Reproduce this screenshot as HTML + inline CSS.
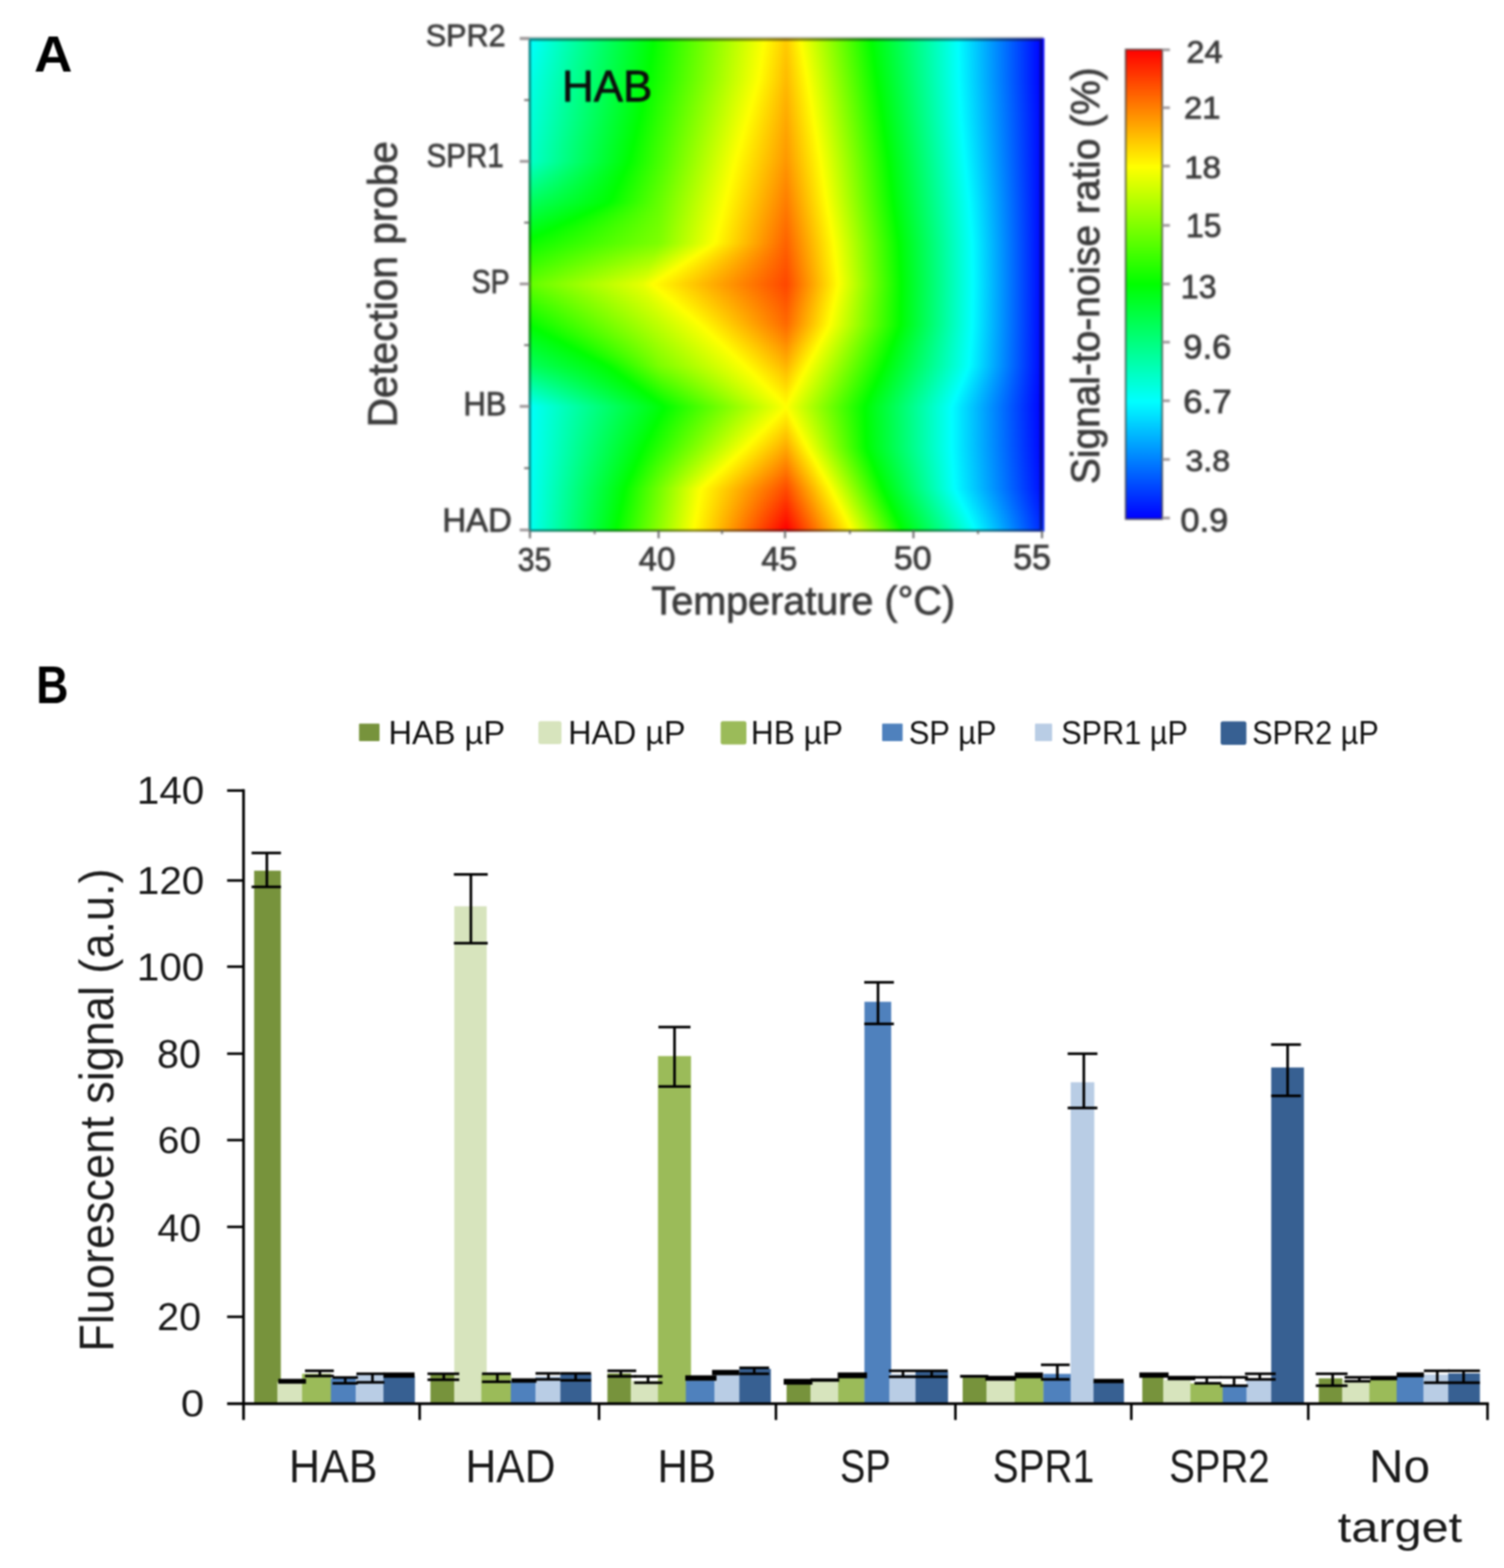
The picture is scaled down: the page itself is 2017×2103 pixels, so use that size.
<!DOCTYPE html>
<html lang="en">
<head>
<meta charset="utf-8">
<title>Figure: signal-to-noise heat map and fluorescent signal bar chart</title>
<style>
html,body{margin:0;padding:0;background:#fff}
body{width:2017px;height:2103px;overflow:hidden}
svg{display:block}
text{font-family:"Liberation Sans", sans-serif;white-space:pre}
.hr rect{shape-rendering:crispEdges}
</style>
</head>
<body>
<svg width="2017" height="2103" viewBox="0 0 2017 2103">
<defs>
<filter id="bl" filterUnits="userSpaceOnUse" x="0" y="0" width="2017" height="2103" color-interpolation-filters="sRGB"><feGaussianBlur stdDeviation="1.05"/></filter>
<filter id="bla" filterUnits="userSpaceOnUse" x="400" y="0" width="1400" height="870" color-interpolation-filters="sRGB"><feGaussianBlur stdDeviation="1.45"/></filter>
<linearGradient id="h0"><stop offset="0" stop-color="#00fffe"/><stop offset="0.0036" stop-color="#00fffe"/><stop offset="0.2428" stop-color="#00ff00"/><stop offset="0.2521" stop-color="#0bff00"/><stop offset="0.4566" stop-color="#feff00"/><stop offset="0.4575" stop-color="#ffff00"/><stop offset="0.4996" stop-color="#ffcb00"/><stop offset="0.5267" stop-color="#ffff00"/><stop offset="0.5272" stop-color="#feff00"/><stop offset="0.6639" stop-color="#00ff00"/><stop offset="0.833" stop-color="#00ffff"/><stop offset="0.9961" stop-color="#0000ff"/><stop offset="1" stop-color="#0000ff"/></linearGradient>
<linearGradient id="h1"><stop offset="0" stop-color="#00fffc"/><stop offset="0.0036" stop-color="#00fffc"/><stop offset="0.2422" stop-color="#00ff00"/><stop offset="0.2521" stop-color="#0cff00"/><stop offset="0.456" stop-color="#feff00"/><stop offset="0.4569" stop-color="#ffff00"/><stop offset="0.4996" stop-color="#ffca00"/><stop offset="0.5274" stop-color="#ffff00"/><stop offset="0.528" stop-color="#feff00"/><stop offset="0.6645" stop-color="#00ff00"/><stop offset="0.8331" stop-color="#00ffff"/><stop offset="0.9961" stop-color="#0000ff"/><stop offset="1" stop-color="#0000ff"/></linearGradient>
<linearGradient id="h2"><stop offset="0" stop-color="#00fffb"/><stop offset="0.0036" stop-color="#00fffb"/><stop offset="0.2416" stop-color="#00ff00"/><stop offset="0.2521" stop-color="#0dff00"/><stop offset="0.4553" stop-color="#feff00"/><stop offset="0.4562" stop-color="#ffff00"/><stop offset="0.4996" stop-color="#ffc900"/><stop offset="0.5282" stop-color="#ffff00"/><stop offset="0.5288" stop-color="#feff00"/><stop offset="0.6651" stop-color="#00ff00"/><stop offset="0.8331" stop-color="#00ffff"/><stop offset="0.9961" stop-color="#0000ff"/><stop offset="1" stop-color="#0000ff"/></linearGradient>
<linearGradient id="h3"><stop offset="0" stop-color="#00fffa"/><stop offset="0.0036" stop-color="#00fffa"/><stop offset="0.241" stop-color="#00ff00"/><stop offset="0.2521" stop-color="#0dff00"/><stop offset="0.4547" stop-color="#feff00"/><stop offset="0.4556" stop-color="#ffff00"/><stop offset="0.4996" stop-color="#ffc800"/><stop offset="0.529" stop-color="#ffff00"/><stop offset="0.5296" stop-color="#feff00"/><stop offset="0.6657" stop-color="#00ff00"/><stop offset="0.8332" stop-color="#00ffff"/><stop offset="0.9961" stop-color="#0000ff"/><stop offset="1" stop-color="#0000ff"/></linearGradient>
<linearGradient id="h4"><stop offset="0" stop-color="#00fff9"/><stop offset="0.0036" stop-color="#00fff9"/><stop offset="0.2404" stop-color="#00ff00"/><stop offset="0.2521" stop-color="#0eff00"/><stop offset="0.4541" stop-color="#feff00"/><stop offset="0.455" stop-color="#ffff00"/><stop offset="0.4996" stop-color="#ffc700"/><stop offset="0.5297" stop-color="#ffff00"/><stop offset="0.5303" stop-color="#feff00"/><stop offset="0.6663" stop-color="#00ff00"/><stop offset="0.8333" stop-color="#00ffff"/><stop offset="0.9961" stop-color="#0000ff"/><stop offset="1" stop-color="#0000ff"/></linearGradient>
<linearGradient id="h5"><stop offset="0" stop-color="#00fff8"/><stop offset="0.0036" stop-color="#00fff8"/><stop offset="0.2398" stop-color="#00ff00"/><stop offset="0.2521" stop-color="#0fff00"/><stop offset="0.4535" stop-color="#feff00"/><stop offset="0.4543" stop-color="#ffff00"/><stop offset="0.4996" stop-color="#ffc600"/><stop offset="0.5305" stop-color="#ffff00"/><stop offset="0.5311" stop-color="#feff00"/><stop offset="0.667" stop-color="#00ff00"/><stop offset="0.8334" stop-color="#00ffff"/><stop offset="0.9961" stop-color="#0000ff"/><stop offset="1" stop-color="#0000ff"/></linearGradient>
<linearGradient id="h6"><stop offset="0" stop-color="#00fff6"/><stop offset="0.0036" stop-color="#00fff6"/><stop offset="0.2392" stop-color="#00ff00"/><stop offset="0.2521" stop-color="#10ff00"/><stop offset="0.4528" stop-color="#feff00"/><stop offset="0.4537" stop-color="#ffff00"/><stop offset="0.4996" stop-color="#ffc500"/><stop offset="0.5313" stop-color="#ffff00"/><stop offset="0.5319" stop-color="#feff00"/><stop offset="0.6676" stop-color="#00ff00"/><stop offset="0.8335" stop-color="#00ffff"/><stop offset="0.9961" stop-color="#0000ff"/><stop offset="1" stop-color="#0000ff"/></linearGradient>
<linearGradient id="h7"><stop offset="0" stop-color="#00fff5"/><stop offset="0.0036" stop-color="#00fff5"/><stop offset="0.2386" stop-color="#00ff00"/><stop offset="0.2521" stop-color="#10ff00"/><stop offset="0.4522" stop-color="#feff00"/><stop offset="0.4531" stop-color="#ffff00"/><stop offset="0.4996" stop-color="#ffc400"/><stop offset="0.5321" stop-color="#ffff00"/><stop offset="0.5327" stop-color="#feff00"/><stop offset="0.6682" stop-color="#00ff00"/><stop offset="0.8335" stop-color="#00ffff"/><stop offset="0.9961" stop-color="#0000ff"/><stop offset="1" stop-color="#0000ff"/></linearGradient>
<linearGradient id="h8"><stop offset="0" stop-color="#00fff4"/><stop offset="0.0036" stop-color="#00fff4"/><stop offset="0.238" stop-color="#00ff00"/><stop offset="0.2521" stop-color="#11ff00"/><stop offset="0.4516" stop-color="#feff00"/><stop offset="0.4525" stop-color="#ffff00"/><stop offset="0.4996" stop-color="#ffc300"/><stop offset="0.5328" stop-color="#ffff00"/><stop offset="0.5334" stop-color="#feff00"/><stop offset="0.6688" stop-color="#00ff00"/><stop offset="0.8336" stop-color="#00ffff"/><stop offset="0.9961" stop-color="#0000ff"/><stop offset="1" stop-color="#0000ff"/></linearGradient>
<linearGradient id="h9"><stop offset="0" stop-color="#00fff3"/><stop offset="0.0036" stop-color="#00fff3"/><stop offset="0.2374" stop-color="#00ff00"/><stop offset="0.2521" stop-color="#12ff00"/><stop offset="0.451" stop-color="#feff00"/><stop offset="0.4518" stop-color="#ffff00"/><stop offset="0.4996" stop-color="#ffc200"/><stop offset="0.5336" stop-color="#ffff00"/><stop offset="0.5342" stop-color="#feff00"/><stop offset="0.6694" stop-color="#00ff00"/><stop offset="0.8337" stop-color="#00ffff"/><stop offset="0.9961" stop-color="#0000ff"/><stop offset="1" stop-color="#0000ff"/></linearGradient>
<linearGradient id="h10"><stop offset="0" stop-color="#00fff2"/><stop offset="0.0036" stop-color="#00fff2"/><stop offset="0.2368" stop-color="#00ff00"/><stop offset="0.2521" stop-color="#12ff00"/><stop offset="0.4503" stop-color="#feff00"/><stop offset="0.4512" stop-color="#ffff00"/><stop offset="0.4996" stop-color="#ffc100"/><stop offset="0.5344" stop-color="#ffff00"/><stop offset="0.535" stop-color="#feff00"/><stop offset="0.67" stop-color="#00ff00"/><stop offset="0.8338" stop-color="#00ffff"/><stop offset="0.9961" stop-color="#0000ff"/><stop offset="1" stop-color="#0000ff"/></linearGradient>
<linearGradient id="h11"><stop offset="0" stop-color="#00fff0"/><stop offset="0.0036" stop-color="#00fff0"/><stop offset="0.2362" stop-color="#00ff00"/><stop offset="0.2521" stop-color="#13ff00"/><stop offset="0.4497" stop-color="#feff00"/><stop offset="0.4506" stop-color="#ffff00"/><stop offset="0.4996" stop-color="#ffc000"/><stop offset="0.5351" stop-color="#ffff00"/><stop offset="0.5358" stop-color="#feff00"/><stop offset="0.6707" stop-color="#00ff00"/><stop offset="0.8339" stop-color="#00ffff"/><stop offset="0.9961" stop-color="#0000ff"/><stop offset="1" stop-color="#0000ff"/></linearGradient>
<linearGradient id="h12"><stop offset="0" stop-color="#00ffef"/><stop offset="0.0036" stop-color="#00ffef"/><stop offset="0.2355" stop-color="#00ff00"/><stop offset="0.2521" stop-color="#14ff00"/><stop offset="0.4491" stop-color="#feff00"/><stop offset="0.45" stop-color="#ffff00"/><stop offset="0.4996" stop-color="#ffbf00"/><stop offset="0.5359" stop-color="#ffff00"/><stop offset="0.5365" stop-color="#feff00"/><stop offset="0.6713" stop-color="#00ff00"/><stop offset="0.8339" stop-color="#00ffff"/><stop offset="0.9961" stop-color="#0000ff"/><stop offset="1" stop-color="#0000ff"/></linearGradient>
<linearGradient id="h13"><stop offset="0" stop-color="#00ffee"/><stop offset="0.0036" stop-color="#00ffee"/><stop offset="0.2349" stop-color="#00ff00"/><stop offset="0.2521" stop-color="#15ff00"/><stop offset="0.4485" stop-color="#feff00"/><stop offset="0.4493" stop-color="#ffff00"/><stop offset="0.4996" stop-color="#ffbe00"/><stop offset="0.5367" stop-color="#ffff00"/><stop offset="0.5373" stop-color="#feff00"/><stop offset="0.6719" stop-color="#00ff00"/><stop offset="0.834" stop-color="#00ffff"/><stop offset="0.9961" stop-color="#0000ff"/><stop offset="1" stop-color="#0000ff"/></linearGradient>
<linearGradient id="h14"><stop offset="0" stop-color="#00ffed"/><stop offset="0.0036" stop-color="#00ffed"/><stop offset="0.2343" stop-color="#00ff00"/><stop offset="0.2521" stop-color="#15ff00"/><stop offset="0.4478" stop-color="#feff00"/><stop offset="0.4487" stop-color="#ffff00"/><stop offset="0.4996" stop-color="#ffbd00"/><stop offset="0.5375" stop-color="#ffff00"/><stop offset="0.5381" stop-color="#feff00"/><stop offset="0.6725" stop-color="#00ff00"/><stop offset="0.8341" stop-color="#00ffff"/><stop offset="0.9961" stop-color="#0000ff"/><stop offset="1" stop-color="#0000ff"/></linearGradient>
<linearGradient id="h15"><stop offset="0" stop-color="#00ffec"/><stop offset="0.0036" stop-color="#00ffec"/><stop offset="0.2337" stop-color="#00ff00"/><stop offset="0.2521" stop-color="#16ff00"/><stop offset="0.4472" stop-color="#feff00"/><stop offset="0.4481" stop-color="#ffff00"/><stop offset="0.4996" stop-color="#ffbc00"/><stop offset="0.5382" stop-color="#ffff00"/><stop offset="0.5389" stop-color="#feff00"/><stop offset="0.6731" stop-color="#00ff00"/><stop offset="0.8342" stop-color="#00ffff"/><stop offset="0.9961" stop-color="#0000ff"/><stop offset="1" stop-color="#0000ff"/></linearGradient>
<linearGradient id="h16"><stop offset="0" stop-color="#00ffea"/><stop offset="0.0036" stop-color="#00ffea"/><stop offset="0.2331" stop-color="#00ff00"/><stop offset="0.2521" stop-color="#17ff00"/><stop offset="0.4466" stop-color="#feff00"/><stop offset="0.4474" stop-color="#ffff00"/><stop offset="0.4996" stop-color="#ffbc00"/><stop offset="0.539" stop-color="#ffff00"/><stop offset="0.5396" stop-color="#feff00"/><stop offset="0.6737" stop-color="#00ff00"/><stop offset="0.8343" stop-color="#00ffff"/><stop offset="0.9961" stop-color="#0000ff"/><stop offset="1" stop-color="#0000ff"/></linearGradient>
<linearGradient id="h17"><stop offset="0" stop-color="#00ffe9"/><stop offset="0.0036" stop-color="#00ffe9"/><stop offset="0.2325" stop-color="#00ff00"/><stop offset="0.2521" stop-color="#17ff00"/><stop offset="0.446" stop-color="#feff00"/><stop offset="0.4468" stop-color="#ffff00"/><stop offset="0.4996" stop-color="#ffbb00"/><stop offset="0.5398" stop-color="#ffff00"/><stop offset="0.5404" stop-color="#feff00"/><stop offset="0.6744" stop-color="#00ff00"/><stop offset="0.8343" stop-color="#00ffff"/><stop offset="0.9961" stop-color="#0000ff"/><stop offset="1" stop-color="#0000ff"/></linearGradient>
<linearGradient id="h18"><stop offset="0" stop-color="#00ffe8"/><stop offset="0.0036" stop-color="#00ffe8"/><stop offset="0.2319" stop-color="#00ff00"/><stop offset="0.2521" stop-color="#18ff00"/><stop offset="0.4453" stop-color="#feff00"/><stop offset="0.4462" stop-color="#ffff00"/><stop offset="0.4996" stop-color="#ffba00"/><stop offset="0.5405" stop-color="#ffff00"/><stop offset="0.5412" stop-color="#feff00"/><stop offset="0.675" stop-color="#00ff00"/><stop offset="0.8344" stop-color="#00ffff"/><stop offset="0.9961" stop-color="#0000ff"/><stop offset="1" stop-color="#0000ff"/></linearGradient>
<linearGradient id="h19"><stop offset="0" stop-color="#00ffe7"/><stop offset="0.0036" stop-color="#00ffe7"/><stop offset="0.231" stop-color="#00ff00"/><stop offset="0.2521" stop-color="#19ff00"/><stop offset="0.4442" stop-color="#feff00"/><stop offset="0.445" stop-color="#ffff00"/><stop offset="0.4996" stop-color="#ffb900"/><stop offset="0.5412" stop-color="#ffff00"/><stop offset="0.5419" stop-color="#feff00"/><stop offset="0.6756" stop-color="#00ff00"/><stop offset="0.8346" stop-color="#00ffff"/><stop offset="0.9961" stop-color="#0000ff"/><stop offset="1" stop-color="#0000ff"/></linearGradient>
<linearGradient id="h20"><stop offset="0" stop-color="#00ffe6"/><stop offset="0.0036" stop-color="#00ffe6"/><stop offset="0.2301" stop-color="#00ff00"/><stop offset="0.2521" stop-color="#1bff00"/><stop offset="0.4429" stop-color="#feff00"/><stop offset="0.4438" stop-color="#ffff00"/><stop offset="0.4996" stop-color="#ffb800"/><stop offset="0.5419" stop-color="#ffff00"/><stop offset="0.5426" stop-color="#feff00"/><stop offset="0.6762" stop-color="#00ff00"/><stop offset="0.8349" stop-color="#00ffff"/><stop offset="0.9961" stop-color="#0000ff"/><stop offset="1" stop-color="#0000ff"/></linearGradient>
<linearGradient id="h21"><stop offset="0" stop-color="#00ffe6"/><stop offset="0.0036" stop-color="#00ffe6"/><stop offset="0.2291" stop-color="#00ff00"/><stop offset="0.2521" stop-color="#1cff00"/><stop offset="0.4417" stop-color="#feff00"/><stop offset="0.4426" stop-color="#ffff00"/><stop offset="0.4996" stop-color="#ffb700"/><stop offset="0.5426" stop-color="#ffff00"/><stop offset="0.5433" stop-color="#feff00"/><stop offset="0.6769" stop-color="#00ff00"/><stop offset="0.8351" stop-color="#00ffff"/><stop offset="0.9961" stop-color="#0001ff"/><stop offset="1" stop-color="#0001ff"/></linearGradient>
<linearGradient id="h22"><stop offset="0" stop-color="#00ffe5"/><stop offset="0.0036" stop-color="#00ffe5"/><stop offset="0.2282" stop-color="#00ff00"/><stop offset="0.2521" stop-color="#1dff00"/><stop offset="0.4404" stop-color="#feff00"/><stop offset="0.4413" stop-color="#ffff00"/><stop offset="0.4996" stop-color="#ffb600"/><stop offset="0.5433" stop-color="#ffff00"/><stop offset="0.544" stop-color="#feff00"/><stop offset="0.6775" stop-color="#00ff00"/><stop offset="0.8353" stop-color="#00ffff"/><stop offset="0.9961" stop-color="#0001ff"/><stop offset="1" stop-color="#0001ff"/></linearGradient>
<linearGradient id="h23"><stop offset="0" stop-color="#00ffe4"/><stop offset="0.0036" stop-color="#00ffe4"/><stop offset="0.2273" stop-color="#00ff00"/><stop offset="0.2521" stop-color="#1eff00"/><stop offset="0.4392" stop-color="#feff00"/><stop offset="0.4401" stop-color="#ffff00"/><stop offset="0.4996" stop-color="#ffb500"/><stop offset="0.544" stop-color="#ffff00"/><stop offset="0.5446" stop-color="#feff00"/><stop offset="0.6781" stop-color="#00ff00"/><stop offset="0.8356" stop-color="#00ffff"/><stop offset="0.9961" stop-color="#0001ff"/><stop offset="1" stop-color="#0001ff"/></linearGradient>
<linearGradient id="h24"><stop offset="0" stop-color="#00ffe4"/><stop offset="0.0036" stop-color="#00ffe4"/><stop offset="0.2263" stop-color="#00ff00"/><stop offset="0.2521" stop-color="#1fff00"/><stop offset="0.438" stop-color="#feff00"/><stop offset="0.4389" stop-color="#ffff00"/><stop offset="0.4996" stop-color="#ffb400"/><stop offset="0.5447" stop-color="#ffff00"/><stop offset="0.5453" stop-color="#feff00"/><stop offset="0.6787" stop-color="#00ff00"/><stop offset="0.8358" stop-color="#00ffff"/><stop offset="0.9961" stop-color="#0001ff"/><stop offset="1" stop-color="#0001ff"/></linearGradient>
<linearGradient id="h25"><stop offset="0" stop-color="#00ffe3"/><stop offset="0.0036" stop-color="#00ffe3"/><stop offset="0.2254" stop-color="#00ff00"/><stop offset="0.2521" stop-color="#21ff00"/><stop offset="0.4367" stop-color="#feff00"/><stop offset="0.4376" stop-color="#ffff00"/><stop offset="0.4996" stop-color="#ffb300"/><stop offset="0.5454" stop-color="#ffff00"/><stop offset="0.546" stop-color="#feff00"/><stop offset="0.6794" stop-color="#00ff00"/><stop offset="0.836" stop-color="#00ffff"/><stop offset="0.9961" stop-color="#0002ff"/><stop offset="1" stop-color="#0002ff"/></linearGradient>
<linearGradient id="h26"><stop offset="0" stop-color="#00ffe2"/><stop offset="0.0036" stop-color="#00ffe2"/><stop offset="0.2245" stop-color="#00ff00"/><stop offset="0.2521" stop-color="#22ff00"/><stop offset="0.4355" stop-color="#feff00"/><stop offset="0.4364" stop-color="#ffff00"/><stop offset="0.4996" stop-color="#ffb200"/><stop offset="0.546" stop-color="#ffff00"/><stop offset="0.5467" stop-color="#feff00"/><stop offset="0.68" stop-color="#00ff00"/><stop offset="0.8363" stop-color="#00ffff"/><stop offset="0.9961" stop-color="#0002ff"/><stop offset="1" stop-color="#0002ff"/></linearGradient>
<linearGradient id="h27"><stop offset="0" stop-color="#00ffe1"/><stop offset="0.0036" stop-color="#00ffe1"/><stop offset="0.2235" stop-color="#00ff00"/><stop offset="0.2521" stop-color="#23ff00"/><stop offset="0.4342" stop-color="#feff00"/><stop offset="0.4352" stop-color="#ffff00"/><stop offset="0.4996" stop-color="#ffb100"/><stop offset="0.5467" stop-color="#ffff00"/><stop offset="0.5474" stop-color="#feff00"/><stop offset="0.6806" stop-color="#00ff00"/><stop offset="0.8365" stop-color="#00ffff"/><stop offset="0.9961" stop-color="#0002ff"/><stop offset="1" stop-color="#0002ff"/></linearGradient>
<linearGradient id="h28"><stop offset="0" stop-color="#00ffe1"/><stop offset="0.0036" stop-color="#00ffe1"/><stop offset="0.2226" stop-color="#00ff00"/><stop offset="0.2521" stop-color="#24ff00"/><stop offset="0.433" stop-color="#feff00"/><stop offset="0.4339" stop-color="#ffff00"/><stop offset="0.4996" stop-color="#ffb000"/><stop offset="0.5474" stop-color="#ffff00"/><stop offset="0.5481" stop-color="#feff00"/><stop offset="0.6812" stop-color="#00ff00"/><stop offset="0.8368" stop-color="#00ffff"/><stop offset="0.9961" stop-color="#0002ff"/><stop offset="1" stop-color="#0002ff"/></linearGradient>
<linearGradient id="h29"><stop offset="0" stop-color="#00ffe0"/><stop offset="0.0036" stop-color="#00ffe0"/><stop offset="0.2217" stop-color="#00ff00"/><stop offset="0.2521" stop-color="#25ff00"/><stop offset="0.4318" stop-color="#feff00"/><stop offset="0.4327" stop-color="#ffff00"/><stop offset="0.4996" stop-color="#ffaf00"/><stop offset="0.5481" stop-color="#ffff00"/><stop offset="0.5488" stop-color="#feff00"/><stop offset="0.6818" stop-color="#00ff00"/><stop offset="0.837" stop-color="#00ffff"/><stop offset="0.9961" stop-color="#0003ff"/><stop offset="1" stop-color="#0003ff"/></linearGradient>
<linearGradient id="h30"><stop offset="0" stop-color="#00ffdf"/><stop offset="0.0036" stop-color="#00ffdf"/><stop offset="0.2207" stop-color="#00ff00"/><stop offset="0.2521" stop-color="#27ff00"/><stop offset="0.4305" stop-color="#feff00"/><stop offset="0.4314" stop-color="#ffff00"/><stop offset="0.4996" stop-color="#ffae00"/><stop offset="0.5488" stop-color="#ffff00"/><stop offset="0.5495" stop-color="#feff00"/><stop offset="0.6825" stop-color="#00ff00"/><stop offset="0.8372" stop-color="#00ffff"/><stop offset="0.9961" stop-color="#0003ff"/><stop offset="1" stop-color="#0003ff"/></linearGradient>
<linearGradient id="h31"><stop offset="0" stop-color="#00ffde"/><stop offset="0.0036" stop-color="#00ffde"/><stop offset="0.2198" stop-color="#00ff00"/><stop offset="0.2521" stop-color="#28ff00"/><stop offset="0.4293" stop-color="#feff00"/><stop offset="0.4302" stop-color="#ffff00"/><stop offset="0.4996" stop-color="#ffad00"/><stop offset="0.5495" stop-color="#ffff00"/><stop offset="0.5501" stop-color="#feff00"/><stop offset="0.6831" stop-color="#00ff00"/><stop offset="0.8375" stop-color="#00ffff"/><stop offset="0.9961" stop-color="#0003ff"/><stop offset="1" stop-color="#0003ff"/></linearGradient>
<linearGradient id="h32"><stop offset="0" stop-color="#00ffde"/><stop offset="0.0036" stop-color="#00ffde"/><stop offset="0.2189" stop-color="#00ff00"/><stop offset="0.2521" stop-color="#29ff00"/><stop offset="0.428" stop-color="#feff00"/><stop offset="0.429" stop-color="#ffff00"/><stop offset="0.4996" stop-color="#ffac00"/><stop offset="0.5502" stop-color="#ffff00"/><stop offset="0.5508" stop-color="#feff00"/><stop offset="0.6837" stop-color="#00ff00"/><stop offset="0.8377" stop-color="#00ffff"/><stop offset="0.9961" stop-color="#0003ff"/><stop offset="1" stop-color="#0003ff"/></linearGradient>
<linearGradient id="h33"><stop offset="0" stop-color="#00ffdd"/><stop offset="0.0036" stop-color="#00ffdd"/><stop offset="0.2179" stop-color="#00ff00"/><stop offset="0.2521" stop-color="#2aff00"/><stop offset="0.4268" stop-color="#feff00"/><stop offset="0.4277" stop-color="#ffff00"/><stop offset="0.4996" stop-color="#ffab00"/><stop offset="0.5508" stop-color="#ffff00"/><stop offset="0.5515" stop-color="#feff00"/><stop offset="0.6843" stop-color="#00ff00"/><stop offset="0.8379" stop-color="#00ffff"/><stop offset="0.9961" stop-color="#0004ff"/><stop offset="1" stop-color="#0004ff"/></linearGradient>
<linearGradient id="h34"><stop offset="0" stop-color="#00ffdc"/><stop offset="0.0036" stop-color="#00ffdc"/><stop offset="0.217" stop-color="#00ff00"/><stop offset="0.2521" stop-color="#2bff00"/><stop offset="0.4256" stop-color="#feff00"/><stop offset="0.4265" stop-color="#ffff00"/><stop offset="0.4996" stop-color="#ffaa00"/><stop offset="0.5515" stop-color="#ffff00"/><stop offset="0.5522" stop-color="#feff00"/><stop offset="0.685" stop-color="#00ff00"/><stop offset="0.8382" stop-color="#00ffff"/><stop offset="0.9961" stop-color="#0004ff"/><stop offset="1" stop-color="#0004ff"/></linearGradient>
<linearGradient id="h35"><stop offset="0" stop-color="#00ffdc"/><stop offset="0.0036" stop-color="#00ffdc"/><stop offset="0.2161" stop-color="#00ff00"/><stop offset="0.2521" stop-color="#2dff00"/><stop offset="0.4243" stop-color="#feff00"/><stop offset="0.4253" stop-color="#ffff00"/><stop offset="0.4996" stop-color="#ffa900"/><stop offset="0.5522" stop-color="#ffff00"/><stop offset="0.5529" stop-color="#feff00"/><stop offset="0.6856" stop-color="#00ff00"/><stop offset="0.8384" stop-color="#00ffff"/><stop offset="0.9961" stop-color="#0004ff"/><stop offset="1" stop-color="#0004ff"/></linearGradient>
<linearGradient id="h36"><stop offset="0" stop-color="#00ffdb"/><stop offset="0.0036" stop-color="#00ffdb"/><stop offset="0.2151" stop-color="#00ff00"/><stop offset="0.2521" stop-color="#2eff00"/><stop offset="0.4231" stop-color="#feff00"/><stop offset="0.424" stop-color="#ffff00"/><stop offset="0.4996" stop-color="#ffa800"/><stop offset="0.5529" stop-color="#ffff00"/><stop offset="0.5536" stop-color="#feff00"/><stop offset="0.6862" stop-color="#00ff00"/><stop offset="0.8387" stop-color="#00ffff"/><stop offset="0.9961" stop-color="#0004ff"/><stop offset="1" stop-color="#0004ff"/></linearGradient>
<linearGradient id="h37"><stop offset="0" stop-color="#00ffda"/><stop offset="0.0036" stop-color="#00ffda"/><stop offset="0.2141" stop-color="#00ff00"/><stop offset="0.2521" stop-color="#2fff00"/><stop offset="0.4218" stop-color="#feff00"/><stop offset="0.4228" stop-color="#ffff00"/><stop offset="0.4996" stop-color="#ffa700"/><stop offset="0.5536" stop-color="#ffff00"/><stop offset="0.5543" stop-color="#feff00"/><stop offset="0.6868" stop-color="#00ff00"/><stop offset="0.839" stop-color="#00ffff"/><stop offset="0.9961" stop-color="#0004ff"/><stop offset="1" stop-color="#0004ff"/></linearGradient>
<linearGradient id="h38"><stop offset="0" stop-color="#00ffd9"/><stop offset="0.0036" stop-color="#00ffd9"/><stop offset="0.213" stop-color="#00ff00"/><stop offset="0.2521" stop-color="#30ff00"/><stop offset="0.4206" stop-color="#feff00"/><stop offset="0.4215" stop-color="#ffff00"/><stop offset="0.4996" stop-color="#ffa600"/><stop offset="0.5543" stop-color="#ffff00"/><stop offset="0.555" stop-color="#feff00"/><stop offset="0.6875" stop-color="#00ff00"/><stop offset="0.8394" stop-color="#00ffff"/><stop offset="0.9961" stop-color="#0004ff"/><stop offset="1" stop-color="#0004ff"/></linearGradient>
<linearGradient id="h39"><stop offset="0" stop-color="#00ffd8"/><stop offset="0.0036" stop-color="#00ffd8"/><stop offset="0.2119" stop-color="#00ff00"/><stop offset="0.2521" stop-color="#31ff00"/><stop offset="0.4193" stop-color="#feff00"/><stop offset="0.4203" stop-color="#ffff00"/><stop offset="0.4996" stop-color="#ffa500"/><stop offset="0.555" stop-color="#ffff00"/><stop offset="0.5557" stop-color="#feff00"/><stop offset="0.6881" stop-color="#00ff00"/><stop offset="0.8398" stop-color="#00ffff"/><stop offset="0.9961" stop-color="#0004ff"/><stop offset="1" stop-color="#0004ff"/></linearGradient>
<linearGradient id="h40"><stop offset="0" stop-color="#00ffd7"/><stop offset="0.0036" stop-color="#00ffd7"/><stop offset="0.2108" stop-color="#00ff00"/><stop offset="0.2521" stop-color="#33ff00"/><stop offset="0.4181" stop-color="#feff00"/><stop offset="0.4191" stop-color="#ffff00"/><stop offset="0.4996" stop-color="#ffa400"/><stop offset="0.5557" stop-color="#ffff00"/><stop offset="0.5564" stop-color="#feff00"/><stop offset="0.6887" stop-color="#00ff00"/><stop offset="0.8402" stop-color="#00ffff"/><stop offset="0.9961" stop-color="#0004ff"/><stop offset="1" stop-color="#0004ff"/></linearGradient>
<linearGradient id="h41"><stop offset="0" stop-color="#00ffd6"/><stop offset="0.0036" stop-color="#00ffd6"/><stop offset="0.2097" stop-color="#00ff00"/><stop offset="0.2521" stop-color="#34ff00"/><stop offset="0.4168" stop-color="#feff00"/><stop offset="0.4178" stop-color="#ffff00"/><stop offset="0.4996" stop-color="#ffa300"/><stop offset="0.5564" stop-color="#ffff00"/><stop offset="0.5571" stop-color="#feff00"/><stop offset="0.6893" stop-color="#00ff00"/><stop offset="0.8406" stop-color="#00ffff"/><stop offset="0.9961" stop-color="#0004ff"/><stop offset="1" stop-color="#0004ff"/></linearGradient>
<linearGradient id="h42"><stop offset="0" stop-color="#00ffd5"/><stop offset="0.0036" stop-color="#00ffd5"/><stop offset="0.2087" stop-color="#00ff00"/><stop offset="0.2521" stop-color="#35ff00"/><stop offset="0.4156" stop-color="#feff00"/><stop offset="0.4166" stop-color="#ffff00"/><stop offset="0.4996" stop-color="#ffa200"/><stop offset="0.5572" stop-color="#ffff00"/><stop offset="0.5578" stop-color="#feff00"/><stop offset="0.69" stop-color="#00ff00"/><stop offset="0.841" stop-color="#00ffff"/><stop offset="0.9961" stop-color="#0004ff"/><stop offset="1" stop-color="#0004ff"/></linearGradient>
<linearGradient id="h43"><stop offset="0" stop-color="#00ffd4"/><stop offset="0.0036" stop-color="#00ffd4"/><stop offset="0.2076" stop-color="#00ff00"/><stop offset="0.2521" stop-color="#36ff00"/><stop offset="0.4143" stop-color="#feff00"/><stop offset="0.4153" stop-color="#ffff00"/><stop offset="0.4996" stop-color="#ffa100"/><stop offset="0.5579" stop-color="#ffff00"/><stop offset="0.5586" stop-color="#feff00"/><stop offset="0.6906" stop-color="#00ff00"/><stop offset="0.8414" stop-color="#00ffff"/><stop offset="0.9961" stop-color="#0004ff"/><stop offset="1" stop-color="#0004ff"/></linearGradient>
<linearGradient id="h44"><stop offset="0" stop-color="#00ffd3"/><stop offset="0.0036" stop-color="#00ffd3"/><stop offset="0.2065" stop-color="#00ff00"/><stop offset="0.2521" stop-color="#38ff00"/><stop offset="0.4131" stop-color="#feff00"/><stop offset="0.4141" stop-color="#ffff00"/><stop offset="0.4996" stop-color="#ffa000"/><stop offset="0.5586" stop-color="#ffff00"/><stop offset="0.5593" stop-color="#feff00"/><stop offset="0.6912" stop-color="#00ff00"/><stop offset="0.8418" stop-color="#00ffff"/><stop offset="0.9961" stop-color="#0004ff"/><stop offset="1" stop-color="#0004ff"/></linearGradient>
<linearGradient id="h45"><stop offset="0" stop-color="#00ffd2"/><stop offset="0.0036" stop-color="#00ffd2"/><stop offset="0.2054" stop-color="#00ff00"/><stop offset="0.2521" stop-color="#39ff00"/><stop offset="0.4118" stop-color="#feff00"/><stop offset="0.4128" stop-color="#ffff00"/><stop offset="0.4996" stop-color="#ff9f00"/><stop offset="0.5593" stop-color="#ffff00"/><stop offset="0.56" stop-color="#feff00"/><stop offset="0.6918" stop-color="#00ff00"/><stop offset="0.8422" stop-color="#00ffff"/><stop offset="0.9961" stop-color="#0004ff"/><stop offset="1" stop-color="#0004ff"/></linearGradient>
<linearGradient id="h46"><stop offset="0" stop-color="#00ffd1"/><stop offset="0.0036" stop-color="#00ffd1"/><stop offset="0.2043" stop-color="#00ff00"/><stop offset="0.2521" stop-color="#3aff00"/><stop offset="0.4106" stop-color="#feff00"/><stop offset="0.4116" stop-color="#ffff00"/><stop offset="0.4996" stop-color="#ff9f00"/><stop offset="0.56" stop-color="#ffff00"/><stop offset="0.5607" stop-color="#feff00"/><stop offset="0.6925" stop-color="#00ff00"/><stop offset="0.8425" stop-color="#00ffff"/><stop offset="0.9961" stop-color="#0004ff"/><stop offset="1" stop-color="#0004ff"/></linearGradient>
<linearGradient id="h47"><stop offset="0" stop-color="#00ffd0"/><stop offset="0.0036" stop-color="#00ffd0"/><stop offset="0.2032" stop-color="#00ff00"/><stop offset="0.2521" stop-color="#3bff00"/><stop offset="0.4093" stop-color="#feff00"/><stop offset="0.4103" stop-color="#ffff00"/><stop offset="0.4996" stop-color="#ff9e00"/><stop offset="0.5607" stop-color="#ffff00"/><stop offset="0.5614" stop-color="#feff00"/><stop offset="0.6931" stop-color="#00ff00"/><stop offset="0.8429" stop-color="#00ffff"/><stop offset="0.9961" stop-color="#0004ff"/><stop offset="1" stop-color="#0004ff"/></linearGradient>
<linearGradient id="h48"><stop offset="0" stop-color="#00ffcf"/><stop offset="0.0036" stop-color="#00ffcf"/><stop offset="0.2021" stop-color="#00ff00"/><stop offset="0.2521" stop-color="#3cff00"/><stop offset="0.4081" stop-color="#feff00"/><stop offset="0.4091" stop-color="#ffff00"/><stop offset="0.4996" stop-color="#ff9d00"/><stop offset="0.5614" stop-color="#ffff00"/><stop offset="0.5621" stop-color="#feff00"/><stop offset="0.6937" stop-color="#00ff00"/><stop offset="0.8433" stop-color="#00ffff"/><stop offset="0.9961" stop-color="#0004ff"/><stop offset="1" stop-color="#0004ff"/></linearGradient>
<linearGradient id="h49"><stop offset="0" stop-color="#00ffce"/><stop offset="0.0036" stop-color="#00ffce"/><stop offset="0.201" stop-color="#00ff00"/><stop offset="0.2521" stop-color="#3eff00"/><stop offset="0.4068" stop-color="#feff00"/><stop offset="0.4079" stop-color="#ffff00"/><stop offset="0.4996" stop-color="#ff9c00"/><stop offset="0.5621" stop-color="#ffff00"/><stop offset="0.5628" stop-color="#feff00"/><stop offset="0.6943" stop-color="#00ff00"/><stop offset="0.8437" stop-color="#00ffff"/><stop offset="0.9961" stop-color="#0004ff"/><stop offset="1" stop-color="#0004ff"/></linearGradient>
<linearGradient id="h50"><stop offset="0" stop-color="#00ffcd"/><stop offset="0.0036" stop-color="#00ffcd"/><stop offset="0.1999" stop-color="#00ff00"/><stop offset="0.2521" stop-color="#3fff00"/><stop offset="0.4056" stop-color="#feff00"/><stop offset="0.4066" stop-color="#ffff00"/><stop offset="0.4996" stop-color="#ff9b00"/><stop offset="0.5628" stop-color="#ffff00"/><stop offset="0.5635" stop-color="#feff00"/><stop offset="0.695" stop-color="#00ff00"/><stop offset="0.8441" stop-color="#00ffff"/><stop offset="0.9961" stop-color="#0004ff"/><stop offset="1" stop-color="#0004ff"/></linearGradient>
<linearGradient id="h51"><stop offset="0" stop-color="#00ffcc"/><stop offset="0.0036" stop-color="#00ffcc"/><stop offset="0.1988" stop-color="#00ff00"/><stop offset="0.2521" stop-color="#40ff00"/><stop offset="0.4043" stop-color="#feff00"/><stop offset="0.4054" stop-color="#ffff00"/><stop offset="0.4996" stop-color="#ff9a00"/><stop offset="0.5636" stop-color="#ffff00"/><stop offset="0.5643" stop-color="#feff00"/><stop offset="0.6956" stop-color="#00ff00"/><stop offset="0.8445" stop-color="#00ffff"/><stop offset="0.9961" stop-color="#0004ff"/><stop offset="1" stop-color="#0004ff"/></linearGradient>
<linearGradient id="h52"><stop offset="0" stop-color="#00ffcc"/><stop offset="0.0036" stop-color="#00ffcc"/><stop offset="0.1977" stop-color="#00ff00"/><stop offset="0.2521" stop-color="#41ff00"/><stop offset="0.4031" stop-color="#feff00"/><stop offset="0.4041" stop-color="#ffff00"/><stop offset="0.4996" stop-color="#ff9900"/><stop offset="0.5643" stop-color="#ffff00"/><stop offset="0.565" stop-color="#feff00"/><stop offset="0.6962" stop-color="#00ff00"/><stop offset="0.8449" stop-color="#00ffff"/><stop offset="0.9961" stop-color="#0004ff"/><stop offset="1" stop-color="#0004ff"/></linearGradient>
<linearGradient id="h53"><stop offset="0" stop-color="#00ffcb"/><stop offset="0.0036" stop-color="#00ffcb"/><stop offset="0.1966" stop-color="#00ff00"/><stop offset="0.2521" stop-color="#42ff00"/><stop offset="0.4018" stop-color="#feff00"/><stop offset="0.4029" stop-color="#ffff00"/><stop offset="0.4996" stop-color="#ff9800"/><stop offset="0.565" stop-color="#ffff00"/><stop offset="0.5657" stop-color="#feff00"/><stop offset="0.6968" stop-color="#00ff00"/><stop offset="0.8453" stop-color="#00ffff"/><stop offset="0.9961" stop-color="#0004ff"/><stop offset="1" stop-color="#0004ff"/></linearGradient>
<linearGradient id="h54"><stop offset="0" stop-color="#00ffca"/><stop offset="0.0036" stop-color="#00ffca"/><stop offset="0.1956" stop-color="#00ff00"/><stop offset="0.2521" stop-color="#44ff00"/><stop offset="0.4006" stop-color="#feff00"/><stop offset="0.4016" stop-color="#ffff00"/><stop offset="0.4996" stop-color="#ff9700"/><stop offset="0.5657" stop-color="#ffff00"/><stop offset="0.5664" stop-color="#feff00"/><stop offset="0.6975" stop-color="#00ff00"/><stop offset="0.8457" stop-color="#00ffff"/><stop offset="0.9961" stop-color="#0004ff"/><stop offset="1" stop-color="#0004ff"/></linearGradient>
<linearGradient id="h55"><stop offset="0" stop-color="#00ffc7"/><stop offset="0.0036" stop-color="#00ffc7"/><stop offset="0.1942" stop-color="#00ff00"/><stop offset="0.2521" stop-color="#45ff00"/><stop offset="0.3994" stop-color="#feff00"/><stop offset="0.4004" stop-color="#ffff00"/><stop offset="0.4996" stop-color="#ff9600"/><stop offset="0.5664" stop-color="#ffff00"/><stop offset="0.5671" stop-color="#feff00"/><stop offset="0.698" stop-color="#00ff00"/><stop offset="0.8461" stop-color="#00ffff"/><stop offset="0.9961" stop-color="#0004ff"/><stop offset="1" stop-color="#0004ff"/></linearGradient>
<linearGradient id="h56"><stop offset="0" stop-color="#00ffc1"/><stop offset="0.0036" stop-color="#00ffc1"/><stop offset="0.1922" stop-color="#00ff00"/><stop offset="0.2521" stop-color="#47ff00"/><stop offset="0.3983" stop-color="#feff00"/><stop offset="0.3993" stop-color="#ffff00"/><stop offset="0.4996" stop-color="#ff9400"/><stop offset="0.567" stop-color="#ffff00"/><stop offset="0.5677" stop-color="#feff00"/><stop offset="0.6985" stop-color="#00ff00"/><stop offset="0.8466" stop-color="#00ffff"/><stop offset="0.9961" stop-color="#0004ff"/><stop offset="1" stop-color="#0004ff"/></linearGradient>
<linearGradient id="h57"><stop offset="0" stop-color="#00ffbb"/><stop offset="0.0036" stop-color="#00ffbb"/><stop offset="0.1901" stop-color="#00ff00"/><stop offset="0.2521" stop-color="#48ff00"/><stop offset="0.3972" stop-color="#feff00"/><stop offset="0.3983" stop-color="#ffff00"/><stop offset="0.4996" stop-color="#ff9300"/><stop offset="0.5676" stop-color="#ffff00"/><stop offset="0.5683" stop-color="#feff00"/><stop offset="0.699" stop-color="#00ff00"/><stop offset="0.847" stop-color="#00ffff"/><stop offset="0.9961" stop-color="#0004ff"/><stop offset="1" stop-color="#0004ff"/></linearGradient>
<linearGradient id="h58"><stop offset="0" stop-color="#00ffb5"/><stop offset="0.0036" stop-color="#00ffb5"/><stop offset="0.1881" stop-color="#00ff00"/><stop offset="0.2521" stop-color="#4aff00"/><stop offset="0.3961" stop-color="#feff00"/><stop offset="0.3972" stop-color="#ffff00"/><stop offset="0.4996" stop-color="#ff9100"/><stop offset="0.5683" stop-color="#ffff00"/><stop offset="0.5689" stop-color="#feff00"/><stop offset="0.6994" stop-color="#00ff00"/><stop offset="0.8475" stop-color="#00ffff"/><stop offset="0.9961" stop-color="#0004ff"/><stop offset="1" stop-color="#0004ff"/></linearGradient>
<linearGradient id="h59"><stop offset="0" stop-color="#00ffaf"/><stop offset="0.0036" stop-color="#00ffaf"/><stop offset="0.1861" stop-color="#00ff00"/><stop offset="0.2521" stop-color="#4cff00"/><stop offset="0.3951" stop-color="#feff00"/><stop offset="0.3961" stop-color="#ffff00"/><stop offset="0.4996" stop-color="#ff9000"/><stop offset="0.5689" stop-color="#ffff00"/><stop offset="0.5696" stop-color="#feff00"/><stop offset="0.6999" stop-color="#00ff00"/><stop offset="0.848" stop-color="#00ffff"/><stop offset="0.9961" stop-color="#0004ff"/><stop offset="1" stop-color="#0004ff"/></linearGradient>
<linearGradient id="h60"><stop offset="0" stop-color="#00ffa9"/><stop offset="0.0036" stop-color="#00ffa9"/><stop offset="0.184" stop-color="#00ff00"/><stop offset="0.2521" stop-color="#4dff00"/><stop offset="0.394" stop-color="#feff00"/><stop offset="0.395" stop-color="#ffff00"/><stop offset="0.4996" stop-color="#ff8e00"/><stop offset="0.5695" stop-color="#ffff00"/><stop offset="0.5702" stop-color="#feff00"/><stop offset="0.7004" stop-color="#00ff00"/><stop offset="0.8484" stop-color="#00ffff"/><stop offset="0.9961" stop-color="#0004ff"/><stop offset="1" stop-color="#0004ff"/></linearGradient>
<linearGradient id="h61"><stop offset="0" stop-color="#00ffa3"/><stop offset="0.0036" stop-color="#00ffa3"/><stop offset="0.182" stop-color="#00ff00"/><stop offset="0.2521" stop-color="#4fff00"/><stop offset="0.3929" stop-color="#feff00"/><stop offset="0.3939" stop-color="#ffff00"/><stop offset="0.4996" stop-color="#ff8d00"/><stop offset="0.5701" stop-color="#ffff00"/><stop offset="0.5708" stop-color="#feff00"/><stop offset="0.7008" stop-color="#00ff00"/><stop offset="0.8489" stop-color="#00ffff"/><stop offset="0.9961" stop-color="#0004ff"/><stop offset="1" stop-color="#0004ff"/></linearGradient>
<linearGradient id="h62"><stop offset="0" stop-color="#00ff9d"/><stop offset="0.0036" stop-color="#00ff9d"/><stop offset="0.18" stop-color="#00ff00"/><stop offset="0.2521" stop-color="#51ff00"/><stop offset="0.3918" stop-color="#feff00"/><stop offset="0.3928" stop-color="#ffff00"/><stop offset="0.4996" stop-color="#ff8c00"/><stop offset="0.5708" stop-color="#ffff00"/><stop offset="0.5714" stop-color="#feff00"/><stop offset="0.7013" stop-color="#00ff00"/><stop offset="0.8493" stop-color="#00ffff"/><stop offset="0.9961" stop-color="#0004ff"/><stop offset="1" stop-color="#0004ff"/></linearGradient>
<linearGradient id="h63"><stop offset="0" stop-color="#00ff97"/><stop offset="0.0036" stop-color="#00ff97"/><stop offset="0.1779" stop-color="#00ff00"/><stop offset="0.2521" stop-color="#52ff00"/><stop offset="0.3907" stop-color="#feff00"/><stop offset="0.3917" stop-color="#ffff00"/><stop offset="0.4996" stop-color="#ff8a00"/><stop offset="0.5714" stop-color="#ffff00"/><stop offset="0.5721" stop-color="#feff00"/><stop offset="0.7018" stop-color="#00ff00"/><stop offset="0.8498" stop-color="#00ffff"/><stop offset="0.9961" stop-color="#0004ff"/><stop offset="1" stop-color="#0004ff"/></linearGradient>
<linearGradient id="h64"><stop offset="0" stop-color="#00ff91"/><stop offset="0.0036" stop-color="#00ff91"/><stop offset="0.1759" stop-color="#00ff00"/><stop offset="0.2521" stop-color="#54ff00"/><stop offset="0.3896" stop-color="#feff00"/><stop offset="0.3907" stop-color="#ffff00"/><stop offset="0.4996" stop-color="#ff8900"/><stop offset="0.572" stop-color="#ffff00"/><stop offset="0.5727" stop-color="#feff00"/><stop offset="0.7022" stop-color="#00ff00"/><stop offset="0.8503" stop-color="#00ffff"/><stop offset="0.9961" stop-color="#0004ff"/><stop offset="1" stop-color="#0004ff"/></linearGradient>
<linearGradient id="h65"><stop offset="0" stop-color="#00ff8b"/><stop offset="0.0036" stop-color="#00ff8b"/><stop offset="0.1739" stop-color="#00ff00"/><stop offset="0.2521" stop-color="#56ff00"/><stop offset="0.3886" stop-color="#feff00"/><stop offset="0.3896" stop-color="#ffff00"/><stop offset="0.4996" stop-color="#ff8700"/><stop offset="0.5726" stop-color="#ffff00"/><stop offset="0.5733" stop-color="#feff00"/><stop offset="0.7027" stop-color="#00ff00"/><stop offset="0.8507" stop-color="#00ffff"/><stop offset="0.9961" stop-color="#0004ff"/><stop offset="1" stop-color="#0004ff"/></linearGradient>
<linearGradient id="h66"><stop offset="0" stop-color="#00ff85"/><stop offset="0.0036" stop-color="#00ff85"/><stop offset="0.1718" stop-color="#00ff00"/><stop offset="0.2521" stop-color="#58ff00"/><stop offset="0.3875" stop-color="#feff00"/><stop offset="0.3885" stop-color="#ffff00"/><stop offset="0.4996" stop-color="#ff8600"/><stop offset="0.5733" stop-color="#ffff00"/><stop offset="0.5739" stop-color="#feff00"/><stop offset="0.7032" stop-color="#00ff00"/><stop offset="0.8512" stop-color="#00ffff"/><stop offset="0.9961" stop-color="#0004ff"/><stop offset="1" stop-color="#0004ff"/></linearGradient>
<linearGradient id="h67"><stop offset="0" stop-color="#00ff7f"/><stop offset="0.0036" stop-color="#00ff7f"/><stop offset="0.1698" stop-color="#00ff00"/><stop offset="0.2521" stop-color="#59ff00"/><stop offset="0.3864" stop-color="#feff00"/><stop offset="0.3874" stop-color="#ffff00"/><stop offset="0.4996" stop-color="#ff8400"/><stop offset="0.5739" stop-color="#ffff00"/><stop offset="0.5746" stop-color="#feff00"/><stop offset="0.7036" stop-color="#00ff00"/><stop offset="0.8516" stop-color="#00ffff"/><stop offset="0.9961" stop-color="#0004ff"/><stop offset="1" stop-color="#0004ff"/></linearGradient>
<linearGradient id="h68"><stop offset="0" stop-color="#00ff79"/><stop offset="0.0036" stop-color="#00ff79"/><stop offset="0.1678" stop-color="#00ff00"/><stop offset="0.2521" stop-color="#5bff00"/><stop offset="0.3853" stop-color="#feff00"/><stop offset="0.3863" stop-color="#ffff00"/><stop offset="0.4996" stop-color="#ff8300"/><stop offset="0.5745" stop-color="#ffff00"/><stop offset="0.5752" stop-color="#feff00"/><stop offset="0.7041" stop-color="#00ff00"/><stop offset="0.8521" stop-color="#00ffff"/><stop offset="0.9961" stop-color="#0004ff"/><stop offset="1" stop-color="#0004ff"/></linearGradient>
<linearGradient id="h69"><stop offset="0" stop-color="#00ff73"/><stop offset="0.0036" stop-color="#00ff73"/><stop offset="0.1657" stop-color="#00ff00"/><stop offset="0.2521" stop-color="#5dff00"/><stop offset="0.3842" stop-color="#feff00"/><stop offset="0.3852" stop-color="#ffff00"/><stop offset="0.4996" stop-color="#ff8100"/><stop offset="0.5752" stop-color="#ffff00"/><stop offset="0.5758" stop-color="#feff00"/><stop offset="0.7046" stop-color="#00ff00"/><stop offset="0.8525" stop-color="#00ffff"/><stop offset="0.9961" stop-color="#0004ff"/><stop offset="1" stop-color="#0004ff"/></linearGradient>
<linearGradient id="h70"><stop offset="0" stop-color="#00ff6d"/><stop offset="0.0036" stop-color="#00ff6d"/><stop offset="0.1637" stop-color="#00ff00"/><stop offset="0.2521" stop-color="#5eff00"/><stop offset="0.3831" stop-color="#feff00"/><stop offset="0.3841" stop-color="#ffff00"/><stop offset="0.4996" stop-color="#ff8000"/><stop offset="0.5758" stop-color="#ffff00"/><stop offset="0.5764" stop-color="#feff00"/><stop offset="0.705" stop-color="#00ff00"/><stop offset="0.853" stop-color="#00ffff"/><stop offset="0.9961" stop-color="#0004ff"/><stop offset="1" stop-color="#0004ff"/></linearGradient>
<linearGradient id="h71"><stop offset="0" stop-color="#00ff67"/><stop offset="0.0036" stop-color="#00ff67"/><stop offset="0.1617" stop-color="#00ff00"/><stop offset="0.2521" stop-color="#60ff00"/><stop offset="0.3821" stop-color="#feff00"/><stop offset="0.3831" stop-color="#ffff00"/><stop offset="0.4996" stop-color="#ff7f00"/><stop offset="0.5764" stop-color="#ffff00"/><stop offset="0.5771" stop-color="#feff00"/><stop offset="0.7055" stop-color="#00ff00"/><stop offset="0.8535" stop-color="#00ffff"/><stop offset="0.9961" stop-color="#0004ff"/><stop offset="1" stop-color="#0004ff"/></linearGradient>
<linearGradient id="h72"><stop offset="0" stop-color="#00ff60"/><stop offset="0.0036" stop-color="#00ff60"/><stop offset="0.1596" stop-color="#00ff00"/><stop offset="0.2521" stop-color="#62ff00"/><stop offset="0.381" stop-color="#feff00"/><stop offset="0.382" stop-color="#ffff00"/><stop offset="0.4996" stop-color="#ff7d00"/><stop offset="0.577" stop-color="#ffff00"/><stop offset="0.5777" stop-color="#feff00"/><stop offset="0.706" stop-color="#00ff00"/><stop offset="0.8539" stop-color="#00ffff"/><stop offset="0.9961" stop-color="#0004ff"/><stop offset="1" stop-color="#0004ff"/></linearGradient>
<linearGradient id="h73"><stop offset="0" stop-color="#00ff5a"/><stop offset="0.0036" stop-color="#00ff5a"/><stop offset="0.1575" stop-color="#00ff00"/><stop offset="0.2521" stop-color="#63ff00"/><stop offset="0.3799" stop-color="#feff00"/><stop offset="0.3809" stop-color="#ffff00"/><stop offset="0.4996" stop-color="#ff7c00"/><stop offset="0.5777" stop-color="#ffff00"/><stop offset="0.5783" stop-color="#feff00"/><stop offset="0.7064" stop-color="#00ff00"/><stop offset="0.8544" stop-color="#00ffff"/><stop offset="0.9961" stop-color="#0004ff"/><stop offset="1" stop-color="#0004ff"/></linearGradient>
<linearGradient id="h74"><stop offset="0" stop-color="#00ff55"/><stop offset="0.0036" stop-color="#00ff55"/><stop offset="0.1481" stop-color="#00ff00"/><stop offset="0.1491" stop-color="#01ff00"/><stop offset="0.2521" stop-color="#65ff00"/><stop offset="0.3788" stop-color="#feff00"/><stop offset="0.3798" stop-color="#ffff00"/><stop offset="0.4996" stop-color="#ff7a00"/><stop offset="0.5784" stop-color="#ffff00"/><stop offset="0.5791" stop-color="#feff00"/><stop offset="0.7071" stop-color="#00ff00"/><stop offset="0.8547" stop-color="#00ffff"/><stop offset="0.9961" stop-color="#0004ff"/><stop offset="1" stop-color="#0004ff"/></linearGradient>
<linearGradient id="h75"><stop offset="0" stop-color="#00ff4f"/><stop offset="0.0036" stop-color="#00ff4f"/><stop offset="0.1386" stop-color="#00ff00"/><stop offset="0.1407" stop-color="#01ff00"/><stop offset="0.2521" stop-color="#66ff00"/><stop offset="0.3777" stop-color="#feff00"/><stop offset="0.3787" stop-color="#ffff00"/><stop offset="0.4996" stop-color="#ff7900"/><stop offset="0.5792" stop-color="#ffff00"/><stop offset="0.5799" stop-color="#feff00"/><stop offset="0.7077" stop-color="#00ff00"/><stop offset="0.855" stop-color="#00ffff"/><stop offset="0.9961" stop-color="#0004ff"/><stop offset="1" stop-color="#0004ff"/></linearGradient>
<linearGradient id="h76"><stop offset="0" stop-color="#00ff4a"/><stop offset="0.0036" stop-color="#00ff4a"/><stop offset="0.1292" stop-color="#00ff00"/><stop offset="0.1323" stop-color="#02ff00"/><stop offset="0.2521" stop-color="#68ff00"/><stop offset="0.3766" stop-color="#feff00"/><stop offset="0.3776" stop-color="#ffff00"/><stop offset="0.4996" stop-color="#ff7700"/><stop offset="0.58" stop-color="#ffff00"/><stop offset="0.5806" stop-color="#feff00"/><stop offset="0.7083" stop-color="#00ff00"/><stop offset="0.8553" stop-color="#00ffff"/><stop offset="0.9961" stop-color="#0004ff"/><stop offset="1" stop-color="#0004ff"/></linearGradient>
<linearGradient id="h77"><stop offset="0" stop-color="#00ff44"/><stop offset="0.0036" stop-color="#00ff44"/><stop offset="0.1197" stop-color="#00ff00"/><stop offset="0.1239" stop-color="#02ff00"/><stop offset="0.2521" stop-color="#69ff00"/><stop offset="0.3755" stop-color="#feff00"/><stop offset="0.3765" stop-color="#ffff00"/><stop offset="0.4996" stop-color="#ff7600"/><stop offset="0.5808" stop-color="#ffff00"/><stop offset="0.5814" stop-color="#feff00"/><stop offset="0.7089" stop-color="#00ff00"/><stop offset="0.8556" stop-color="#00ffff"/><stop offset="0.9961" stop-color="#0004ff"/><stop offset="1" stop-color="#0004ff"/></linearGradient>
<linearGradient id="h78"><stop offset="0" stop-color="#00ff3f"/><stop offset="0.0036" stop-color="#00ff3f"/><stop offset="0.1103" stop-color="#00ff00"/><stop offset="0.1154" stop-color="#03ff00"/><stop offset="0.2521" stop-color="#6bff00"/><stop offset="0.3744" stop-color="#feff00"/><stop offset="0.3754" stop-color="#ffff00"/><stop offset="0.4996" stop-color="#ff7400"/><stop offset="0.5815" stop-color="#ffff00"/><stop offset="0.5822" stop-color="#feff00"/><stop offset="0.7096" stop-color="#00ff00"/><stop offset="0.856" stop-color="#00ffff"/><stop offset="0.9961" stop-color="#0004ff"/><stop offset="1" stop-color="#0004ff"/></linearGradient>
<linearGradient id="h79"><stop offset="0" stop-color="#00ff39"/><stop offset="0.0036" stop-color="#00ff39"/><stop offset="0.1008" stop-color="#00ff00"/><stop offset="0.107" stop-color="#04ff00"/><stop offset="0.2521" stop-color="#6cff00"/><stop offset="0.3733" stop-color="#feff00"/><stop offset="0.3743" stop-color="#ffff00"/><stop offset="0.4996" stop-color="#ff7300"/><stop offset="0.5823" stop-color="#ffff00"/><stop offset="0.583" stop-color="#feff00"/><stop offset="0.7102" stop-color="#00ff00"/><stop offset="0.8563" stop-color="#00ffff"/><stop offset="0.9961" stop-color="#0004ff"/><stop offset="1" stop-color="#0004ff"/></linearGradient>
<linearGradient id="h80"><stop offset="0" stop-color="#00ff34"/><stop offset="0.0036" stop-color="#00ff34"/><stop offset="0.0914" stop-color="#00ff00"/><stop offset="0.0986" stop-color="#04ff00"/><stop offset="0.2521" stop-color="#6eff00"/><stop offset="0.3722" stop-color="#feff00"/><stop offset="0.3732" stop-color="#ffff00"/><stop offset="0.4996" stop-color="#ff7100"/><stop offset="0.5831" stop-color="#ffff00"/><stop offset="0.5837" stop-color="#feff00"/><stop offset="0.7108" stop-color="#00ff00"/><stop offset="0.8566" stop-color="#00ffff"/><stop offset="0.9961" stop-color="#0004ff"/><stop offset="1" stop-color="#0004ff"/></linearGradient>
<linearGradient id="h81"><stop offset="0" stop-color="#00ff2e"/><stop offset="0.0036" stop-color="#00ff2e"/><stop offset="0.0819" stop-color="#00ff00"/><stop offset="0.0902" stop-color="#05ff00"/><stop offset="0.2521" stop-color="#6fff00"/><stop offset="0.3712" stop-color="#feff00"/><stop offset="0.3721" stop-color="#ffff00"/><stop offset="0.4996" stop-color="#ff7000"/><stop offset="0.5839" stop-color="#ffff00"/><stop offset="0.5845" stop-color="#feff00"/><stop offset="0.7114" stop-color="#00ff00"/><stop offset="0.8569" stop-color="#00ffff"/><stop offset="0.9961" stop-color="#0004ff"/><stop offset="1" stop-color="#0004ff"/></linearGradient>
<linearGradient id="h82"><stop offset="0" stop-color="#00ff28"/><stop offset="0.0036" stop-color="#00ff28"/><stop offset="0.0725" stop-color="#00ff00"/><stop offset="0.0817" stop-color="#05ff00"/><stop offset="0.2521" stop-color="#70ff00"/><stop offset="0.3701" stop-color="#feff00"/><stop offset="0.371" stop-color="#ffff00"/><stop offset="0.4996" stop-color="#ff6f00"/><stop offset="0.5846" stop-color="#ffff00"/><stop offset="0.5853" stop-color="#feff00"/><stop offset="0.7121" stop-color="#00ff00"/><stop offset="0.8572" stop-color="#00ffff"/><stop offset="0.9961" stop-color="#0004ff"/><stop offset="1" stop-color="#0004ff"/></linearGradient>
<linearGradient id="h83"><stop offset="0" stop-color="#00ff23"/><stop offset="0.0036" stop-color="#00ff23"/><stop offset="0.063" stop-color="#00ff00"/><stop offset="0.0733" stop-color="#06ff00"/><stop offset="0.2521" stop-color="#72ff00"/><stop offset="0.369" stop-color="#feff00"/><stop offset="0.37" stop-color="#ffff00"/><stop offset="0.4996" stop-color="#ff6d00"/><stop offset="0.5854" stop-color="#ffff00"/><stop offset="0.5861" stop-color="#feff00"/><stop offset="0.7127" stop-color="#00ff00"/><stop offset="0.8575" stop-color="#00ffff"/><stop offset="0.9961" stop-color="#0004ff"/><stop offset="1" stop-color="#0004ff"/></linearGradient>
<linearGradient id="h84"><stop offset="0" stop-color="#00ff1d"/><stop offset="0.0036" stop-color="#00ff1d"/><stop offset="0.0536" stop-color="#00ff00"/><stop offset="0.0649" stop-color="#07ff00"/><stop offset="0.2521" stop-color="#73ff00"/><stop offset="0.3679" stop-color="#feff00"/><stop offset="0.3689" stop-color="#ffff00"/><stop offset="0.4996" stop-color="#ff6c00"/><stop offset="0.5862" stop-color="#ffff00"/><stop offset="0.5868" stop-color="#feff00"/><stop offset="0.7133" stop-color="#00ff00"/><stop offset="0.8579" stop-color="#00ffff"/><stop offset="0.9961" stop-color="#0004ff"/><stop offset="1" stop-color="#0004ff"/></linearGradient>
<linearGradient id="h85"><stop offset="0" stop-color="#00ff18"/><stop offset="0.0036" stop-color="#00ff18"/><stop offset="0.0441" stop-color="#00ff00"/><stop offset="0.0565" stop-color="#07ff00"/><stop offset="0.2521" stop-color="#75ff00"/><stop offset="0.3668" stop-color="#feff00"/><stop offset="0.3678" stop-color="#ffff00"/><stop offset="0.4996" stop-color="#ff6a00"/><stop offset="0.587" stop-color="#ffff00"/><stop offset="0.5876" stop-color="#feff00"/><stop offset="0.7139" stop-color="#00ff00"/><stop offset="0.8582" stop-color="#00ffff"/><stop offset="0.9961" stop-color="#0004ff"/><stop offset="1" stop-color="#0004ff"/></linearGradient>
<linearGradient id="h86"><stop offset="0" stop-color="#00ff12"/><stop offset="0.0036" stop-color="#00ff12"/><stop offset="0.0347" stop-color="#00ff00"/><stop offset="0.0481" stop-color="#08ff00"/><stop offset="0.2521" stop-color="#76ff00"/><stop offset="0.3657" stop-color="#feff00"/><stop offset="0.3667" stop-color="#ffff00"/><stop offset="0.4996" stop-color="#ff6900"/><stop offset="0.5877" stop-color="#ffff00"/><stop offset="0.5884" stop-color="#feff00"/><stop offset="0.7146" stop-color="#00ff00"/><stop offset="0.8585" stop-color="#00ffff"/><stop offset="0.9961" stop-color="#0004ff"/><stop offset="1" stop-color="#0004ff"/></linearGradient>
<linearGradient id="h87"><stop offset="0" stop-color="#00ff0d"/><stop offset="0.0036" stop-color="#00ff0d"/><stop offset="0.0253" stop-color="#00ff00"/><stop offset="0.0396" stop-color="#08ff00"/><stop offset="0.2521" stop-color="#78ff00"/><stop offset="0.3646" stop-color="#feff00"/><stop offset="0.3656" stop-color="#ffff00"/><stop offset="0.4996" stop-color="#ff6700"/><stop offset="0.5885" stop-color="#ffff00"/><stop offset="0.5892" stop-color="#feff00"/><stop offset="0.7152" stop-color="#00ff00"/><stop offset="0.8588" stop-color="#00ffff"/><stop offset="0.9961" stop-color="#0004ff"/><stop offset="1" stop-color="#0004ff"/></linearGradient>
<linearGradient id="h88"><stop offset="0" stop-color="#00ff07"/><stop offset="0.0036" stop-color="#00ff07"/><stop offset="0.0158" stop-color="#00ff00"/><stop offset="0.0312" stop-color="#09ff00"/><stop offset="0.2521" stop-color="#79ff00"/><stop offset="0.3635" stop-color="#feff00"/><stop offset="0.3645" stop-color="#ffff00"/><stop offset="0.4996" stop-color="#ff6600"/><stop offset="0.5893" stop-color="#ffff00"/><stop offset="0.5899" stop-color="#feff00"/><stop offset="0.7158" stop-color="#00ff00"/><stop offset="0.8591" stop-color="#00ffff"/><stop offset="0.9961" stop-color="#0004ff"/><stop offset="1" stop-color="#0004ff"/></linearGradient>
<linearGradient id="h89"><stop offset="0" stop-color="#00ff02"/><stop offset="0.0036" stop-color="#00ff02"/><stop offset="0.0064" stop-color="#00ff00"/><stop offset="0.0228" stop-color="#0aff00"/><stop offset="0.2521" stop-color="#7bff00"/><stop offset="0.3624" stop-color="#feff00"/><stop offset="0.3634" stop-color="#ffff00"/><stop offset="0.4996" stop-color="#ff6400"/><stop offset="0.5901" stop-color="#ffff00"/><stop offset="0.5907" stop-color="#feff00"/><stop offset="0.7164" stop-color="#00ff00"/><stop offset="0.8594" stop-color="#00ffff"/><stop offset="0.9961" stop-color="#0004ff"/><stop offset="1" stop-color="#0004ff"/></linearGradient>
<linearGradient id="h90"><stop offset="0" stop-color="#04ff00"/><stop offset="0.0036" stop-color="#04ff00"/><stop offset="0.0144" stop-color="#0aff00"/><stop offset="0.2521" stop-color="#7cff00"/><stop offset="0.3613" stop-color="#feff00"/><stop offset="0.3623" stop-color="#ffff00"/><stop offset="0.4996" stop-color="#ff6300"/><stop offset="0.5908" stop-color="#ffff00"/><stop offset="0.5915" stop-color="#feff00"/><stop offset="0.7171" stop-color="#00ff00"/><stop offset="0.8598" stop-color="#00ffff"/><stop offset="0.9961" stop-color="#0004ff"/><stop offset="1" stop-color="#0004ff"/></linearGradient>
<linearGradient id="h91"><stop offset="0" stop-color="#09ff00"/><stop offset="0.0036" stop-color="#09ff00"/><stop offset="0.006" stop-color="#0bff00"/><stop offset="0.2521" stop-color="#7dff00"/><stop offset="0.3602" stop-color="#feff00"/><stop offset="0.3612" stop-color="#ffff00"/><stop offset="0.4996" stop-color="#ff6200"/><stop offset="0.5916" stop-color="#ffff00"/><stop offset="0.5923" stop-color="#feff00"/><stop offset="0.7177" stop-color="#00ff00"/><stop offset="0.8601" stop-color="#00ffff"/><stop offset="0.9961" stop-color="#0004ff"/><stop offset="1" stop-color="#0004ff"/></linearGradient>
<linearGradient id="h92"><stop offset="0" stop-color="#0fff00"/><stop offset="0.0036" stop-color="#0fff00"/><stop offset="0.2508" stop-color="#82ff00"/><stop offset="0.3551" stop-color="#feff00"/><stop offset="0.3561" stop-color="#ffff00"/><stop offset="0.4996" stop-color="#ff6000"/><stop offset="0.5922" stop-color="#ffff00"/><stop offset="0.5928" stop-color="#feff00"/><stop offset="0.718" stop-color="#00ff00"/><stop offset="0.8602" stop-color="#00ffff"/><stop offset="0.9961" stop-color="#0004ff"/><stop offset="1" stop-color="#0004ff"/></linearGradient>
<linearGradient id="h93"><stop offset="0" stop-color="#13ff00"/><stop offset="0.0036" stop-color="#13ff00"/><stop offset="0.2492" stop-color="#88ff00"/><stop offset="0.3484" stop-color="#feff00"/><stop offset="0.3494" stop-color="#ffff00"/><stop offset="0.4996" stop-color="#ff5f00"/><stop offset="0.5926" stop-color="#ffff00"/><stop offset="0.5933" stop-color="#feff00"/><stop offset="0.7183" stop-color="#00ff00"/><stop offset="0.8603" stop-color="#00ffff"/><stop offset="0.9961" stop-color="#0004ff"/><stop offset="1" stop-color="#0004ff"/></linearGradient>
<linearGradient id="h94"><stop offset="0" stop-color="#18ff00"/><stop offset="0.0036" stop-color="#18ff00"/><stop offset="0.2475" stop-color="#8eff00"/><stop offset="0.3417" stop-color="#feff00"/><stop offset="0.3428" stop-color="#ffff00"/><stop offset="0.4996" stop-color="#ff5d00"/><stop offset="0.5931" stop-color="#ffff00"/><stop offset="0.5938" stop-color="#feff00"/><stop offset="0.7185" stop-color="#00ff00"/><stop offset="0.8604" stop-color="#00ffff"/><stop offset="0.9961" stop-color="#0004ff"/><stop offset="1" stop-color="#0004ff"/></linearGradient>
<linearGradient id="h95"><stop offset="0" stop-color="#1dff00"/><stop offset="0.0036" stop-color="#1dff00"/><stop offset="0.2458" stop-color="#93ff00"/><stop offset="0.335" stop-color="#feff00"/><stop offset="0.3361" stop-color="#ffff00"/><stop offset="0.4996" stop-color="#ff5c00"/><stop offset="0.5936" stop-color="#ffff00"/><stop offset="0.5942" stop-color="#feff00"/><stop offset="0.7187" stop-color="#00ff00"/><stop offset="0.8605" stop-color="#00ffff"/><stop offset="0.9961" stop-color="#0004ff"/><stop offset="1" stop-color="#0004ff"/></linearGradient>
<linearGradient id="h96"><stop offset="0" stop-color="#22ff00"/><stop offset="0.0036" stop-color="#22ff00"/><stop offset="0.2441" stop-color="#99ff00"/><stop offset="0.3283" stop-color="#feff00"/><stop offset="0.3295" stop-color="#ffff00"/><stop offset="0.4996" stop-color="#ff5a00"/><stop offset="0.5941" stop-color="#ffff00"/><stop offset="0.5947" stop-color="#feff00"/><stop offset="0.7189" stop-color="#00ff00"/><stop offset="0.8605" stop-color="#00ffff"/><stop offset="0.9961" stop-color="#0004ff"/><stop offset="1" stop-color="#0004ff"/></linearGradient>
<linearGradient id="h97"><stop offset="0" stop-color="#27ff00"/><stop offset="0.0036" stop-color="#27ff00"/><stop offset="0.2424" stop-color="#9fff00"/><stop offset="0.3216" stop-color="#feff00"/><stop offset="0.3228" stop-color="#ffff00"/><stop offset="0.4996" stop-color="#ff5900"/><stop offset="0.5945" stop-color="#ffff00"/><stop offset="0.5951" stop-color="#feff00"/><stop offset="0.7192" stop-color="#00ff00"/><stop offset="0.8606" stop-color="#00ffff"/><stop offset="0.9961" stop-color="#0004ff"/><stop offset="1" stop-color="#0004ff"/></linearGradient>
<linearGradient id="h98"><stop offset="0" stop-color="#2bff00"/><stop offset="0.0036" stop-color="#2bff00"/><stop offset="0.2407" stop-color="#a5ff00"/><stop offset="0.3149" stop-color="#feff00"/><stop offset="0.3161" stop-color="#ffff00"/><stop offset="0.4996" stop-color="#ff5700"/><stop offset="0.595" stop-color="#ffff00"/><stop offset="0.5956" stop-color="#feff00"/><stop offset="0.7194" stop-color="#00ff00"/><stop offset="0.8607" stop-color="#00ffff"/><stop offset="0.9961" stop-color="#0004ff"/><stop offset="1" stop-color="#0004ff"/></linearGradient>
<linearGradient id="h99"><stop offset="0" stop-color="#30ff00"/><stop offset="0.0036" stop-color="#30ff00"/><stop offset="0.2391" stop-color="#abff00"/><stop offset="0.3082" stop-color="#feff00"/><stop offset="0.3095" stop-color="#ffff00"/><stop offset="0.4996" stop-color="#ff5600"/><stop offset="0.5955" stop-color="#ffff00"/><stop offset="0.5961" stop-color="#feff00"/><stop offset="0.7196" stop-color="#00ff00"/><stop offset="0.8608" stop-color="#00ffff"/><stop offset="0.9961" stop-color="#0004ff"/><stop offset="1" stop-color="#0004ff"/></linearGradient>
<linearGradient id="h100"><stop offset="0" stop-color="#35ff00"/><stop offset="0.0036" stop-color="#35ff00"/><stop offset="0.2374" stop-color="#b0ff00"/><stop offset="0.3015" stop-color="#feff00"/><stop offset="0.3028" stop-color="#ffff00"/><stop offset="0.4996" stop-color="#ff5500"/><stop offset="0.5959" stop-color="#ffff00"/><stop offset="0.5965" stop-color="#feff00"/><stop offset="0.7199" stop-color="#00ff00"/><stop offset="0.8608" stop-color="#00ffff"/><stop offset="0.9961" stop-color="#0004ff"/><stop offset="1" stop-color="#0004ff"/></linearGradient>
<linearGradient id="h101"><stop offset="0" stop-color="#3aff00"/><stop offset="0.0036" stop-color="#3aff00"/><stop offset="0.2357" stop-color="#b6ff00"/><stop offset="0.2948" stop-color="#feff00"/><stop offset="0.2961" stop-color="#ffff00"/><stop offset="0.4996" stop-color="#ff5300"/><stop offset="0.5964" stop-color="#ffff00"/><stop offset="0.597" stop-color="#feff00"/><stop offset="0.7201" stop-color="#00ff00"/><stop offset="0.8609" stop-color="#00ffff"/><stop offset="0.9961" stop-color="#0004ff"/><stop offset="1" stop-color="#0004ff"/></linearGradient>
<linearGradient id="h102"><stop offset="0" stop-color="#3fff00"/><stop offset="0.0036" stop-color="#3fff00"/><stop offset="0.234" stop-color="#bcff00"/><stop offset="0.2881" stop-color="#feff00"/><stop offset="0.2895" stop-color="#ffff00"/><stop offset="0.4996" stop-color="#ff5200"/><stop offset="0.5969" stop-color="#ffff00"/><stop offset="0.5975" stop-color="#feff00"/><stop offset="0.7203" stop-color="#00ff00"/><stop offset="0.861" stop-color="#00ffff"/><stop offset="0.9961" stop-color="#0004ff"/><stop offset="1" stop-color="#0004ff"/></linearGradient>
<linearGradient id="h103"><stop offset="0" stop-color="#44ff00"/><stop offset="0.0036" stop-color="#44ff00"/><stop offset="0.2323" stop-color="#c2ff00"/><stop offset="0.2814" stop-color="#feff00"/><stop offset="0.2828" stop-color="#ffff00"/><stop offset="0.4996" stop-color="#ff5000"/><stop offset="0.5973" stop-color="#ffff00"/><stop offset="0.5979" stop-color="#feff00"/><stop offset="0.7205" stop-color="#00ff00"/><stop offset="0.8611" stop-color="#00ffff"/><stop offset="0.9961" stop-color="#0004ff"/><stop offset="1" stop-color="#0004ff"/></linearGradient>
<linearGradient id="h104"><stop offset="0" stop-color="#48ff00"/><stop offset="0.0036" stop-color="#48ff00"/><stop offset="0.2306" stop-color="#c8ff00"/><stop offset="0.2747" stop-color="#feff00"/><stop offset="0.2761" stop-color="#ffff00"/><stop offset="0.4996" stop-color="#ff4f00"/><stop offset="0.5978" stop-color="#ffff00"/><stop offset="0.5984" stop-color="#feff00"/><stop offset="0.7208" stop-color="#00ff00"/><stop offset="0.8612" stop-color="#00ffff"/><stop offset="0.9961" stop-color="#0004ff"/><stop offset="1" stop-color="#0004ff"/></linearGradient>
<linearGradient id="h105"><stop offset="0" stop-color="#4dff00"/><stop offset="0.0036" stop-color="#4dff00"/><stop offset="0.2289" stop-color="#cdff00"/><stop offset="0.268" stop-color="#feff00"/><stop offset="0.2695" stop-color="#ffff00"/><stop offset="0.4996" stop-color="#ff4d00"/><stop offset="0.5983" stop-color="#ffff00"/><stop offset="0.5989" stop-color="#feff00"/><stop offset="0.721" stop-color="#00ff00"/><stop offset="0.8612" stop-color="#00ffff"/><stop offset="0.9961" stop-color="#0004ff"/><stop offset="1" stop-color="#0004ff"/></linearGradient>
<linearGradient id="h106"><stop offset="0" stop-color="#52ff00"/><stop offset="0.0036" stop-color="#52ff00"/><stop offset="0.2273" stop-color="#d3ff00"/><stop offset="0.2613" stop-color="#feff00"/><stop offset="0.2628" stop-color="#ffff00"/><stop offset="0.4996" stop-color="#ff4c00"/><stop offset="0.5987" stop-color="#ffff00"/><stop offset="0.5993" stop-color="#feff00"/><stop offset="0.7212" stop-color="#00ff00"/><stop offset="0.8613" stop-color="#00ffff"/><stop offset="0.9961" stop-color="#0004ff"/><stop offset="1" stop-color="#0004ff"/></linearGradient>
<linearGradient id="h107"><stop offset="0" stop-color="#57ff00"/><stop offset="0.0036" stop-color="#57ff00"/><stop offset="0.2256" stop-color="#d9ff00"/><stop offset="0.2546" stop-color="#feff00"/><stop offset="0.2561" stop-color="#ffff00"/><stop offset="0.4996" stop-color="#ff4a00"/><stop offset="0.5992" stop-color="#ffff00"/><stop offset="0.5998" stop-color="#feff00"/><stop offset="0.7215" stop-color="#00ff00"/><stop offset="0.8614" stop-color="#00ffff"/><stop offset="0.9961" stop-color="#0004ff"/><stop offset="1" stop-color="#0004ff"/></linearGradient>
<linearGradient id="h108"><stop offset="0" stop-color="#5cff00"/><stop offset="0.0036" stop-color="#5cff00"/><stop offset="0.2239" stop-color="#dfff00"/><stop offset="0.2479" stop-color="#feff00"/><stop offset="0.2495" stop-color="#ffff00"/><stop offset="0.4996" stop-color="#ff4900"/><stop offset="0.5997" stop-color="#ffff00"/><stop offset="0.6003" stop-color="#feff00"/><stop offset="0.7217" stop-color="#00ff00"/><stop offset="0.8615" stop-color="#00ffff"/><stop offset="0.9961" stop-color="#0004ff"/><stop offset="1" stop-color="#0004ff"/></linearGradient>
<linearGradient id="h109"><stop offset="0" stop-color="#61ff00"/><stop offset="0.0036" stop-color="#61ff00"/><stop offset="0.2222" stop-color="#e5ff00"/><stop offset="0.2412" stop-color="#feff00"/><stop offset="0.2428" stop-color="#ffff00"/><stop offset="0.4996" stop-color="#ff4700"/><stop offset="0.6001" stop-color="#ffff00"/><stop offset="0.6007" stop-color="#feff00"/><stop offset="0.7219" stop-color="#00ff00"/><stop offset="0.8616" stop-color="#00ffff"/><stop offset="0.9961" stop-color="#0004ff"/><stop offset="1" stop-color="#0004ff"/></linearGradient>
<linearGradient id="h110"><stop offset="0" stop-color="#61ff00"/><stop offset="0.0036" stop-color="#61ff00"/><stop offset="0.222" stop-color="#e7ff00"/><stop offset="0.2397" stop-color="#feff00"/><stop offset="0.2413" stop-color="#ffff00"/><stop offset="0.4996" stop-color="#ff4700"/><stop offset="0.6" stop-color="#ffff00"/><stop offset="0.6006" stop-color="#feff00"/><stop offset="0.722" stop-color="#00ff00"/><stop offset="0.8616" stop-color="#00ffff"/><stop offset="0.9961" stop-color="#0004ff"/><stop offset="1" stop-color="#0004ff"/></linearGradient>
<linearGradient id="h111"><stop offset="0" stop-color="#5cff00"/><stop offset="0.0036" stop-color="#5cff00"/><stop offset="0.2237" stop-color="#e5ff00"/><stop offset="0.245" stop-color="#feff00"/><stop offset="0.2465" stop-color="#ffff00"/><stop offset="0.4996" stop-color="#ff4900"/><stop offset="0.5991" stop-color="#ffff00"/><stop offset="0.5997" stop-color="#feff00"/><stop offset="0.7219" stop-color="#00ff00"/><stop offset="0.8615" stop-color="#00ffff"/><stop offset="0.9961" stop-color="#0004ff"/><stop offset="1" stop-color="#0004ff"/></linearGradient>
<linearGradient id="h112"><stop offset="0" stop-color="#56ff00"/><stop offset="0.0036" stop-color="#56ff00"/><stop offset="0.2254" stop-color="#e2ff00"/><stop offset="0.2502" stop-color="#feff00"/><stop offset="0.2517" stop-color="#ffff00"/><stop offset="0.4996" stop-color="#ff4b00"/><stop offset="0.5981" stop-color="#ffff00"/><stop offset="0.5987" stop-color="#feff00"/><stop offset="0.7219" stop-color="#00ff00"/><stop offset="0.8614" stop-color="#00ffff"/><stop offset="0.9961" stop-color="#0004ff"/><stop offset="1" stop-color="#0004ff"/></linearGradient>
<linearGradient id="h113"><stop offset="0" stop-color="#51ff00"/><stop offset="0.0036" stop-color="#51ff00"/><stop offset="0.227" stop-color="#e0ff00"/><stop offset="0.2555" stop-color="#feff00"/><stop offset="0.257" stop-color="#ffff00"/><stop offset="0.4996" stop-color="#ff4d00"/><stop offset="0.5972" stop-color="#ffff00"/><stop offset="0.5978" stop-color="#feff00"/><stop offset="0.7218" stop-color="#00ff00"/><stop offset="0.8613" stop-color="#00ffff"/><stop offset="0.9961" stop-color="#0004ff"/><stop offset="1" stop-color="#0004ff"/></linearGradient>
<linearGradient id="h114"><stop offset="0" stop-color="#4cff00"/><stop offset="0.0036" stop-color="#4cff00"/><stop offset="0.2287" stop-color="#deff00"/><stop offset="0.2607" stop-color="#feff00"/><stop offset="0.2622" stop-color="#ffff00"/><stop offset="0.4996" stop-color="#ff4f00"/><stop offset="0.5963" stop-color="#ffff00"/><stop offset="0.5969" stop-color="#feff00"/><stop offset="0.7217" stop-color="#00ff00"/><stop offset="0.8613" stop-color="#00ffff"/><stop offset="0.9961" stop-color="#0004ff"/><stop offset="1" stop-color="#0004ff"/></linearGradient>
<linearGradient id="h115"><stop offset="0" stop-color="#46ff00"/><stop offset="0.0036" stop-color="#46ff00"/><stop offset="0.2304" stop-color="#dbff00"/><stop offset="0.2659" stop-color="#feff00"/><stop offset="0.2674" stop-color="#ffff00"/><stop offset="0.4996" stop-color="#ff5100"/><stop offset="0.5953" stop-color="#ffff00"/><stop offset="0.5959" stop-color="#feff00"/><stop offset="0.7216" stop-color="#00ff00"/><stop offset="0.8612" stop-color="#00ffff"/><stop offset="0.9961" stop-color="#0004ff"/><stop offset="1" stop-color="#0004ff"/></linearGradient>
<linearGradient id="h116"><stop offset="0" stop-color="#41ff00"/><stop offset="0.0036" stop-color="#41ff00"/><stop offset="0.2321" stop-color="#d9ff00"/><stop offset="0.2712" stop-color="#feff00"/><stop offset="0.2726" stop-color="#ffff00"/><stop offset="0.4996" stop-color="#ff5300"/><stop offset="0.5944" stop-color="#ffff00"/><stop offset="0.595" stop-color="#feff00"/><stop offset="0.7215" stop-color="#00ff00"/><stop offset="0.8611" stop-color="#00ffff"/><stop offset="0.9961" stop-color="#0004ff"/><stop offset="1" stop-color="#0004ff"/></linearGradient>
<linearGradient id="h117"><stop offset="0" stop-color="#3cff00"/><stop offset="0.0036" stop-color="#3cff00"/><stop offset="0.2338" stop-color="#d7ff00"/><stop offset="0.2764" stop-color="#feff00"/><stop offset="0.2779" stop-color="#ffff00"/><stop offset="0.4996" stop-color="#ff5500"/><stop offset="0.5935" stop-color="#ffff00"/><stop offset="0.5941" stop-color="#feff00"/><stop offset="0.7215" stop-color="#00ff00"/><stop offset="0.861" stop-color="#00ffff"/><stop offset="0.9961" stop-color="#0004ff"/><stop offset="1" stop-color="#0004ff"/></linearGradient>
<linearGradient id="h118"><stop offset="0" stop-color="#37ff00"/><stop offset="0.0036" stop-color="#37ff00"/><stop offset="0.2355" stop-color="#d4ff00"/><stop offset="0.2817" stop-color="#feff00"/><stop offset="0.2831" stop-color="#ffff00"/><stop offset="0.4996" stop-color="#ff5700"/><stop offset="0.5925" stop-color="#ffff00"/><stop offset="0.5931" stop-color="#feff00"/><stop offset="0.7214" stop-color="#00ff00"/><stop offset="0.8609" stop-color="#00ffff"/><stop offset="0.9961" stop-color="#0004ff"/><stop offset="1" stop-color="#0004ff"/></linearGradient>
<linearGradient id="h119"><stop offset="0" stop-color="#31ff00"/><stop offset="0.0036" stop-color="#31ff00"/><stop offset="0.2371" stop-color="#d2ff00"/><stop offset="0.2869" stop-color="#feff00"/><stop offset="0.2883" stop-color="#ffff00"/><stop offset="0.4996" stop-color="#ff5900"/><stop offset="0.5916" stop-color="#ffff00"/><stop offset="0.5922" stop-color="#feff00"/><stop offset="0.7213" stop-color="#00ff00"/><stop offset="0.8609" stop-color="#00ffff"/><stop offset="0.9961" stop-color="#0004ff"/><stop offset="1" stop-color="#0004ff"/></linearGradient>
<linearGradient id="h120"><stop offset="0" stop-color="#2cff00"/><stop offset="0.0036" stop-color="#2cff00"/><stop offset="0.2388" stop-color="#d0ff00"/><stop offset="0.2922" stop-color="#feff00"/><stop offset="0.2935" stop-color="#ffff00"/><stop offset="0.4996" stop-color="#ff5b00"/><stop offset="0.5907" stop-color="#ffff00"/><stop offset="0.5913" stop-color="#feff00"/><stop offset="0.7212" stop-color="#00ff00"/><stop offset="0.8608" stop-color="#00ffff"/><stop offset="0.9961" stop-color="#0004ff"/><stop offset="1" stop-color="#0004ff"/></linearGradient>
<linearGradient id="h121"><stop offset="0" stop-color="#27ff00"/><stop offset="0.0036" stop-color="#27ff00"/><stop offset="0.2405" stop-color="#ceff00"/><stop offset="0.2974" stop-color="#feff00"/><stop offset="0.2988" stop-color="#ffff00"/><stop offset="0.4996" stop-color="#ff5d00"/><stop offset="0.5897" stop-color="#ffff00"/><stop offset="0.5903" stop-color="#feff00"/><stop offset="0.7211" stop-color="#00ff00"/><stop offset="0.8607" stop-color="#00ffff"/><stop offset="0.9961" stop-color="#0004ff"/><stop offset="1" stop-color="#0004ff"/></linearGradient>
<linearGradient id="h122"><stop offset="0" stop-color="#21ff00"/><stop offset="0.0036" stop-color="#21ff00"/><stop offset="0.2422" stop-color="#cbff00"/><stop offset="0.3026" stop-color="#feff00"/><stop offset="0.304" stop-color="#ffff00"/><stop offset="0.4996" stop-color="#ff5f00"/><stop offset="0.5888" stop-color="#ffff00"/><stop offset="0.5894" stop-color="#feff00"/><stop offset="0.7211" stop-color="#00ff00"/><stop offset="0.8606" stop-color="#00ffff"/><stop offset="0.9961" stop-color="#0004ff"/><stop offset="1" stop-color="#0004ff"/></linearGradient>
<linearGradient id="h123"><stop offset="0" stop-color="#1cff00"/><stop offset="0.0036" stop-color="#1cff00"/><stop offset="0.2439" stop-color="#c9ff00"/><stop offset="0.3079" stop-color="#feff00"/><stop offset="0.3092" stop-color="#ffff00"/><stop offset="0.4996" stop-color="#ff6100"/><stop offset="0.5879" stop-color="#ffff00"/><stop offset="0.5885" stop-color="#feff00"/><stop offset="0.721" stop-color="#00ff00"/><stop offset="0.8605" stop-color="#00ffff"/><stop offset="0.9961" stop-color="#0004ff"/><stop offset="1" stop-color="#0004ff"/></linearGradient>
<linearGradient id="h124"><stop offset="0" stop-color="#17ff00"/><stop offset="0.0036" stop-color="#17ff00"/><stop offset="0.2456" stop-color="#c7ff00"/><stop offset="0.3131" stop-color="#feff00"/><stop offset="0.3144" stop-color="#ffff00"/><stop offset="0.4996" stop-color="#ff6300"/><stop offset="0.5869" stop-color="#ffff00"/><stop offset="0.5875" stop-color="#feff00"/><stop offset="0.7209" stop-color="#00ff00"/><stop offset="0.8605" stop-color="#00ffff"/><stop offset="0.9961" stop-color="#0004ff"/><stop offset="1" stop-color="#0004ff"/></linearGradient>
<linearGradient id="h125"><stop offset="0" stop-color="#11ff00"/><stop offset="0.0036" stop-color="#11ff00"/><stop offset="0.2473" stop-color="#c4ff00"/><stop offset="0.3184" stop-color="#feff00"/><stop offset="0.3196" stop-color="#ffff00"/><stop offset="0.4996" stop-color="#ff6400"/><stop offset="0.586" stop-color="#ffff00"/><stop offset="0.5866" stop-color="#feff00"/><stop offset="0.7208" stop-color="#00ff00"/><stop offset="0.8604" stop-color="#00ffff"/><stop offset="0.9961" stop-color="#0004ff"/><stop offset="1" stop-color="#0004ff"/></linearGradient>
<linearGradient id="h126"><stop offset="0" stop-color="#0cff00"/><stop offset="0.0036" stop-color="#0cff00"/><stop offset="0.2489" stop-color="#c2ff00"/><stop offset="0.3236" stop-color="#feff00"/><stop offset="0.3249" stop-color="#ffff00"/><stop offset="0.4996" stop-color="#ff6600"/><stop offset="0.5851" stop-color="#ffff00"/><stop offset="0.5857" stop-color="#feff00"/><stop offset="0.7208" stop-color="#00ff00"/><stop offset="0.8603" stop-color="#00ffff"/><stop offset="0.9961" stop-color="#0004ff"/><stop offset="1" stop-color="#0004ff"/></linearGradient>
<linearGradient id="h127"><stop offset="0" stop-color="#07ff00"/><stop offset="0.0036" stop-color="#07ff00"/><stop offset="0.2506" stop-color="#c0ff00"/><stop offset="0.3288" stop-color="#feff00"/><stop offset="0.3301" stop-color="#ffff00"/><stop offset="0.4996" stop-color="#ff6800"/><stop offset="0.5841" stop-color="#ffff00"/><stop offset="0.5847" stop-color="#feff00"/><stop offset="0.7207" stop-color="#00ff00"/><stop offset="0.8602" stop-color="#00ffff"/><stop offset="0.9961" stop-color="#0004ff"/><stop offset="1" stop-color="#0004ff"/></linearGradient>
<linearGradient id="h128"><stop offset="0" stop-color="#01ff00"/><stop offset="0.0036" stop-color="#01ff00"/><stop offset="0.0048" stop-color="#02ff00"/><stop offset="0.2521" stop-color="#bdff00"/><stop offset="0.334" stop-color="#feff00"/><stop offset="0.3352" stop-color="#ffff00"/><stop offset="0.4996" stop-color="#ff6b00"/><stop offset="0.583" stop-color="#ffff00"/><stop offset="0.5836" stop-color="#feff00"/><stop offset="0.7204" stop-color="#00ff00"/><stop offset="0.8601" stop-color="#00ffff"/><stop offset="0.9961" stop-color="#0004ff"/><stop offset="1" stop-color="#0004ff"/></linearGradient>
<linearGradient id="h129"><stop offset="0" stop-color="#00ff04"/><stop offset="0.0036" stop-color="#00ff04"/><stop offset="0.0096" stop-color="#00ff00"/><stop offset="0.013" stop-color="#02ff00"/><stop offset="0.2521" stop-color="#baff00"/><stop offset="0.3387" stop-color="#feff00"/><stop offset="0.3399" stop-color="#ffff00"/><stop offset="0.4996" stop-color="#ff6f00"/><stop offset="0.5807" stop-color="#ffff00"/><stop offset="0.5813" stop-color="#feff00"/><stop offset="0.7187" stop-color="#00ff00"/><stop offset="0.8598" stop-color="#00ffff"/><stop offset="0.9961" stop-color="#0004ff"/><stop offset="1" stop-color="#0004ff"/></linearGradient>
<linearGradient id="h130"><stop offset="0" stop-color="#00ff09"/><stop offset="0.0036" stop-color="#00ff09"/><stop offset="0.0179" stop-color="#00ff00"/><stop offset="0.0212" stop-color="#02ff00"/><stop offset="0.2521" stop-color="#b6ff00"/><stop offset="0.3434" stop-color="#feff00"/><stop offset="0.3446" stop-color="#ffff00"/><stop offset="0.4996" stop-color="#ff7300"/><stop offset="0.5783" stop-color="#ffff00"/><stop offset="0.5789" stop-color="#feff00"/><stop offset="0.7169" stop-color="#00ff00"/><stop offset="0.8595" stop-color="#00ffff"/><stop offset="0.9961" stop-color="#0004ff"/><stop offset="1" stop-color="#0004ff"/></linearGradient>
<linearGradient id="h131"><stop offset="0" stop-color="#00ff0e"/><stop offset="0.0036" stop-color="#00ff0e"/><stop offset="0.0263" stop-color="#00ff00"/><stop offset="0.0293" stop-color="#02ff00"/><stop offset="0.2521" stop-color="#b2ff00"/><stop offset="0.3481" stop-color="#feff00"/><stop offset="0.3493" stop-color="#ffff00"/><stop offset="0.4996" stop-color="#ff7700"/><stop offset="0.576" stop-color="#ffff00"/><stop offset="0.5766" stop-color="#feff00"/><stop offset="0.7152" stop-color="#00ff00"/><stop offset="0.8592" stop-color="#00ffff"/><stop offset="0.9961" stop-color="#0004ff"/><stop offset="1" stop-color="#0004ff"/></linearGradient>
<linearGradient id="h132"><stop offset="0" stop-color="#00ff13"/><stop offset="0.0036" stop-color="#00ff13"/><stop offset="0.0347" stop-color="#00ff00"/><stop offset="0.0375" stop-color="#02ff00"/><stop offset="0.2521" stop-color="#aeff00"/><stop offset="0.3528" stop-color="#feff00"/><stop offset="0.354" stop-color="#ffff00"/><stop offset="0.4996" stop-color="#ff7b00"/><stop offset="0.5737" stop-color="#ffff00"/><stop offset="0.5743" stop-color="#feff00"/><stop offset="0.7135" stop-color="#00ff00"/><stop offset="0.8588" stop-color="#00ffff"/><stop offset="0.9961" stop-color="#0004ff"/><stop offset="1" stop-color="#0004ff"/></linearGradient>
<linearGradient id="h133"><stop offset="0" stop-color="#00ff18"/><stop offset="0.0036" stop-color="#00ff18"/><stop offset="0.0431" stop-color="#00ff00"/><stop offset="0.0457" stop-color="#02ff00"/><stop offset="0.2521" stop-color="#abff00"/><stop offset="0.3575" stop-color="#feff00"/><stop offset="0.3587" stop-color="#ffff00"/><stop offset="0.4996" stop-color="#ff7f00"/><stop offset="0.5713" stop-color="#ffff00"/><stop offset="0.5719" stop-color="#feff00"/><stop offset="0.7118" stop-color="#00ff00"/><stop offset="0.8585" stop-color="#00ffff"/><stop offset="0.9961" stop-color="#0004ff"/><stop offset="1" stop-color="#0004ff"/></linearGradient>
<linearGradient id="h134"><stop offset="0" stop-color="#00ff1d"/><stop offset="0.0036" stop-color="#00ff1d"/><stop offset="0.0515" stop-color="#00ff00"/><stop offset="0.0539" stop-color="#01ff00"/><stop offset="0.2521" stop-color="#a7ff00"/><stop offset="0.3622" stop-color="#feff00"/><stop offset="0.3634" stop-color="#ffff00"/><stop offset="0.4996" stop-color="#ff8300"/><stop offset="0.569" stop-color="#ffff00"/><stop offset="0.5696" stop-color="#feff00"/><stop offset="0.7101" stop-color="#00ff00"/><stop offset="0.8582" stop-color="#00ffff"/><stop offset="0.9961" stop-color="#0004ff"/><stop offset="1" stop-color="#0004ff"/></linearGradient>
<linearGradient id="h135"><stop offset="0" stop-color="#00ff22"/><stop offset="0.0036" stop-color="#00ff22"/><stop offset="0.0599" stop-color="#00ff00"/><stop offset="0.0621" stop-color="#01ff00"/><stop offset="0.2521" stop-color="#a3ff00"/><stop offset="0.3669" stop-color="#feff00"/><stop offset="0.3681" stop-color="#ffff00"/><stop offset="0.4996" stop-color="#ff8700"/><stop offset="0.5667" stop-color="#ffff00"/><stop offset="0.5673" stop-color="#feff00"/><stop offset="0.7084" stop-color="#00ff00"/><stop offset="0.8579" stop-color="#00ffff"/><stop offset="0.9961" stop-color="#0004ff"/><stop offset="1" stop-color="#0004ff"/></linearGradient>
<linearGradient id="h136"><stop offset="0" stop-color="#00ff27"/><stop offset="0.0036" stop-color="#00ff27"/><stop offset="0.0682" stop-color="#00ff00"/><stop offset="0.0703" stop-color="#01ff00"/><stop offset="0.2521" stop-color="#9fff00"/><stop offset="0.3716" stop-color="#feff00"/><stop offset="0.3728" stop-color="#ffff00"/><stop offset="0.4996" stop-color="#ff8b00"/><stop offset="0.5643" stop-color="#ffff00"/><stop offset="0.565" stop-color="#feff00"/><stop offset="0.7067" stop-color="#00ff00"/><stop offset="0.8576" stop-color="#00ffff"/><stop offset="0.9961" stop-color="#0004ff"/><stop offset="1" stop-color="#0004ff"/></linearGradient>
<linearGradient id="h137"><stop offset="0" stop-color="#00ff2c"/><stop offset="0.0036" stop-color="#00ff2c"/><stop offset="0.0766" stop-color="#00ff00"/><stop offset="0.0785" stop-color="#01ff00"/><stop offset="0.2521" stop-color="#9cff00"/><stop offset="0.3763" stop-color="#feff00"/><stop offset="0.3775" stop-color="#ffff00"/><stop offset="0.4996" stop-color="#ff9000"/><stop offset="0.562" stop-color="#ffff00"/><stop offset="0.5626" stop-color="#feff00"/><stop offset="0.705" stop-color="#00ff00"/><stop offset="0.8573" stop-color="#00ffff"/><stop offset="0.9961" stop-color="#0004ff"/><stop offset="1" stop-color="#0004ff"/></linearGradient>
<linearGradient id="h138"><stop offset="0" stop-color="#00ff31"/><stop offset="0.0036" stop-color="#00ff31"/><stop offset="0.085" stop-color="#00ff00"/><stop offset="0.0866" stop-color="#01ff00"/><stop offset="0.2521" stop-color="#98ff00"/><stop offset="0.381" stop-color="#feff00"/><stop offset="0.3822" stop-color="#ffff00"/><stop offset="0.4996" stop-color="#ff9400"/><stop offset="0.5597" stop-color="#ffff00"/><stop offset="0.5603" stop-color="#feff00"/><stop offset="0.7033" stop-color="#00ff00"/><stop offset="0.857" stop-color="#00ffff"/><stop offset="0.9961" stop-color="#0004ff"/><stop offset="1" stop-color="#0004ff"/></linearGradient>
<linearGradient id="h139"><stop offset="0" stop-color="#00ff36"/><stop offset="0.0036" stop-color="#00ff36"/><stop offset="0.0934" stop-color="#00ff00"/><stop offset="0.0948" stop-color="#01ff00"/><stop offset="0.2521" stop-color="#94ff00"/><stop offset="0.3857" stop-color="#feff00"/><stop offset="0.3869" stop-color="#ffff00"/><stop offset="0.4996" stop-color="#ff9800"/><stop offset="0.5573" stop-color="#ffff00"/><stop offset="0.558" stop-color="#feff00"/><stop offset="0.7016" stop-color="#00ff00"/><stop offset="0.8566" stop-color="#00ffff"/><stop offset="0.9961" stop-color="#0004ff"/><stop offset="1" stop-color="#0004ff"/></linearGradient>
<linearGradient id="h140"><stop offset="0" stop-color="#00ff3b"/><stop offset="0.0036" stop-color="#00ff3b"/><stop offset="0.1018" stop-color="#00ff00"/><stop offset="0.103" stop-color="#01ff00"/><stop offset="0.2521" stop-color="#90ff00"/><stop offset="0.3904" stop-color="#feff00"/><stop offset="0.3916" stop-color="#ffff00"/><stop offset="0.4996" stop-color="#ff9c00"/><stop offset="0.555" stop-color="#ffff00"/><stop offset="0.5556" stop-color="#feff00"/><stop offset="0.6999" stop-color="#00ff00"/><stop offset="0.8563" stop-color="#00ffff"/><stop offset="0.9961" stop-color="#0004ff"/><stop offset="1" stop-color="#0004ff"/></linearGradient>
<linearGradient id="h141"><stop offset="0" stop-color="#00ff40"/><stop offset="0.0036" stop-color="#00ff40"/><stop offset="0.1102" stop-color="#00ff00"/><stop offset="0.1112" stop-color="#01ff00"/><stop offset="0.2521" stop-color="#8dff00"/><stop offset="0.3951" stop-color="#feff00"/><stop offset="0.3963" stop-color="#ffff00"/><stop offset="0.4996" stop-color="#ffa000"/><stop offset="0.5527" stop-color="#ffff00"/><stop offset="0.5533" stop-color="#feff00"/><stop offset="0.6982" stop-color="#00ff00"/><stop offset="0.856" stop-color="#00ffff"/><stop offset="0.9961" stop-color="#0004ff"/><stop offset="1" stop-color="#0004ff"/></linearGradient>
<linearGradient id="h142"><stop offset="0" stop-color="#00ff46"/><stop offset="0.0036" stop-color="#00ff46"/><stop offset="0.1185" stop-color="#00ff00"/><stop offset="0.1194" stop-color="#01ff00"/><stop offset="0.2521" stop-color="#89ff00"/><stop offset="0.3998" stop-color="#feff00"/><stop offset="0.401" stop-color="#ffff00"/><stop offset="0.4996" stop-color="#ffa400"/><stop offset="0.5503" stop-color="#ffff00"/><stop offset="0.551" stop-color="#feff00"/><stop offset="0.6964" stop-color="#00ff00"/><stop offset="0.8557" stop-color="#00ffff"/><stop offset="0.9961" stop-color="#0004ff"/><stop offset="1" stop-color="#0004ff"/></linearGradient>
<linearGradient id="h143"><stop offset="0" stop-color="#00ff4b"/><stop offset="0.0036" stop-color="#00ff4b"/><stop offset="0.1269" stop-color="#00ff00"/><stop offset="0.1276" stop-color="#00ff00"/><stop offset="0.2521" stop-color="#85ff00"/><stop offset="0.4045" stop-color="#feff00"/><stop offset="0.4057" stop-color="#ffff00"/><stop offset="0.4996" stop-color="#ffa800"/><stop offset="0.548" stop-color="#ffff00"/><stop offset="0.5486" stop-color="#feff00"/><stop offset="0.6947" stop-color="#00ff00"/><stop offset="0.8554" stop-color="#00ffff"/><stop offset="0.9961" stop-color="#0004ff"/><stop offset="1" stop-color="#0004ff"/></linearGradient>
<linearGradient id="h144"><stop offset="0" stop-color="#00ff50"/><stop offset="0.0036" stop-color="#00ff50"/><stop offset="0.1353" stop-color="#00ff00"/><stop offset="0.1357" stop-color="#00ff00"/><stop offset="0.2521" stop-color="#81ff00"/><stop offset="0.4092" stop-color="#feff00"/><stop offset="0.4104" stop-color="#ffff00"/><stop offset="0.4996" stop-color="#ffac00"/><stop offset="0.5457" stop-color="#ffff00"/><stop offset="0.5463" stop-color="#feff00"/><stop offset="0.693" stop-color="#00ff00"/><stop offset="0.8551" stop-color="#00ffff"/><stop offset="0.9961" stop-color="#0004ff"/><stop offset="1" stop-color="#0004ff"/></linearGradient>
<linearGradient id="h145"><stop offset="0" stop-color="#00ff55"/><stop offset="0.0036" stop-color="#00ff55"/><stop offset="0.1437" stop-color="#00ff00"/><stop offset="0.1439" stop-color="#00ff00"/><stop offset="0.2521" stop-color="#7eff00"/><stop offset="0.4139" stop-color="#feff00"/><stop offset="0.415" stop-color="#ffff00"/><stop offset="0.4996" stop-color="#ffb000"/><stop offset="0.5433" stop-color="#ffff00"/><stop offset="0.544" stop-color="#feff00"/><stop offset="0.6913" stop-color="#00ff00"/><stop offset="0.8547" stop-color="#00ffff"/><stop offset="0.9961" stop-color="#0004ff"/><stop offset="1" stop-color="#0004ff"/></linearGradient>
<linearGradient id="h146"><stop offset="0" stop-color="#00ff5a"/><stop offset="0.0036" stop-color="#00ff5a"/><stop offset="0.1521" stop-color="#00ff00"/><stop offset="0.2521" stop-color="#7aff00"/><stop offset="0.4186" stop-color="#feff00"/><stop offset="0.4197" stop-color="#ffff00"/><stop offset="0.4996" stop-color="#ffb400"/><stop offset="0.541" stop-color="#ffff00"/><stop offset="0.5416" stop-color="#feff00"/><stop offset="0.6896" stop-color="#00ff00"/><stop offset="0.8544" stop-color="#00ffff"/><stop offset="0.9961" stop-color="#0004ff"/><stop offset="1" stop-color="#0004ff"/></linearGradient>
<linearGradient id="h147"><stop offset="0" stop-color="#00ff62"/><stop offset="0.0036" stop-color="#00ff62"/><stop offset="0.1585" stop-color="#00ff00"/><stop offset="0.2527" stop-color="#74ff00"/><stop offset="0.423" stop-color="#feff00"/><stop offset="0.4242" stop-color="#ffff00"/><stop offset="0.4996" stop-color="#ffb900"/><stop offset="0.5387" stop-color="#ffff00"/><stop offset="0.5393" stop-color="#feff00"/><stop offset="0.6876" stop-color="#00ff00"/><stop offset="0.8528" stop-color="#00ffff"/><stop offset="0.9961" stop-color="#0004ff"/><stop offset="1" stop-color="#0004ff"/></linearGradient>
<linearGradient id="h148"><stop offset="0" stop-color="#00ff6b"/><stop offset="0.0036" stop-color="#00ff6b"/><stop offset="0.1645" stop-color="#00ff00"/><stop offset="0.2535" stop-color="#6dff00"/><stop offset="0.4274" stop-color="#feff00"/><stop offset="0.4286" stop-color="#ffff00"/><stop offset="0.4996" stop-color="#ffbd00"/><stop offset="0.5364" stop-color="#ffff00"/><stop offset="0.5371" stop-color="#feff00"/><stop offset="0.6856" stop-color="#00ff00"/><stop offset="0.8509" stop-color="#00ffff"/><stop offset="0.9961" stop-color="#0004ff"/><stop offset="1" stop-color="#0004ff"/></linearGradient>
<linearGradient id="h149"><stop offset="0" stop-color="#00ff73"/><stop offset="0.0036" stop-color="#00ff73"/><stop offset="0.1706" stop-color="#00ff00"/><stop offset="0.2543" stop-color="#67ff00"/><stop offset="0.4318" stop-color="#feff00"/><stop offset="0.433" stop-color="#ffff00"/><stop offset="0.4996" stop-color="#ffc100"/><stop offset="0.5342" stop-color="#ffff00"/><stop offset="0.5348" stop-color="#feff00"/><stop offset="0.6836" stop-color="#00ff00"/><stop offset="0.849" stop-color="#00ffff"/><stop offset="0.9961" stop-color="#0004ff"/><stop offset="1" stop-color="#0004ff"/></linearGradient>
<linearGradient id="h150"><stop offset="0" stop-color="#00ff7c"/><stop offset="0.0036" stop-color="#00ff7c"/><stop offset="0.1766" stop-color="#00ff00"/><stop offset="0.255" stop-color="#60ff00"/><stop offset="0.4362" stop-color="#feff00"/><stop offset="0.4374" stop-color="#ffff00"/><stop offset="0.4996" stop-color="#ffc500"/><stop offset="0.5319" stop-color="#ffff00"/><stop offset="0.5325" stop-color="#feff00"/><stop offset="0.6815" stop-color="#00ff00"/><stop offset="0.8472" stop-color="#00ffff"/><stop offset="0.9961" stop-color="#0003ff"/><stop offset="1" stop-color="#0003ff"/></linearGradient>
<linearGradient id="h151"><stop offset="0" stop-color="#00ff85"/><stop offset="0.0036" stop-color="#00ff85"/><stop offset="0.1827" stop-color="#00ff00"/><stop offset="0.2558" stop-color="#5aff00"/><stop offset="0.4406" stop-color="#feff00"/><stop offset="0.4418" stop-color="#ffff00"/><stop offset="0.4996" stop-color="#ffc900"/><stop offset="0.5296" stop-color="#ffff00"/><stop offset="0.5302" stop-color="#feff00"/><stop offset="0.6795" stop-color="#00ff00"/><stop offset="0.8453" stop-color="#00ffff"/><stop offset="0.9961" stop-color="#0003ff"/><stop offset="1" stop-color="#0003ff"/></linearGradient>
<linearGradient id="h152"><stop offset="0" stop-color="#00ff8d"/><stop offset="0.0036" stop-color="#00ff8d"/><stop offset="0.1888" stop-color="#00ff00"/><stop offset="0.2566" stop-color="#53ff00"/><stop offset="0.445" stop-color="#feff00"/><stop offset="0.4462" stop-color="#ffff00"/><stop offset="0.4996" stop-color="#ffcd00"/><stop offset="0.5273" stop-color="#ffff00"/><stop offset="0.528" stop-color="#feff00"/><stop offset="0.6775" stop-color="#00ff00"/><stop offset="0.8434" stop-color="#00ffff"/><stop offset="0.9961" stop-color="#0003ff"/><stop offset="1" stop-color="#0003ff"/></linearGradient>
<linearGradient id="h153"><stop offset="0" stop-color="#00ff96"/><stop offset="0.0036" stop-color="#00ff96"/><stop offset="0.1948" stop-color="#00ff00"/><stop offset="0.2573" stop-color="#4dff00"/><stop offset="0.4494" stop-color="#feff00"/><stop offset="0.4506" stop-color="#ffff00"/><stop offset="0.4996" stop-color="#ffd100"/><stop offset="0.5251" stop-color="#ffff00"/><stop offset="0.5257" stop-color="#feff00"/><stop offset="0.6754" stop-color="#00ff00"/><stop offset="0.8416" stop-color="#00ffff"/><stop offset="0.9961" stop-color="#0003ff"/><stop offset="1" stop-color="#0003ff"/></linearGradient>
<linearGradient id="h154"><stop offset="0" stop-color="#00ff9f"/><stop offset="0.0036" stop-color="#00ff9f"/><stop offset="0.2009" stop-color="#00ff00"/><stop offset="0.2581" stop-color="#46ff00"/><stop offset="0.4538" stop-color="#feff00"/><stop offset="0.455" stop-color="#ffff00"/><stop offset="0.4996" stop-color="#ffd500"/><stop offset="0.5228" stop-color="#ffff00"/><stop offset="0.5234" stop-color="#feff00"/><stop offset="0.6734" stop-color="#00ff00"/><stop offset="0.8397" stop-color="#00ffff"/><stop offset="0.9961" stop-color="#0003ff"/><stop offset="1" stop-color="#0003ff"/></linearGradient>
<linearGradient id="h155"><stop offset="0" stop-color="#00ffa7"/><stop offset="0.0036" stop-color="#00ffa7"/><stop offset="0.2069" stop-color="#00ff00"/><stop offset="0.2589" stop-color="#40ff00"/><stop offset="0.4582" stop-color="#feff00"/><stop offset="0.4593" stop-color="#ffff00"/><stop offset="0.4996" stop-color="#ffd900"/><stop offset="0.5205" stop-color="#ffff00"/><stop offset="0.5211" stop-color="#feff00"/><stop offset="0.6714" stop-color="#00ff00"/><stop offset="0.8378" stop-color="#00ffff"/><stop offset="0.9961" stop-color="#0002ff"/><stop offset="1" stop-color="#0002ff"/></linearGradient>
<linearGradient id="h156"><stop offset="0" stop-color="#00ffb0"/><stop offset="0.0036" stop-color="#00ffb0"/><stop offset="0.213" stop-color="#00ff00"/><stop offset="0.2596" stop-color="#39ff00"/><stop offset="0.4626" stop-color="#feff00"/><stop offset="0.4637" stop-color="#ffff00"/><stop offset="0.4996" stop-color="#ffdd00"/><stop offset="0.5182" stop-color="#ffff00"/><stop offset="0.5188" stop-color="#feff00"/><stop offset="0.6693" stop-color="#00ff00"/><stop offset="0.836" stop-color="#00ffff"/><stop offset="0.9961" stop-color="#0002ff"/><stop offset="1" stop-color="#0002ff"/></linearGradient>
<linearGradient id="h157"><stop offset="0" stop-color="#00ffb9"/><stop offset="0.0036" stop-color="#00ffb9"/><stop offset="0.219" stop-color="#00ff00"/><stop offset="0.2604" stop-color="#33ff00"/><stop offset="0.467" stop-color="#feff00"/><stop offset="0.4681" stop-color="#ffff00"/><stop offset="0.4996" stop-color="#ffe200"/><stop offset="0.516" stop-color="#ffff00"/><stop offset="0.5166" stop-color="#feff00"/><stop offset="0.6673" stop-color="#00ff00"/><stop offset="0.8341" stop-color="#00ffff"/><stop offset="0.9961" stop-color="#0002ff"/><stop offset="1" stop-color="#0002ff"/></linearGradient>
<linearGradient id="h158"><stop offset="0" stop-color="#00ffc2"/><stop offset="0.0036" stop-color="#00ffc2"/><stop offset="0.2251" stop-color="#00ff00"/><stop offset="0.2612" stop-color="#2cff00"/><stop offset="0.4714" stop-color="#feff00"/><stop offset="0.4725" stop-color="#ffff00"/><stop offset="0.4996" stop-color="#ffe600"/><stop offset="0.5137" stop-color="#ffff00"/><stop offset="0.5143" stop-color="#feff00"/><stop offset="0.6653" stop-color="#00ff00"/><stop offset="0.8323" stop-color="#00ffff"/><stop offset="0.9961" stop-color="#0002ff"/><stop offset="1" stop-color="#0002ff"/></linearGradient>
<linearGradient id="h159"><stop offset="0" stop-color="#00ffca"/><stop offset="0.0036" stop-color="#00ffca"/><stop offset="0.2312" stop-color="#00ff00"/><stop offset="0.2619" stop-color="#26ff00"/><stop offset="0.4758" stop-color="#feff00"/><stop offset="0.4769" stop-color="#ffff00"/><stop offset="0.4996" stop-color="#ffea00"/><stop offset="0.5114" stop-color="#ffff00"/><stop offset="0.512" stop-color="#feff00"/><stop offset="0.6632" stop-color="#00ff00"/><stop offset="0.8304" stop-color="#00ffff"/><stop offset="0.9961" stop-color="#0001ff"/><stop offset="1" stop-color="#0001ff"/></linearGradient>
<linearGradient id="h160"><stop offset="0" stop-color="#00ffd3"/><stop offset="0.0036" stop-color="#00ffd3"/><stop offset="0.2372" stop-color="#00ff00"/><stop offset="0.2627" stop-color="#1fff00"/><stop offset="0.4801" stop-color="#feff00"/><stop offset="0.4813" stop-color="#ffff00"/><stop offset="0.4996" stop-color="#ffee00"/><stop offset="0.5091" stop-color="#ffff00"/><stop offset="0.5097" stop-color="#feff00"/><stop offset="0.6612" stop-color="#00ff00"/><stop offset="0.8285" stop-color="#00ffff"/><stop offset="0.9961" stop-color="#0001ff"/><stop offset="1" stop-color="#0001ff"/></linearGradient>
<linearGradient id="h161"><stop offset="0" stop-color="#00ffdc"/><stop offset="0.0036" stop-color="#00ffdc"/><stop offset="0.2433" stop-color="#00ff00"/><stop offset="0.2635" stop-color="#19ff00"/><stop offset="0.4845" stop-color="#feff00"/><stop offset="0.4857" stop-color="#ffff00"/><stop offset="0.4996" stop-color="#fff200"/><stop offset="0.5068" stop-color="#ffff00"/><stop offset="0.5075" stop-color="#feff00"/><stop offset="0.6592" stop-color="#00ff00"/><stop offset="0.8267" stop-color="#00ffff"/><stop offset="0.9961" stop-color="#0001ff"/><stop offset="1" stop-color="#0001ff"/></linearGradient>
<linearGradient id="h162"><stop offset="0" stop-color="#00ffe4"/><stop offset="0.0036" stop-color="#00ffe4"/><stop offset="0.2493" stop-color="#00ff00"/><stop offset="0.2642" stop-color="#12ff00"/><stop offset="0.4889" stop-color="#feff00"/><stop offset="0.4901" stop-color="#ffff00"/><stop offset="0.4996" stop-color="#fff600"/><stop offset="0.5046" stop-color="#ffff00"/><stop offset="0.5052" stop-color="#feff00"/><stop offset="0.6572" stop-color="#00ff00"/><stop offset="0.8248" stop-color="#00ffff"/><stop offset="0.9961" stop-color="#0001ff"/><stop offset="1" stop-color="#0001ff"/></linearGradient>
<linearGradient id="h163"><stop offset="0" stop-color="#00ffed"/><stop offset="0.0036" stop-color="#00ffed"/><stop offset="0.2554" stop-color="#00ff00"/><stop offset="0.265" stop-color="#0cff00"/><stop offset="0.4933" stop-color="#feff00"/><stop offset="0.4945" stop-color="#ffff00"/><stop offset="0.4996" stop-color="#fffa00"/><stop offset="0.5023" stop-color="#ffff00"/><stop offset="0.5029" stop-color="#feff00"/><stop offset="0.6551" stop-color="#00ff00"/><stop offset="0.8229" stop-color="#00ffff"/><stop offset="0.9961" stop-color="#0000ff"/><stop offset="1" stop-color="#0000ff"/></linearGradient>
<linearGradient id="h164"><stop offset="0" stop-color="#00fff6"/><stop offset="0.0036" stop-color="#00fff6"/><stop offset="0.2614" stop-color="#00ff00"/><stop offset="0.2658" stop-color="#05ff00"/><stop offset="0.4977" stop-color="#feff00"/><stop offset="0.4989" stop-color="#ffff00"/><stop offset="0.4996" stop-color="#fffe00"/><stop offset="0.5" stop-color="#ffff00"/><stop offset="0.5006" stop-color="#feff00"/><stop offset="0.6531" stop-color="#00ff00"/><stop offset="0.8211" stop-color="#00ffff"/><stop offset="0.9961" stop-color="#0000ff"/><stop offset="1" stop-color="#0000ff"/></linearGradient>
<linearGradient id="h165"><stop offset="0" stop-color="#00fff9"/><stop offset="0.0036" stop-color="#00fff9"/><stop offset="0.2628" stop-color="#00ff00"/><stop offset="0.2657" stop-color="#03ff00"/><stop offset="0.4971" stop-color="#feff00"/><stop offset="0.4982" stop-color="#ffff00"/><stop offset="0.4996" stop-color="#fffd00"/><stop offset="0.5004" stop-color="#ffff00"/><stop offset="0.5009" stop-color="#feff00"/><stop offset="0.6523" stop-color="#00ff00"/><stop offset="0.8202" stop-color="#00ffff"/><stop offset="0.9961" stop-color="#0000ff"/><stop offset="1" stop-color="#0000ff"/></linearGradient>
<linearGradient id="h166"><stop offset="0" stop-color="#00fff9"/><stop offset="0.0036" stop-color="#00fff9"/><stop offset="0.2605" stop-color="#00ff00"/><stop offset="0.2649" stop-color="#05ff00"/><stop offset="0.4928" stop-color="#feff00"/><stop offset="0.4938" stop-color="#ffff00"/><stop offset="0.4996" stop-color="#fff900"/><stop offset="0.5027" stop-color="#ffff00"/><stop offset="0.5032" stop-color="#feff00"/><stop offset="0.6525" stop-color="#00ff00"/><stop offset="0.8202" stop-color="#00ffff"/><stop offset="0.9961" stop-color="#0000ff"/><stop offset="1" stop-color="#0000ff"/></linearGradient>
<linearGradient id="h167"><stop offset="0" stop-color="#00fff9"/><stop offset="0.0036" stop-color="#00fff9"/><stop offset="0.2582" stop-color="#00ff00"/><stop offset="0.2641" stop-color="#07ff00"/><stop offset="0.4884" stop-color="#feff00"/><stop offset="0.4894" stop-color="#ffff00"/><stop offset="0.4996" stop-color="#fff400"/><stop offset="0.505" stop-color="#ffff00"/><stop offset="0.5055" stop-color="#feff00"/><stop offset="0.6526" stop-color="#00ff00"/><stop offset="0.8202" stop-color="#00ffff"/><stop offset="0.9961" stop-color="#0001ff"/><stop offset="1" stop-color="#0001ff"/></linearGradient>
<linearGradient id="h168"><stop offset="0" stop-color="#00fff9"/><stop offset="0.0036" stop-color="#00fff9"/><stop offset="0.2559" stop-color="#00ff00"/><stop offset="0.2634" stop-color="#09ff00"/><stop offset="0.484" stop-color="#feff00"/><stop offset="0.485" stop-color="#ffff00"/><stop offset="0.4996" stop-color="#ffef00"/><stop offset="0.5072" stop-color="#ffff00"/><stop offset="0.5078" stop-color="#feff00"/><stop offset="0.6528" stop-color="#00ff00"/><stop offset="0.8202" stop-color="#00ffff"/><stop offset="0.9961" stop-color="#0001ff"/><stop offset="1" stop-color="#0001ff"/></linearGradient>
<linearGradient id="h169"><stop offset="0" stop-color="#00fff9"/><stop offset="0.0036" stop-color="#00fff9"/><stop offset="0.2537" stop-color="#00ff00"/><stop offset="0.2626" stop-color="#0bff00"/><stop offset="0.4796" stop-color="#feff00"/><stop offset="0.4806" stop-color="#ffff00"/><stop offset="0.4996" stop-color="#ffea00"/><stop offset="0.5095" stop-color="#ffff00"/><stop offset="0.51" stop-color="#feff00"/><stop offset="0.6529" stop-color="#00ff00"/><stop offset="0.8202" stop-color="#00ffff"/><stop offset="0.9961" stop-color="#0001ff"/><stop offset="1" stop-color="#0001ff"/></linearGradient>
<linearGradient id="h170"><stop offset="0" stop-color="#00fff9"/><stop offset="0.0036" stop-color="#00fff9"/><stop offset="0.2514" stop-color="#00ff00"/><stop offset="0.2618" stop-color="#0dff00"/><stop offset="0.4752" stop-color="#feff00"/><stop offset="0.4762" stop-color="#ffff00"/><stop offset="0.4996" stop-color="#ffe500"/><stop offset="0.5118" stop-color="#ffff00"/><stop offset="0.5123" stop-color="#feff00"/><stop offset="0.6531" stop-color="#00ff00"/><stop offset="0.8202" stop-color="#00ffff"/><stop offset="0.9961" stop-color="#0001ff"/><stop offset="1" stop-color="#0001ff"/></linearGradient>
<linearGradient id="h171"><stop offset="0" stop-color="#00fff9"/><stop offset="0.0036" stop-color="#00fff9"/><stop offset="0.2491" stop-color="#00ff00"/><stop offset="0.2611" stop-color="#0fff00"/><stop offset="0.4708" stop-color="#feff00"/><stop offset="0.4718" stop-color="#ffff00"/><stop offset="0.4996" stop-color="#ffe000"/><stop offset="0.5141" stop-color="#ffff00"/><stop offset="0.5146" stop-color="#feff00"/><stop offset="0.6532" stop-color="#00ff00"/><stop offset="0.8202" stop-color="#00ffff"/><stop offset="0.9961" stop-color="#0002ff"/><stop offset="1" stop-color="#0002ff"/></linearGradient>
<linearGradient id="h172"><stop offset="0" stop-color="#00fff9"/><stop offset="0.0036" stop-color="#00fff9"/><stop offset="0.2468" stop-color="#00ff00"/><stop offset="0.2603" stop-color="#11ff00"/><stop offset="0.4664" stop-color="#feff00"/><stop offset="0.4674" stop-color="#ffff00"/><stop offset="0.4996" stop-color="#ffdc00"/><stop offset="0.5163" stop-color="#ffff00"/><stop offset="0.5169" stop-color="#feff00"/><stop offset="0.6534" stop-color="#00ff00"/><stop offset="0.8202" stop-color="#00ffff"/><stop offset="0.9961" stop-color="#0002ff"/><stop offset="1" stop-color="#0002ff"/></linearGradient>
<linearGradient id="h173"><stop offset="0" stop-color="#00fff9"/><stop offset="0.0036" stop-color="#00fff9"/><stop offset="0.2446" stop-color="#00ff00"/><stop offset="0.2595" stop-color="#13ff00"/><stop offset="0.462" stop-color="#feff00"/><stop offset="0.463" stop-color="#ffff00"/><stop offset="0.4996" stop-color="#ffd700"/><stop offset="0.5186" stop-color="#ffff00"/><stop offset="0.5191" stop-color="#feff00"/><stop offset="0.6536" stop-color="#00ff00"/><stop offset="0.8202" stop-color="#00ffff"/><stop offset="0.9961" stop-color="#0002ff"/><stop offset="1" stop-color="#0002ff"/></linearGradient>
<linearGradient id="h174"><stop offset="0" stop-color="#00fff9"/><stop offset="0.0036" stop-color="#00fff9"/><stop offset="0.2423" stop-color="#00ff00"/><stop offset="0.2588" stop-color="#15ff00"/><stop offset="0.4576" stop-color="#feff00"/><stop offset="0.4586" stop-color="#ffff00"/><stop offset="0.4996" stop-color="#ffd200"/><stop offset="0.5209" stop-color="#ffff00"/><stop offset="0.5214" stop-color="#feff00"/><stop offset="0.6537" stop-color="#00ff00"/><stop offset="0.8202" stop-color="#00ffff"/><stop offset="0.9961" stop-color="#0002ff"/><stop offset="1" stop-color="#0002ff"/></linearGradient>
<linearGradient id="h175"><stop offset="0" stop-color="#00fff9"/><stop offset="0.0036" stop-color="#00fff9"/><stop offset="0.24" stop-color="#00ff00"/><stop offset="0.258" stop-color="#17ff00"/><stop offset="0.4532" stop-color="#feff00"/><stop offset="0.4542" stop-color="#ffff00"/><stop offset="0.4996" stop-color="#ffcd00"/><stop offset="0.5232" stop-color="#ffff00"/><stop offset="0.5237" stop-color="#feff00"/><stop offset="0.6539" stop-color="#00ff00"/><stop offset="0.8202" stop-color="#00ffff"/><stop offset="0.9961" stop-color="#0003ff"/><stop offset="1" stop-color="#0003ff"/></linearGradient>
<linearGradient id="h176"><stop offset="0" stop-color="#00fff9"/><stop offset="0.0036" stop-color="#00fff9"/><stop offset="0.2377" stop-color="#00ff00"/><stop offset="0.2572" stop-color="#19ff00"/><stop offset="0.4488" stop-color="#feff00"/><stop offset="0.4498" stop-color="#ffff00"/><stop offset="0.4996" stop-color="#ffc800"/><stop offset="0.5255" stop-color="#ffff00"/><stop offset="0.526" stop-color="#feff00"/><stop offset="0.654" stop-color="#00ff00"/><stop offset="0.8202" stop-color="#00ffff"/><stop offset="0.9961" stop-color="#0003ff"/><stop offset="1" stop-color="#0003ff"/></linearGradient>
<linearGradient id="h177"><stop offset="0" stop-color="#00fff9"/><stop offset="0.0036" stop-color="#00fff9"/><stop offset="0.2354" stop-color="#00ff00"/><stop offset="0.2564" stop-color="#1aff00"/><stop offset="0.4444" stop-color="#feff00"/><stop offset="0.4454" stop-color="#ffff00"/><stop offset="0.4996" stop-color="#ffc300"/><stop offset="0.5277" stop-color="#ffff00"/><stop offset="0.5283" stop-color="#feff00"/><stop offset="0.6542" stop-color="#00ff00"/><stop offset="0.8202" stop-color="#00ffff"/><stop offset="0.9961" stop-color="#0003ff"/><stop offset="1" stop-color="#0003ff"/></linearGradient>
<linearGradient id="h178"><stop offset="0" stop-color="#00fff9"/><stop offset="0.0036" stop-color="#00fff9"/><stop offset="0.2332" stop-color="#00ff00"/><stop offset="0.2557" stop-color="#1cff00"/><stop offset="0.44" stop-color="#feff00"/><stop offset="0.441" stop-color="#ffff00"/><stop offset="0.4996" stop-color="#ffbf00"/><stop offset="0.53" stop-color="#ffff00"/><stop offset="0.5305" stop-color="#feff00"/><stop offset="0.6544" stop-color="#00ff00"/><stop offset="0.8202" stop-color="#00ffff"/><stop offset="0.9961" stop-color="#0003ff"/><stop offset="1" stop-color="#0003ff"/></linearGradient>
<linearGradient id="h179"><stop offset="0" stop-color="#00fff9"/><stop offset="0.0036" stop-color="#00fff9"/><stop offset="0.2309" stop-color="#00ff00"/><stop offset="0.2549" stop-color="#1eff00"/><stop offset="0.4356" stop-color="#feff00"/><stop offset="0.4366" stop-color="#ffff00"/><stop offset="0.4996" stop-color="#ffba00"/><stop offset="0.5323" stop-color="#ffff00"/><stop offset="0.5328" stop-color="#feff00"/><stop offset="0.6545" stop-color="#00ff00"/><stop offset="0.8202" stop-color="#00ffff"/><stop offset="0.9961" stop-color="#0004ff"/><stop offset="1" stop-color="#0004ff"/></linearGradient>
<linearGradient id="h180"><stop offset="0" stop-color="#00fff9"/><stop offset="0.0036" stop-color="#00fff9"/><stop offset="0.2286" stop-color="#00ff00"/><stop offset="0.2541" stop-color="#20ff00"/><stop offset="0.4312" stop-color="#feff00"/><stop offset="0.4322" stop-color="#ffff00"/><stop offset="0.4996" stop-color="#ffb500"/><stop offset="0.5346" stop-color="#ffff00"/><stop offset="0.5351" stop-color="#feff00"/><stop offset="0.6547" stop-color="#00ff00"/><stop offset="0.8202" stop-color="#00ffff"/><stop offset="0.9961" stop-color="#0004ff"/><stop offset="1" stop-color="#0004ff"/></linearGradient>
<linearGradient id="h181"><stop offset="0" stop-color="#00fff9"/><stop offset="0.0036" stop-color="#00fff9"/><stop offset="0.2263" stop-color="#00ff00"/><stop offset="0.2534" stop-color="#22ff00"/><stop offset="0.4268" stop-color="#feff00"/><stop offset="0.4278" stop-color="#ffff00"/><stop offset="0.4996" stop-color="#ffb000"/><stop offset="0.5368" stop-color="#ffff00"/><stop offset="0.5374" stop-color="#feff00"/><stop offset="0.6548" stop-color="#00ff00"/><stop offset="0.8202" stop-color="#00ffff"/><stop offset="0.9961" stop-color="#0004ff"/><stop offset="1" stop-color="#0004ff"/></linearGradient>
<linearGradient id="h182"><stop offset="0" stop-color="#00fff9"/><stop offset="0.0036" stop-color="#00fff9"/><stop offset="0.2241" stop-color="#00ff00"/><stop offset="0.2526" stop-color="#24ff00"/><stop offset="0.4224" stop-color="#feff00"/><stop offset="0.4234" stop-color="#ffff00"/><stop offset="0.4996" stop-color="#ffab00"/><stop offset="0.5391" stop-color="#ffff00"/><stop offset="0.5396" stop-color="#feff00"/><stop offset="0.655" stop-color="#00ff00"/><stop offset="0.8202" stop-color="#00ffff"/><stop offset="0.9961" stop-color="#0004ff"/><stop offset="1" stop-color="#0004ff"/></linearGradient>
<linearGradient id="h183"><stop offset="0" stop-color="#00fff9"/><stop offset="0.0036" stop-color="#00fff9"/><stop offset="0.2219" stop-color="#00ff00"/><stop offset="0.2521" stop-color="#27ff00"/><stop offset="0.4179" stop-color="#feff00"/><stop offset="0.4189" stop-color="#ffff00"/><stop offset="0.4996" stop-color="#ffa600"/><stop offset="0.5415" stop-color="#ffff00"/><stop offset="0.542" stop-color="#feff00"/><stop offset="0.6556" stop-color="#00ff00"/><stop offset="0.8203" stop-color="#00ffff"/><stop offset="0.9961" stop-color="#0005ff"/><stop offset="1" stop-color="#0005ff"/></linearGradient>
<linearGradient id="h184"><stop offset="0" stop-color="#00fff9"/><stop offset="0.0036" stop-color="#00fff9"/><stop offset="0.2199" stop-color="#00ff00"/><stop offset="0.2521" stop-color="#2bff00"/><stop offset="0.4132" stop-color="#feff00"/><stop offset="0.4142" stop-color="#ffff00"/><stop offset="0.4996" stop-color="#ffa100"/><stop offset="0.5439" stop-color="#ffff00"/><stop offset="0.5445" stop-color="#feff00"/><stop offset="0.6573" stop-color="#00ff00"/><stop offset="0.8206" stop-color="#00ffff"/><stop offset="0.9961" stop-color="#0005ff"/><stop offset="1" stop-color="#0005ff"/></linearGradient>
<linearGradient id="h185"><stop offset="0" stop-color="#00fff9"/><stop offset="0.0036" stop-color="#00fff9"/><stop offset="0.2179" stop-color="#00ff00"/><stop offset="0.2521" stop-color="#2fff00"/><stop offset="0.4085" stop-color="#feff00"/><stop offset="0.4095" stop-color="#ffff00"/><stop offset="0.4996" stop-color="#ff9c00"/><stop offset="0.5464" stop-color="#ffff00"/><stop offset="0.547" stop-color="#feff00"/><stop offset="0.659" stop-color="#00ff00"/><stop offset="0.821" stop-color="#00ffff"/><stop offset="0.9961" stop-color="#0006ff"/><stop offset="1" stop-color="#0006ff"/></linearGradient>
<linearGradient id="h186"><stop offset="0" stop-color="#00fff9"/><stop offset="0.0036" stop-color="#00fff9"/><stop offset="0.216" stop-color="#00ff00"/><stop offset="0.2521" stop-color="#33ff00"/><stop offset="0.4038" stop-color="#feff00"/><stop offset="0.4048" stop-color="#ffff00"/><stop offset="0.4996" stop-color="#ff9700"/><stop offset="0.5489" stop-color="#ffff00"/><stop offset="0.5495" stop-color="#feff00"/><stop offset="0.6607" stop-color="#00ff00"/><stop offset="0.8213" stop-color="#00ffff"/><stop offset="0.9961" stop-color="#0006ff"/><stop offset="1" stop-color="#0006ff"/></linearGradient>
<linearGradient id="h187"><stop offset="0" stop-color="#00fff8"/><stop offset="0.0036" stop-color="#00fff8"/><stop offset="0.214" stop-color="#00ff00"/><stop offset="0.2521" stop-color="#37ff00"/><stop offset="0.3991" stop-color="#feff00"/><stop offset="0.4001" stop-color="#ffff00"/><stop offset="0.4996" stop-color="#ff9200"/><stop offset="0.5514" stop-color="#ffff00"/><stop offset="0.5519" stop-color="#feff00"/><stop offset="0.6624" stop-color="#00ff00"/><stop offset="0.8216" stop-color="#00ffff"/><stop offset="0.9961" stop-color="#0006ff"/><stop offset="1" stop-color="#0006ff"/></linearGradient>
<linearGradient id="h188"><stop offset="0" stop-color="#00fff8"/><stop offset="0.0036" stop-color="#00fff8"/><stop offset="0.212" stop-color="#00ff00"/><stop offset="0.2521" stop-color="#3bff00"/><stop offset="0.3944" stop-color="#feff00"/><stop offset="0.3955" stop-color="#ffff00"/><stop offset="0.4996" stop-color="#ff8d00"/><stop offset="0.5539" stop-color="#ffff00"/><stop offset="0.5544" stop-color="#feff00"/><stop offset="0.6642" stop-color="#00ff00"/><stop offset="0.8219" stop-color="#00ffff"/><stop offset="0.9961" stop-color="#0007ff"/><stop offset="1" stop-color="#0007ff"/></linearGradient>
<linearGradient id="h189"><stop offset="0" stop-color="#00fff8"/><stop offset="0.0036" stop-color="#00fff8"/><stop offset="0.2101" stop-color="#00ff00"/><stop offset="0.2521" stop-color="#3fff00"/><stop offset="0.3897" stop-color="#feff00"/><stop offset="0.3908" stop-color="#ffff00"/><stop offset="0.4996" stop-color="#ff8800"/><stop offset="0.5564" stop-color="#ffff00"/><stop offset="0.5569" stop-color="#feff00"/><stop offset="0.6659" stop-color="#00ff00"/><stop offset="0.8222" stop-color="#00ffff"/><stop offset="0.9961" stop-color="#0007ff"/><stop offset="1" stop-color="#0007ff"/></linearGradient>
<linearGradient id="h190"><stop offset="0" stop-color="#00fff8"/><stop offset="0.0036" stop-color="#00fff8"/><stop offset="0.2081" stop-color="#00ff00"/><stop offset="0.2521" stop-color="#43ff00"/><stop offset="0.3851" stop-color="#feff00"/><stop offset="0.3861" stop-color="#ffff00"/><stop offset="0.4996" stop-color="#ff8300"/><stop offset="0.5589" stop-color="#ffff00"/><stop offset="0.5594" stop-color="#feff00"/><stop offset="0.6676" stop-color="#00ff00"/><stop offset="0.8225" stop-color="#00ffff"/><stop offset="0.9961" stop-color="#0008ff"/><stop offset="1" stop-color="#0008ff"/></linearGradient>
<linearGradient id="h191"><stop offset="0" stop-color="#00fff7"/><stop offset="0.0036" stop-color="#00fff7"/><stop offset="0.2061" stop-color="#00ff00"/><stop offset="0.2521" stop-color="#48ff00"/><stop offset="0.3804" stop-color="#feff00"/><stop offset="0.3814" stop-color="#ffff00"/><stop offset="0.4996" stop-color="#ff7e00"/><stop offset="0.5614" stop-color="#ffff00"/><stop offset="0.5619" stop-color="#feff00"/><stop offset="0.6693" stop-color="#00ff00"/><stop offset="0.8229" stop-color="#00ffff"/><stop offset="0.9961" stop-color="#0008ff"/><stop offset="1" stop-color="#0008ff"/></linearGradient>
<linearGradient id="h192"><stop offset="0" stop-color="#00fff7"/><stop offset="0.0036" stop-color="#00fff7"/><stop offset="0.2041" stop-color="#00ff00"/><stop offset="0.2521" stop-color="#4cff00"/><stop offset="0.3757" stop-color="#feff00"/><stop offset="0.3767" stop-color="#ffff00"/><stop offset="0.4996" stop-color="#ff7900"/><stop offset="0.5639" stop-color="#ffff00"/><stop offset="0.5644" stop-color="#feff00"/><stop offset="0.671" stop-color="#00ff00"/><stop offset="0.8232" stop-color="#00ffff"/><stop offset="0.9961" stop-color="#0009ff"/><stop offset="1" stop-color="#0009ff"/></linearGradient>
<linearGradient id="h193"><stop offset="0" stop-color="#00fff7"/><stop offset="0.0036" stop-color="#00fff7"/><stop offset="0.2022" stop-color="#00ff00"/><stop offset="0.2521" stop-color="#50ff00"/><stop offset="0.371" stop-color="#feff00"/><stop offset="0.372" stop-color="#ffff00"/><stop offset="0.4996" stop-color="#ff7400"/><stop offset="0.5664" stop-color="#ffff00"/><stop offset="0.5669" stop-color="#feff00"/><stop offset="0.6727" stop-color="#00ff00"/><stop offset="0.8235" stop-color="#00ffff"/><stop offset="0.9961" stop-color="#0009ff"/><stop offset="1" stop-color="#0009ff"/></linearGradient>
<linearGradient id="h194"><stop offset="0" stop-color="#00fff7"/><stop offset="0.0036" stop-color="#00fff7"/><stop offset="0.2002" stop-color="#00ff00"/><stop offset="0.2521" stop-color="#54ff00"/><stop offset="0.3663" stop-color="#feff00"/><stop offset="0.3673" stop-color="#ffff00"/><stop offset="0.4996" stop-color="#ff6f00"/><stop offset="0.5688" stop-color="#ffff00"/><stop offset="0.5694" stop-color="#feff00"/><stop offset="0.6744" stop-color="#00ff00"/><stop offset="0.8238" stop-color="#00ffff"/><stop offset="0.9961" stop-color="#000aff"/><stop offset="1" stop-color="#000aff"/></linearGradient>
<linearGradient id="h195"><stop offset="0" stop-color="#00fff7"/><stop offset="0.0036" stop-color="#00fff7"/><stop offset="0.1982" stop-color="#00ff00"/><stop offset="0.2521" stop-color="#58ff00"/><stop offset="0.3616" stop-color="#feff00"/><stop offset="0.3626" stop-color="#ffff00"/><stop offset="0.4996" stop-color="#ff6a00"/><stop offset="0.5713" stop-color="#ffff00"/><stop offset="0.5719" stop-color="#feff00"/><stop offset="0.6762" stop-color="#00ff00"/><stop offset="0.8241" stop-color="#00ffff"/><stop offset="0.9961" stop-color="#000aff"/><stop offset="1" stop-color="#000aff"/></linearGradient>
<linearGradient id="h196"><stop offset="0" stop-color="#00fff6"/><stop offset="0.0036" stop-color="#00fff6"/><stop offset="0.1963" stop-color="#00ff00"/><stop offset="0.2521" stop-color="#5cff00"/><stop offset="0.3569" stop-color="#feff00"/><stop offset="0.3579" stop-color="#ffff00"/><stop offset="0.4996" stop-color="#ff6400"/><stop offset="0.5738" stop-color="#ffff00"/><stop offset="0.5744" stop-color="#feff00"/><stop offset="0.6779" stop-color="#00ff00"/><stop offset="0.8244" stop-color="#00ffff"/><stop offset="0.9961" stop-color="#000bff"/><stop offset="1" stop-color="#000bff"/></linearGradient>
<linearGradient id="h197"><stop offset="0" stop-color="#00fff6"/><stop offset="0.0036" stop-color="#00fff6"/><stop offset="0.1943" stop-color="#00ff00"/><stop offset="0.2521" stop-color="#60ff00"/><stop offset="0.3522" stop-color="#feff00"/><stop offset="0.3532" stop-color="#ffff00"/><stop offset="0.4996" stop-color="#ff5f00"/><stop offset="0.5763" stop-color="#ffff00"/><stop offset="0.5768" stop-color="#feff00"/><stop offset="0.6796" stop-color="#00ff00"/><stop offset="0.8248" stop-color="#00ffff"/><stop offset="0.9961" stop-color="#000bff"/><stop offset="1" stop-color="#000bff"/></linearGradient>
<linearGradient id="h198"><stop offset="0" stop-color="#00fff6"/><stop offset="0.0036" stop-color="#00fff6"/><stop offset="0.1923" stop-color="#00ff00"/><stop offset="0.2521" stop-color="#64ff00"/><stop offset="0.3475" stop-color="#feff00"/><stop offset="0.3485" stop-color="#ffff00"/><stop offset="0.4996" stop-color="#ff5a00"/><stop offset="0.5788" stop-color="#ffff00"/><stop offset="0.5793" stop-color="#feff00"/><stop offset="0.6813" stop-color="#00ff00"/><stop offset="0.8251" stop-color="#00ffff"/><stop offset="0.9961" stop-color="#000cff"/><stop offset="1" stop-color="#000cff"/></linearGradient>
<linearGradient id="h199"><stop offset="0" stop-color="#00fff6"/><stop offset="0.0036" stop-color="#00fff6"/><stop offset="0.1904" stop-color="#00ff00"/><stop offset="0.2521" stop-color="#68ff00"/><stop offset="0.3428" stop-color="#feff00"/><stop offset="0.3438" stop-color="#ffff00"/><stop offset="0.4996" stop-color="#ff5500"/><stop offset="0.5813" stop-color="#ffff00"/><stop offset="0.5818" stop-color="#feff00"/><stop offset="0.683" stop-color="#00ff00"/><stop offset="0.8254" stop-color="#00ffff"/><stop offset="0.9961" stop-color="#000cff"/><stop offset="1" stop-color="#000cff"/></linearGradient>
<linearGradient id="h200"><stop offset="0" stop-color="#00fff5"/><stop offset="0.0036" stop-color="#00fff5"/><stop offset="0.1884" stop-color="#00ff00"/><stop offset="0.2521" stop-color="#6cff00"/><stop offset="0.3381" stop-color="#feff00"/><stop offset="0.3391" stop-color="#ffff00"/><stop offset="0.4996" stop-color="#ff5000"/><stop offset="0.5838" stop-color="#ffff00"/><stop offset="0.5843" stop-color="#feff00"/><stop offset="0.6847" stop-color="#00ff00"/><stop offset="0.8257" stop-color="#00ffff"/><stop offset="0.9961" stop-color="#000dff"/><stop offset="1" stop-color="#000dff"/></linearGradient>
<linearGradient id="h201"><stop offset="0" stop-color="#00fff5"/><stop offset="0.0036" stop-color="#00fff5"/><stop offset="0.1864" stop-color="#00ff00"/><stop offset="0.2521" stop-color="#71ff00"/><stop offset="0.3334" stop-color="#feff00"/><stop offset="0.3344" stop-color="#ffff00"/><stop offset="0.4996" stop-color="#ff4b00"/><stop offset="0.5863" stop-color="#ffff00"/><stop offset="0.5868" stop-color="#feff00"/><stop offset="0.6865" stop-color="#00ff00"/><stop offset="0.826" stop-color="#00ffff"/><stop offset="0.9961" stop-color="#000dff"/><stop offset="1" stop-color="#000dff"/></linearGradient>
<linearGradient id="h202"><stop offset="0" stop-color="#00fff5"/><stop offset="0.0036" stop-color="#00fff5"/><stop offset="0.1855" stop-color="#00ff00"/><stop offset="0.2521" stop-color="#72ff00"/><stop offset="0.3326" stop-color="#feff00"/><stop offset="0.3336" stop-color="#ffff00"/><stop offset="0.4996" stop-color="#ff4700"/><stop offset="0.5885" stop-color="#ffff00"/><stop offset="0.589" stop-color="#feff00"/><stop offset="0.6885" stop-color="#00ff00"/><stop offset="0.8282" stop-color="#00ffff"/><stop offset="0.9961" stop-color="#000fff"/><stop offset="1" stop-color="#000fff"/></linearGradient>
<linearGradient id="h203"><stop offset="0" stop-color="#00fff5"/><stop offset="0.0036" stop-color="#00fff5"/><stop offset="0.1846" stop-color="#00ff00"/><stop offset="0.2521" stop-color="#73ff00"/><stop offset="0.3318" stop-color="#feff00"/><stop offset="0.3328" stop-color="#ffff00"/><stop offset="0.4996" stop-color="#ff4300"/><stop offset="0.5906" stop-color="#ffff00"/><stop offset="0.5912" stop-color="#feff00"/><stop offset="0.6905" stop-color="#00ff00"/><stop offset="0.8304" stop-color="#00ffff"/><stop offset="0.9961" stop-color="#0010ff"/><stop offset="1" stop-color="#0010ff"/></linearGradient>
<linearGradient id="h204"><stop offset="0" stop-color="#00fff4"/><stop offset="0.0036" stop-color="#00fff4"/><stop offset="0.1837" stop-color="#00ff00"/><stop offset="0.2521" stop-color="#75ff00"/><stop offset="0.3311" stop-color="#feff00"/><stop offset="0.332" stop-color="#ffff00"/><stop offset="0.4996" stop-color="#ff3f00"/><stop offset="0.5928" stop-color="#ffff00"/><stop offset="0.5934" stop-color="#feff00"/><stop offset="0.6925" stop-color="#00ff00"/><stop offset="0.8325" stop-color="#00ffff"/><stop offset="0.9961" stop-color="#0012ff"/><stop offset="1" stop-color="#0012ff"/></linearGradient>
<linearGradient id="h205"><stop offset="0" stop-color="#00fff4"/><stop offset="0.0036" stop-color="#00fff4"/><stop offset="0.1828" stop-color="#00ff00"/><stop offset="0.2521" stop-color="#76ff00"/><stop offset="0.3303" stop-color="#feff00"/><stop offset="0.3313" stop-color="#ffff00"/><stop offset="0.4996" stop-color="#ff3b00"/><stop offset="0.595" stop-color="#ffff00"/><stop offset="0.5955" stop-color="#feff00"/><stop offset="0.6946" stop-color="#00ff00"/><stop offset="0.8347" stop-color="#00ffff"/><stop offset="0.9961" stop-color="#0013ff"/><stop offset="1" stop-color="#0013ff"/></linearGradient>
<linearGradient id="h206"><stop offset="0" stop-color="#00fff4"/><stop offset="0.0036" stop-color="#00fff4"/><stop offset="0.1819" stop-color="#00ff00"/><stop offset="0.2521" stop-color="#78ff00"/><stop offset="0.3295" stop-color="#feff00"/><stop offset="0.3305" stop-color="#ffff00"/><stop offset="0.4996" stop-color="#ff3700"/><stop offset="0.5972" stop-color="#ffff00"/><stop offset="0.5977" stop-color="#feff00"/><stop offset="0.6966" stop-color="#00ff00"/><stop offset="0.8369" stop-color="#00ffff"/><stop offset="0.9961" stop-color="#0014ff"/><stop offset="1" stop-color="#0014ff"/></linearGradient>
<linearGradient id="h207"><stop offset="0" stop-color="#00fff4"/><stop offset="0.0036" stop-color="#00fff4"/><stop offset="0.181" stop-color="#00ff00"/><stop offset="0.2521" stop-color="#79ff00"/><stop offset="0.3288" stop-color="#feff00"/><stop offset="0.3297" stop-color="#ffff00"/><stop offset="0.4996" stop-color="#ff3200"/><stop offset="0.5994" stop-color="#ffff00"/><stop offset="0.5999" stop-color="#feff00"/><stop offset="0.6986" stop-color="#00ff00"/><stop offset="0.8391" stop-color="#00ffff"/><stop offset="0.9961" stop-color="#0016ff"/><stop offset="1" stop-color="#0016ff"/></linearGradient>
<linearGradient id="h208"><stop offset="0" stop-color="#00fff3"/><stop offset="0.0036" stop-color="#00fff3"/><stop offset="0.1801" stop-color="#00ff00"/><stop offset="0.2521" stop-color="#7bff00"/><stop offset="0.328" stop-color="#feff00"/><stop offset="0.3289" stop-color="#ffff00"/><stop offset="0.4996" stop-color="#ff2e00"/><stop offset="0.6016" stop-color="#ffff00"/><stop offset="0.6021" stop-color="#feff00"/><stop offset="0.7006" stop-color="#00ff00"/><stop offset="0.8412" stop-color="#00ffff"/><stop offset="0.9961" stop-color="#0017ff"/><stop offset="1" stop-color="#0017ff"/></linearGradient>
<linearGradient id="h209"><stop offset="0" stop-color="#00fff3"/><stop offset="0.0036" stop-color="#00fff3"/><stop offset="0.1791" stop-color="#00ff00"/><stop offset="0.2521" stop-color="#7cff00"/><stop offset="0.3273" stop-color="#feff00"/><stop offset="0.3282" stop-color="#ffff00"/><stop offset="0.4996" stop-color="#ff2a00"/><stop offset="0.6037" stop-color="#ffff00"/><stop offset="0.6043" stop-color="#feff00"/><stop offset="0.7027" stop-color="#00ff00"/><stop offset="0.8434" stop-color="#00ffff"/><stop offset="0.9961" stop-color="#0019ff"/><stop offset="1" stop-color="#0019ff"/></linearGradient>
<linearGradient id="h210"><stop offset="0" stop-color="#00fff3"/><stop offset="0.0036" stop-color="#00fff3"/><stop offset="0.1782" stop-color="#00ff00"/><stop offset="0.2521" stop-color="#7eff00"/><stop offset="0.3265" stop-color="#feff00"/><stop offset="0.3274" stop-color="#ffff00"/><stop offset="0.4996" stop-color="#ff2600"/><stop offset="0.6059" stop-color="#ffff00"/><stop offset="0.6065" stop-color="#feff00"/><stop offset="0.7047" stop-color="#00ff00"/><stop offset="0.8456" stop-color="#00ffff"/><stop offset="0.9961" stop-color="#001aff"/><stop offset="1" stop-color="#001aff"/></linearGradient>
<linearGradient id="h211"><stop offset="0" stop-color="#00fff3"/><stop offset="0.0036" stop-color="#00fff3"/><stop offset="0.1773" stop-color="#00ff00"/><stop offset="0.2521" stop-color="#7fff00"/><stop offset="0.3258" stop-color="#feff00"/><stop offset="0.3266" stop-color="#ffff00"/><stop offset="0.4996" stop-color="#ff2200"/><stop offset="0.6081" stop-color="#ffff00"/><stop offset="0.6086" stop-color="#feff00"/><stop offset="0.7067" stop-color="#00ff00"/><stop offset="0.8478" stop-color="#00ffff"/><stop offset="0.9961" stop-color="#001cff"/><stop offset="1" stop-color="#001cff"/></linearGradient>
<linearGradient id="h212"><stop offset="0" stop-color="#00fff2"/><stop offset="0.0036" stop-color="#00fff2"/><stop offset="0.1764" stop-color="#00ff00"/><stop offset="0.2521" stop-color="#81ff00"/><stop offset="0.325" stop-color="#feff00"/><stop offset="0.3258" stop-color="#ffff00"/><stop offset="0.4996" stop-color="#ff1e00"/><stop offset="0.6103" stop-color="#ffff00"/><stop offset="0.6108" stop-color="#feff00"/><stop offset="0.7087" stop-color="#00ff00"/><stop offset="0.8499" stop-color="#00ffff"/><stop offset="0.9961" stop-color="#001dff"/><stop offset="1" stop-color="#001dff"/></linearGradient>
<linearGradient id="h213"><stop offset="0" stop-color="#00fff2"/><stop offset="0.0036" stop-color="#00fff2"/><stop offset="0.1755" stop-color="#00ff00"/><stop offset="0.2521" stop-color="#82ff00"/><stop offset="0.3242" stop-color="#feff00"/><stop offset="0.3251" stop-color="#ffff00"/><stop offset="0.4996" stop-color="#ff1a00"/><stop offset="0.6125" stop-color="#ffff00"/><stop offset="0.613" stop-color="#feff00"/><stop offset="0.7107" stop-color="#00ff00"/><stop offset="0.8521" stop-color="#00ffff"/><stop offset="0.9961" stop-color="#001fff"/><stop offset="1" stop-color="#001fff"/></linearGradient>
<linearGradient id="h214"><stop offset="0" stop-color="#00fff2"/><stop offset="0.0036" stop-color="#00fff2"/><stop offset="0.1746" stop-color="#00ff00"/><stop offset="0.2521" stop-color="#83ff00"/><stop offset="0.3235" stop-color="#feff00"/><stop offset="0.3243" stop-color="#ffff00"/><stop offset="0.4996" stop-color="#ff1600"/><stop offset="0.6146" stop-color="#ffff00"/><stop offset="0.6152" stop-color="#feff00"/><stop offset="0.7128" stop-color="#00ff00"/><stop offset="0.8543" stop-color="#00ffff"/><stop offset="0.9961" stop-color="#0020ff"/><stop offset="1" stop-color="#0020ff"/></linearGradient>
<linearGradient id="h215"><stop offset="0" stop-color="#00fff2"/><stop offset="0.0036" stop-color="#00fff2"/><stop offset="0.1737" stop-color="#00ff00"/><stop offset="0.2521" stop-color="#85ff00"/><stop offset="0.3227" stop-color="#feff00"/><stop offset="0.3235" stop-color="#ffff00"/><stop offset="0.4996" stop-color="#ff1200"/><stop offset="0.6168" stop-color="#ffff00"/><stop offset="0.6174" stop-color="#feff00"/><stop offset="0.7148" stop-color="#00ff00"/><stop offset="0.8564" stop-color="#00ffff"/><stop offset="0.9961" stop-color="#0022ff"/><stop offset="1" stop-color="#0022ff"/></linearGradient>
<linearGradient id="h216"><stop offset="0" stop-color="#00fff1"/><stop offset="0.0036" stop-color="#00fff1"/><stop offset="0.1728" stop-color="#00ff00"/><stop offset="0.2521" stop-color="#86ff00"/><stop offset="0.322" stop-color="#feff00"/><stop offset="0.3228" stop-color="#ffff00"/><stop offset="0.4996" stop-color="#ff0e00"/><stop offset="0.619" stop-color="#ffff00"/><stop offset="0.6196" stop-color="#feff00"/><stop offset="0.7168" stop-color="#00ff00"/><stop offset="0.8586" stop-color="#00ffff"/><stop offset="0.9961" stop-color="#0023ff"/><stop offset="1" stop-color="#0023ff"/></linearGradient>
<linearGradient id="h217"><stop offset="0" stop-color="#00fff1"/><stop offset="0.0036" stop-color="#00fff1"/><stop offset="0.1719" stop-color="#00ff00"/><stop offset="0.2521" stop-color="#88ff00"/><stop offset="0.3212" stop-color="#feff00"/><stop offset="0.322" stop-color="#ffff00"/><stop offset="0.4996" stop-color="#ff0900"/><stop offset="0.6212" stop-color="#ffff00"/><stop offset="0.6217" stop-color="#feff00"/><stop offset="0.7188" stop-color="#00ff00"/><stop offset="0.8608" stop-color="#00ffff"/><stop offset="0.9961" stop-color="#0024ff"/><stop offset="1" stop-color="#0024ff"/></linearGradient>
<linearGradient id="h218"><stop offset="0" stop-color="#00fff1"/><stop offset="0.0036" stop-color="#00fff1"/><stop offset="0.171" stop-color="#00ff00"/><stop offset="0.2521" stop-color="#89ff00"/><stop offset="0.3204" stop-color="#feff00"/><stop offset="0.3212" stop-color="#ffff00"/><stop offset="0.4996" stop-color="#ff0500"/><stop offset="0.6234" stop-color="#ffff00"/><stop offset="0.6239" stop-color="#feff00"/><stop offset="0.7209" stop-color="#00ff00"/><stop offset="0.863" stop-color="#00ffff"/><stop offset="0.9961" stop-color="#0026ff"/><stop offset="1" stop-color="#0026ff"/></linearGradient>
<linearGradient id="h219"><stop offset="0" stop-color="#00fff1"/><stop offset="0.0036" stop-color="#00fff1"/><stop offset="0.17" stop-color="#00ff00"/><stop offset="0.2521" stop-color="#8bff00"/><stop offset="0.3197" stop-color="#feff00"/><stop offset="0.3205" stop-color="#ffff00"/><stop offset="0.4996" stop-color="#ff0100"/><stop offset="0.6256" stop-color="#ffff00"/><stop offset="0.6261" stop-color="#feff00"/><stop offset="0.7229" stop-color="#00ff00"/><stop offset="0.8651" stop-color="#00ffff"/><stop offset="0.9961" stop-color="#0027ff"/><stop offset="1" stop-color="#0027ff"/></linearGradient>
<linearGradient id="h220"><stop offset="0" stop-color="#00fff1"/><stop offset="0.0036" stop-color="#00fff1"/><stop offset="0.1698" stop-color="#00ff00"/><stop offset="0.2521" stop-color="#8bff00"/><stop offset="0.3195" stop-color="#feff00"/><stop offset="0.3202" stop-color="#ffff00"/><stop offset="0.4996" stop-color="#ff0000"/><stop offset="0.6262" stop-color="#ffff00"/><stop offset="0.6268" stop-color="#feff00"/><stop offset="0.7235" stop-color="#00ff00"/><stop offset="0.8658" stop-color="#00ffff"/><stop offset="0.9961" stop-color="#0028ff"/><stop offset="1" stop-color="#0028ff"/></linearGradient>
<linearGradient id="cb" x1="0" y1="0" x2="0" y2="1"><stop offset="0" stop-color="#f00"/><stop offset=".25" stop-color="#ff0"/><stop offset=".5" stop-color="#0f0"/><stop offset=".75" stop-color="#0ff"/><stop offset="1" stop-color="#00f"/></linearGradient>
</defs>
<rect width="2017" height="2103" fill="#fff"/>
<g filter="url(#bla)">
<rect x="400" width="1400" height="870" fill="#fff"/>
<g id="heat">
<svg x="709" y="0" width="691.5" height="713" overflow="hidden"><g class="hr"><rect width="691.5" y="51" height="3.6" fill="url(#h0)"/><rect width="691.5" y="54" height="3.6" fill="url(#h1)"/><rect width="691.5" y="57" height="3.6" fill="url(#h2)"/><rect width="691.5" y="60" height="3.6" fill="url(#h3)"/><rect width="691.5" y="63" height="3.6" fill="url(#h4)"/><rect width="691.5" y="66" height="3.6" fill="url(#h5)"/><rect width="691.5" y="69" height="3.6" fill="url(#h6)"/><rect width="691.5" y="72" height="3.6" fill="url(#h7)"/><rect width="691.5" y="75" height="3.6" fill="url(#h8)"/><rect width="691.5" y="78" height="3.6" fill="url(#h9)"/><rect width="691.5" y="81" height="3.6" fill="url(#h10)"/><rect width="691.5" y="84" height="3.6" fill="url(#h11)"/><rect width="691.5" y="87" height="3.6" fill="url(#h12)"/><rect width="691.5" y="90" height="3.6" fill="url(#h13)"/><rect width="691.5" y="93" height="3.6" fill="url(#h14)"/><rect width="691.5" y="96" height="3.6" fill="url(#h15)"/><rect width="691.5" y="99" height="3.6" fill="url(#h16)"/><rect width="691.5" y="102" height="3.6" fill="url(#h17)"/><rect width="691.5" y="105" height="3.6" fill="url(#h18)"/><rect width="691.5" y="108" height="3.6" fill="url(#h19)"/><rect width="691.5" y="111" height="3.6" fill="url(#h20)"/><rect width="691.5" y="114" height="3.6" fill="url(#h21)"/><rect width="691.5" y="117" height="3.6" fill="url(#h22)"/><rect width="691.5" y="120" height="3.6" fill="url(#h23)"/><rect width="691.5" y="123" height="3.6" fill="url(#h24)"/><rect width="691.5" y="126" height="3.6" fill="url(#h25)"/><rect width="691.5" y="129" height="3.6" fill="url(#h26)"/><rect width="691.5" y="132" height="3.6" fill="url(#h27)"/><rect width="691.5" y="135" height="3.6" fill="url(#h28)"/><rect width="691.5" y="138" height="3.6" fill="url(#h29)"/><rect width="691.5" y="141" height="3.6" fill="url(#h30)"/><rect width="691.5" y="144" height="3.6" fill="url(#h31)"/><rect width="691.5" y="147" height="3.6" fill="url(#h32)"/><rect width="691.5" y="150" height="3.6" fill="url(#h33)"/><rect width="691.5" y="153" height="3.6" fill="url(#h34)"/><rect width="691.5" y="156" height="3.6" fill="url(#h35)"/><rect width="691.5" y="159" height="3.6" fill="url(#h36)"/><rect width="691.5" y="162" height="3.6" fill="url(#h37)"/><rect width="691.5" y="165" height="3.6" fill="url(#h38)"/><rect width="691.5" y="168" height="3.6" fill="url(#h39)"/><rect width="691.5" y="171" height="3.6" fill="url(#h40)"/><rect width="691.5" y="174" height="3.6" fill="url(#h41)"/><rect width="691.5" y="177" height="3.6" fill="url(#h42)"/><rect width="691.5" y="180" height="3.6" fill="url(#h43)"/><rect width="691.5" y="183" height="3.6" fill="url(#h44)"/><rect width="691.5" y="186" height="3.6" fill="url(#h45)"/><rect width="691.5" y="189" height="3.6" fill="url(#h46)"/><rect width="691.5" y="192" height="3.6" fill="url(#h47)"/><rect width="691.5" y="195" height="3.6" fill="url(#h48)"/><rect width="691.5" y="198" height="3.6" fill="url(#h49)"/><rect width="691.5" y="201" height="3.6" fill="url(#h50)"/><rect width="691.5" y="204" height="3.6" fill="url(#h51)"/><rect width="691.5" y="207" height="3.6" fill="url(#h52)"/><rect width="691.5" y="210" height="3.6" fill="url(#h53)"/><rect width="691.5" y="213" height="3.6" fill="url(#h54)"/><rect width="691.5" y="216" height="3.6" fill="url(#h55)"/><rect width="691.5" y="219" height="3.6" fill="url(#h56)"/><rect width="691.5" y="222" height="3.6" fill="url(#h57)"/><rect width="691.5" y="225" height="3.6" fill="url(#h58)"/><rect width="691.5" y="228" height="3.6" fill="url(#h59)"/><rect width="691.5" y="231" height="3.6" fill="url(#h60)"/><rect width="691.5" y="234" height="3.6" fill="url(#h61)"/><rect width="691.5" y="237" height="3.6" fill="url(#h62)"/><rect width="691.5" y="240" height="3.6" fill="url(#h63)"/><rect width="691.5" y="243" height="3.6" fill="url(#h64)"/><rect width="691.5" y="246" height="3.6" fill="url(#h65)"/><rect width="691.5" y="249" height="3.6" fill="url(#h66)"/><rect width="691.5" y="252" height="3.6" fill="url(#h67)"/><rect width="691.5" y="255" height="3.6" fill="url(#h68)"/><rect width="691.5" y="258" height="3.6" fill="url(#h69)"/><rect width="691.5" y="261" height="3.6" fill="url(#h70)"/><rect width="691.5" y="264" height="3.6" fill="url(#h71)"/><rect width="691.5" y="267" height="3.6" fill="url(#h72)"/><rect width="691.5" y="270" height="3.6" fill="url(#h73)"/><rect width="691.5" y="273" height="3.6" fill="url(#h74)"/><rect width="691.5" y="276" height="3.6" fill="url(#h75)"/><rect width="691.5" y="279" height="3.6" fill="url(#h76)"/><rect width="691.5" y="282" height="3.6" fill="url(#h77)"/><rect width="691.5" y="285" height="3.6" fill="url(#h78)"/><rect width="691.5" y="288" height="3.6" fill="url(#h79)"/><rect width="691.5" y="291" height="3.6" fill="url(#h80)"/><rect width="691.5" y="294" height="3.6" fill="url(#h81)"/><rect width="691.5" y="297" height="3.6" fill="url(#h82)"/><rect width="691.5" y="300" height="3.6" fill="url(#h83)"/><rect width="691.5" y="303" height="3.6" fill="url(#h84)"/><rect width="691.5" y="306" height="3.6" fill="url(#h85)"/><rect width="691.5" y="309" height="3.6" fill="url(#h86)"/><rect width="691.5" y="312" height="3.6" fill="url(#h87)"/><rect width="691.5" y="315" height="3.6" fill="url(#h88)"/><rect width="691.5" y="318" height="3.6" fill="url(#h89)"/><rect width="691.5" y="321" height="3.6" fill="url(#h90)"/><rect width="691.5" y="324" height="3.6" fill="url(#h91)"/><rect width="691.5" y="327" height="3.6" fill="url(#h92)"/><rect width="691.5" y="330" height="3.6" fill="url(#h93)"/><rect width="691.5" y="333" height="3.6" fill="url(#h94)"/><rect width="691.5" y="336" height="3.6" fill="url(#h95)"/><rect width="691.5" y="339" height="3.6" fill="url(#h96)"/><rect width="691.5" y="342" height="3.6" fill="url(#h97)"/><rect width="691.5" y="345" height="3.6" fill="url(#h98)"/><rect width="691.5" y="348" height="3.6" fill="url(#h99)"/><rect width="691.5" y="351" height="3.6" fill="url(#h100)"/><rect width="691.5" y="354" height="3.6" fill="url(#h101)"/><rect width="691.5" y="357" height="3.6" fill="url(#h102)"/><rect width="691.5" y="360" height="3.6" fill="url(#h103)"/><rect width="691.5" y="363" height="3.6" fill="url(#h104)"/><rect width="691.5" y="366" height="3.6" fill="url(#h105)"/><rect width="691.5" y="369" height="3.6" fill="url(#h106)"/><rect width="691.5" y="372" height="3.6" fill="url(#h107)"/><rect width="691.5" y="375" height="3.6" fill="url(#h108)"/><rect width="691.5" y="378" height="3.6" fill="url(#h109)"/><rect width="691.5" y="381" height="3.6" fill="url(#h110)"/><rect width="691.5" y="384" height="3.6" fill="url(#h111)"/><rect width="691.5" y="387" height="3.6" fill="url(#h112)"/><rect width="691.5" y="390" height="3.6" fill="url(#h113)"/><rect width="691.5" y="393" height="3.6" fill="url(#h114)"/><rect width="691.5" y="396" height="3.6" fill="url(#h115)"/><rect width="691.5" y="399" height="3.6" fill="url(#h116)"/><rect width="691.5" y="402" height="3.6" fill="url(#h117)"/><rect width="691.5" y="405" height="3.6" fill="url(#h118)"/><rect width="691.5" y="408" height="3.6" fill="url(#h119)"/><rect width="691.5" y="411" height="3.6" fill="url(#h120)"/><rect width="691.5" y="414" height="3.6" fill="url(#h121)"/><rect width="691.5" y="417" height="3.6" fill="url(#h122)"/><rect width="691.5" y="420" height="3.6" fill="url(#h123)"/><rect width="691.5" y="423" height="3.6" fill="url(#h124)"/><rect width="691.5" y="426" height="3.6" fill="url(#h125)"/><rect width="691.5" y="429" height="3.6" fill="url(#h126)"/><rect width="691.5" y="432" height="3.6" fill="url(#h127)"/><rect width="691.5" y="435" height="3.6" fill="url(#h128)"/><rect width="691.5" y="438" height="3.6" fill="url(#h129)"/><rect width="691.5" y="441" height="3.6" fill="url(#h130)"/><rect width="691.5" y="444" height="3.6" fill="url(#h131)"/><rect width="691.5" y="447" height="3.6" fill="url(#h132)"/><rect width="691.5" y="450" height="3.6" fill="url(#h133)"/><rect width="691.5" y="453" height="3.6" fill="url(#h134)"/><rect width="691.5" y="456" height="3.6" fill="url(#h135)"/><rect width="691.5" y="459" height="3.6" fill="url(#h136)"/><rect width="691.5" y="462" height="3.6" fill="url(#h137)"/><rect width="691.5" y="465" height="3.6" fill="url(#h138)"/><rect width="691.5" y="468" height="3.6" fill="url(#h139)"/><rect width="691.5" y="471" height="3.6" fill="url(#h140)"/><rect width="691.5" y="474" height="3.6" fill="url(#h141)"/><rect width="691.5" y="477" height="3.6" fill="url(#h142)"/><rect width="691.5" y="480" height="3.6" fill="url(#h143)"/><rect width="691.5" y="483" height="3.6" fill="url(#h144)"/><rect width="691.5" y="486" height="3.6" fill="url(#h145)"/><rect width="691.5" y="489" height="3.6" fill="url(#h146)"/><rect width="691.5" y="492" height="3.6" fill="url(#h147)"/><rect width="691.5" y="495" height="3.6" fill="url(#h148)"/><rect width="691.5" y="498" height="3.6" fill="url(#h149)"/><rect width="691.5" y="501" height="3.6" fill="url(#h150)"/><rect width="691.5" y="504" height="3.6" fill="url(#h151)"/><rect width="691.5" y="507" height="3.6" fill="url(#h152)"/><rect width="691.5" y="510" height="3.6" fill="url(#h153)"/><rect width="691.5" y="513" height="3.6" fill="url(#h154)"/><rect width="691.5" y="516" height="3.6" fill="url(#h155)"/><rect width="691.5" y="519" height="3.6" fill="url(#h156)"/><rect width="691.5" y="522" height="3.6" fill="url(#h157)"/><rect width="691.5" y="525" height="3.6" fill="url(#h158)"/><rect width="691.5" y="528" height="3.6" fill="url(#h159)"/><rect width="691.5" y="531" height="3.6" fill="url(#h160)"/><rect width="691.5" y="534" height="3.6" fill="url(#h161)"/><rect width="691.5" y="537" height="3.6" fill="url(#h162)"/><rect width="691.5" y="540" height="3.6" fill="url(#h163)"/><rect width="691.5" y="543" height="3.6" fill="url(#h164)"/><rect width="691.5" y="546" height="3.6" fill="url(#h165)"/><rect width="691.5" y="549" height="3.6" fill="url(#h166)"/><rect width="691.5" y="552" height="3.6" fill="url(#h167)"/><rect width="691.5" y="555" height="3.6" fill="url(#h168)"/><rect width="691.5" y="558" height="3.6" fill="url(#h169)"/><rect width="691.5" y="561" height="3.6" fill="url(#h170)"/><rect width="691.5" y="564" height="3.6" fill="url(#h171)"/><rect width="691.5" y="567" height="3.6" fill="url(#h172)"/><rect width="691.5" y="570" height="3.6" fill="url(#h173)"/><rect width="691.5" y="573" height="3.6" fill="url(#h174)"/><rect width="691.5" y="576" height="3.6" fill="url(#h175)"/><rect width="691.5" y="579" height="3.6" fill="url(#h176)"/><rect width="691.5" y="582" height="3.6" fill="url(#h177)"/><rect width="691.5" y="585" height="3.6" fill="url(#h178)"/><rect width="691.5" y="588" height="3.6" fill="url(#h179)"/><rect width="691.5" y="591" height="3.6" fill="url(#h180)"/><rect width="691.5" y="594" height="3.6" fill="url(#h181)"/><rect width="691.5" y="597" height="3.6" fill="url(#h182)"/><rect width="691.5" y="600" height="3.6" fill="url(#h183)"/><rect width="691.5" y="603" height="3.6" fill="url(#h184)"/><rect width="691.5" y="606" height="3.6" fill="url(#h185)"/><rect width="691.5" y="609" height="3.6" fill="url(#h186)"/><rect width="691.5" y="612" height="3.6" fill="url(#h187)"/><rect width="691.5" y="615" height="3.6" fill="url(#h188)"/><rect width="691.5" y="618" height="3.6" fill="url(#h189)"/><rect width="691.5" y="621" height="3.6" fill="url(#h190)"/><rect width="691.5" y="624" height="3.6" fill="url(#h191)"/><rect width="691.5" y="627" height="3.6" fill="url(#h192)"/><rect width="691.5" y="630" height="3.6" fill="url(#h193)"/><rect width="691.5" y="633" height="3.6" fill="url(#h194)"/><rect width="691.5" y="636" height="3.6" fill="url(#h195)"/><rect width="691.5" y="639" height="3.6" fill="url(#h196)"/><rect width="691.5" y="642" height="3.6" fill="url(#h197)"/><rect width="691.5" y="645" height="3.6" fill="url(#h198)"/><rect width="691.5" y="648" height="3.6" fill="url(#h199)"/><rect width="691.5" y="651" height="3.6" fill="url(#h200)"/><rect width="691.5" y="654" height="3.6" fill="url(#h201)"/><rect width="691.5" y="657" height="3.6" fill="url(#h202)"/><rect width="691.5" y="660" height="3.6" fill="url(#h203)"/><rect width="691.5" y="663" height="3.6" fill="url(#h204)"/><rect width="691.5" y="666" height="3.6" fill="url(#h205)"/><rect width="691.5" y="669" height="3.6" fill="url(#h206)"/><rect width="691.5" y="672" height="3.6" fill="url(#h207)"/><rect width="691.5" y="675" height="3.6" fill="url(#h208)"/><rect width="691.5" y="678" height="3.6" fill="url(#h209)"/><rect width="691.5" y="681" height="3.6" fill="url(#h210)"/><rect width="691.5" y="684" height="3.6" fill="url(#h211)"/><rect width="691.5" y="687" height="3.6" fill="url(#h212)"/><rect width="691.5" y="690" height="3.6" fill="url(#h213)"/><rect width="691.5" y="693" height="3.6" fill="url(#h214)"/><rect width="691.5" y="696" height="3.6" fill="url(#h215)"/><rect width="691.5" y="699" height="3.6" fill="url(#h216)"/><rect width="691.5" y="702" height="3.6" fill="url(#h217)"/><rect width="691.5" y="705" height="3.6" fill="url(#h218)"/><rect width="691.5" y="708" height="3.6" fill="url(#h219)"/><rect width="691.5" y="711" height="2.6" fill="url(#h220)"/></g></svg>
</g>
<path d="M697 50.6H1399" stroke="#777" stroke-opacity=".4" stroke-width="3.4"/>
<rect x="710.5" y="53.2" width="685.5" height="658.4" fill="none" stroke="#101018" stroke-opacity=".5" stroke-width="3.2"/>
<path d="M697 51.9L710 51.9" stroke="#9a9496" stroke-width="3.6"/>
<path d="M703 134.15L710 134.15" stroke="#666" stroke-width="2.4"/>
<path d="M697 216.4L710 216.4" stroke="#9a9496" stroke-width="3.6"/>
<path d="M703 298.6L710 298.6" stroke="#666" stroke-width="2.4"/>
<path d="M697 380.8L710 380.8" stroke="#9a9496" stroke-width="3.6"/>
<path d="M703 462.9L710 462.9" stroke="#666" stroke-width="2.4"/>
<path d="M697 545L710 545" stroke="#9a9496" stroke-width="3.6"/>
<path d="M703 627.9L710 627.9" stroke="#666" stroke-width="2.4"/>
<path d="M697 710.8L710 710.8" stroke="#9a9496" stroke-width="3.6"/>
<path d="M710.7 711L710.7 722" stroke="#666" stroke-width="2.6"/>
<path d="M883.2 711L883.2 722" stroke="#666" stroke-width="2.6"/>
<path d="M1052.8 711L1052.8 722" stroke="#666" stroke-width="2.6"/>
<path d="M1225 711L1225 722" stroke="#666" stroke-width="2.6"/>
<path d="M1397.4 711L1397.4 722" stroke="#666" stroke-width="2.6"/>
<path d="M797.5 711L797.5 716.3" stroke="#666" stroke-width="2.4"/>
<path d="M968.3 711L968.3 716.3" stroke="#666" stroke-width="2.4"/>
<path d="M1139.8 711L1139.8 716.3" stroke="#666" stroke-width="2.4"/>
<path d="M1311.6 711L1311.6 716.3" stroke="#666" stroke-width="2.4"/>
<text transform="matrix(0.95 0 0 1 571.06 62.37)" font-size="43.11" fill="#3a3a3a" stroke="#3a3a3a" stroke-width="1">SPR2</text>
<text transform="matrix(0.9 0 0 1 572.01 223.86)" font-size="44.1" fill="#3a3a3a" stroke="#3a3a3a" stroke-width="1">SPR1</text>
<text transform="matrix(0.87 0 0 1 632.49 392.76)" font-size="43.96" fill="#3a3a3a" stroke="#3a3a3a" stroke-width="1">SP</text>
<text transform="matrix(0.93 0 0 1 621.46 556.7)" font-size="44.8" fill="#3a3a3a" stroke="#3a3a3a" stroke-width="1">HB</text>
<text transform="matrix(1.01 0 0 1 593.14 712.6)" font-size="43.78" fill="#3a3a3a" stroke="#3a3a3a" stroke-width="1">HAD</text>
<text transform="matrix(0.91 0 0 1 694.37 765.85)" font-size="44.66" fill="#3a3a3a" stroke="#3a3a3a" stroke-width="1">35</text>
<text transform="matrix(1 0 0 1 856.6 765.06)" font-size="44.24" fill="#3a3a3a" stroke="#3a3a3a" stroke-width="1">40</text>
<text transform="matrix(0.97 0 0 1 1020.92 765.05)" font-size="44.87" fill="#3a3a3a" stroke="#3a3a3a" stroke-width="1">45</text>
<text transform="matrix(1.01 0 0 1 1198.77 764.35)" font-size="45.09" fill="#3a3a3a" stroke="#3a3a3a" stroke-width="1">50</text>
<text transform="matrix(0.96 0 0 1 1358.67 764.32)" font-size="47.6" fill="#3a3a3a" stroke="#3a3a3a" stroke-width="1">55</text>
<text transform="matrix(0.98 0 0 1 873.71 824)" font-size="54.11" fill="#3a3a3a" stroke="#3a3a3a" stroke-width="1">Temperature (°C)</text>
<text transform="matrix(0 -0.99 1 0 531.8 573.3)" font-size="54.98" fill="#3a3a3a" stroke="#3a3a3a" stroke-width="1">Detection probe</text>
<text transform="matrix(0.99 0 0 1 753.78 135.85)" font-size="59.49" fill="#0c0c0c" stroke="#0c0c0c" stroke-width="0.9">HAB</text>
<rect x="1509.6" y="66.4" width="49" height="629.8" fill="url(#cb)" stroke="#333" stroke-opacity=".7" stroke-width="2.4"/>
<path d="M1558.6 66.8L1569 66.8" stroke="#9a9496" stroke-width="3.4"/>
<path d="M1558.6 144.5L1569 144.5" stroke="#9a9496" stroke-width="3.4"/>
<path d="M1558.6 222.7L1569 222.7" stroke="#9a9496" stroke-width="3.4"/>
<path d="M1558.6 302.3L1569 302.3" stroke="#9a9496" stroke-width="3.4"/>
<path d="M1558.6 380.9L1569 380.9" stroke="#9a9496" stroke-width="3.4"/>
<path d="M1558.6 458.9L1569 458.9" stroke="#9a9496" stroke-width="3.4"/>
<path d="M1558.6 537.5L1569 537.5" stroke="#9a9496" stroke-width="3.4"/>
<path d="M1558.6 616.2L1569 616.2" stroke="#9a9496" stroke-width="3.4"/>
<path d="M1558.6 694.8L1569 694.8" stroke="#9a9496" stroke-width="3.4"/>
<text transform="matrix(1.03 0 0 1 1590.91 83.5)" font-size="42.44" fill="#3a3a3a" stroke="#3a3a3a" stroke-width="1">24</text>
<text transform="matrix(1.04 0 0 1 1587.7 159)" font-size="42.44" fill="#3a3a3a" stroke="#3a3a3a" stroke-width="1">21</text>
<text transform="matrix(1.04 0 0 1 1588.17 238.97)" font-size="42.69" fill="#3a3a3a" stroke="#3a3a3a" stroke-width="1">18</text>
<text transform="matrix(0.95 0 0 1 1590.49 317.85)" font-size="45.16" fill="#3a3a3a" stroke="#3a3a3a" stroke-width="1">15</text>
<text transform="matrix(0.99 0 0 1 1583.48 399.96)" font-size="43.53" fill="#3a3a3a" stroke="#3a3a3a" stroke-width="1">13</text>
<text transform="matrix(0.99 0 0 1 1586.8 480.93)" font-size="46.93" fill="#3a3a3a" stroke="#3a3a3a" stroke-width="1">9.6</text>
<text transform="matrix(1.07 0 0 1 1586.67 553.76)" font-size="43.67" fill="#3a3a3a" stroke="#3a3a3a" stroke-width="1">6.7</text>
<text transform="matrix(1.05 0 0 1 1589.78 632.39)" font-size="41.13" fill="#3a3a3a" stroke="#3a3a3a" stroke-width="1">3.8</text>
<text transform="matrix(1.04 0 0 1 1583.05 713.26)" font-size="44.38" fill="#3a3a3a" stroke="#3a3a3a" stroke-width="1">0.9</text>
<text transform="matrix(0 -0.97 1 0 1473.96 649.15)" font-size="53.71" fill="#3a3a3a" stroke="#3a3a3a" stroke-width="1">Signal-to-noise ratio (%)</text>
</g>
<g filter="url(#bl)">
<text transform="matrix(1.03 0 0 1 45.73 95.9)" font-size="69.09" font-weight="700" fill="#000">A</text>
<text transform="matrix(0.86 0 0 1 48.56 942.5)" font-size="69.82" font-weight="700" fill="#000">B</text>
<rect x="481.5" y="970.5" width="27.5" height="23.5" fill="#77933c" rx="1"/>
<text transform="matrix(0.99 0 0 1 520.88 998.2)" font-size="44.22" fill="#111">HAB µP</text>
<rect x="722" y="967.3" width="31" height="30.7" fill="#d7e4bd" rx="3"/>
<text transform="matrix(0.98 0 0 1 761.94 998.2)" font-size="44.22" fill="#111">HAD µP</text>
<rect x="966.5" y="967.3" width="34.5" height="31.2" fill="#9bbb59" rx="3"/>
<text transform="matrix(0.96 0 0 1 1007 998.2)" font-size="44.22" fill="#111">HB µP</text>
<rect x="1183" y="970.5" width="27.5" height="23.5" fill="#4f81bd" rx="1"/>
<text transform="matrix(0.94 0 0 1 1218.64 998.2)" font-size="44.22" fill="#111">SP µP</text>
<rect x="1388" y="970.5" width="23" height="23.5" fill="#b9cde5" rx="1"/>
<text transform="matrix(0.93 0 0 1 1423.16 998.2)" font-size="44.22" fill="#111">SPR1 µP</text>
<rect x="1637" y="967.5" width="34.5" height="31.5" fill="#376092" rx="3"/>
<text transform="matrix(0.93 0 0 1 1679.14 998.2)" font-size="44.22" fill="#111">SPR2 µP</text>
<rect x="340.8" y="1167.8" width="35.8" height="714.8" fill="#77933c"/>
<rect x="371.9" y="1853.5" width="33.6" height="29.1" fill="#d7e4bd"/>
<rect x="405.1" y="1842.5" width="39" height="40.1" fill="#9bbb59"/>
<rect x="443.7" y="1848.5" width="33.7" height="34.1" fill="#4f81bd"/>
<rect x="477" y="1844" width="37.6" height="38.6" fill="#b9cde5"/>
<rect x="514.2" y="1845.5" width="42.2" height="37.1" fill="#376092"/>
<rect x="577.3" y="1843.5" width="32.3" height="39.1" fill="#77933c"/>
<rect x="609.2" y="1215.5" width="43.5" height="667.1" fill="#d7e4bd"/>
<rect x="645.5" y="1844" width="39.9" height="38.6" fill="#9bbb59"/>
<rect x="685" y="1852.5" width="33.6" height="30.1" fill="#4f81bd"/>
<rect x="718.2" y="1846" width="33.7" height="36.6" fill="#b9cde5"/>
<rect x="751.5" y="1843" width="41.6" height="39.6" fill="#376092"/>
<rect x="814.6" y="1842" width="31.7" height="40.6" fill="#77933c"/>
<rect x="845.9" y="1852" width="36.9" height="30.6" fill="#d7e4bd"/>
<rect x="882.4" y="1416.4" width="44.3" height="466.2" fill="#9bbb59"/>
<rect x="919.7" y="1851.5" width="38.9" height="31.1" fill="#4f81bd"/>
<rect x="958.2" y="1844.2" width="33.7" height="38.4" fill="#b9cde5"/>
<rect x="991.5" y="1836" width="42.3" height="46.6" fill="#376092"/>
<rect x="1054.9" y="1856" width="32.4" height="26.6" fill="#77933c"/>
<rect x="1086.9" y="1852.8" width="37.6" height="29.8" fill="#d7e4bd"/>
<rect x="1124.1" y="1847.5" width="35.6" height="35.1" fill="#9bbb59"/>
<rect x="1159.3" y="1343.6" width="35.9" height="539" fill="#4f81bd"/>
<rect x="1192.6" y="1843" width="35.6" height="39.6" fill="#b9cde5"/>
<rect x="1227.8" y="1839.5" width="43.6" height="43.1" fill="#376092"/>
<rect x="1291" y="1847.5" width="32.3" height="35.1" fill="#77933c"/>
<rect x="1322.9" y="1851.5" width="38.3" height="31.1" fill="#d7e4bd"/>
<rect x="1360.8" y="1847.5" width="38.9" height="35.1" fill="#9bbb59"/>
<rect x="1399.3" y="1842.6" width="37" height="40" fill="#4f81bd"/>
<rect x="1435.9" y="1451.5" width="31.7" height="431.1" fill="#b9cde5"/>
<rect x="1466.5" y="1854" width="40.9" height="28.6" fill="#376092"/>
<rect x="1531.9" y="1847" width="28.4" height="35.6" fill="#77933c"/>
<rect x="1559.9" y="1850.5" width="36.9" height="32.1" fill="#d7e4bd"/>
<rect x="1596.4" y="1855.5" width="43.7" height="27.1" fill="#9bbb59"/>
<rect x="1639.7" y="1858.8" width="32.3" height="23.8" fill="#4f81bd"/>
<rect x="1671.6" y="1850.5" width="33.6" height="32.1" fill="#b9cde5"/>
<rect x="1704.8" y="1431.7" width="43.9" height="450.9" fill="#376092"/>
<rect x="1768.6" y="1848.6" width="31.7" height="34" fill="#77933c"/>
<rect x="1799.9" y="1851" width="36.9" height="31.6" fill="#d7e4bd"/>
<rect x="1836.4" y="1850.5" width="37" height="32.1" fill="#9bbb59"/>
<rect x="1873" y="1846.5" width="36.3" height="36.1" fill="#4f81bd"/>
<rect x="1908.9" y="1843.5" width="33.7" height="39.1" fill="#b9cde5"/>
<rect x="1942.2" y="1842" width="42.5" height="40.6" fill="#376092"/>
<path d="M337.4 1144H376.8M337.4 1189.4H376.8M357.9 1144V1189.4" stroke="#000" stroke-width="3.5" fill="none"/>
<path d="M409 1838.6H447.7M409 1845.4H447.7M429 1838.6V1845.4" stroke="#000" stroke-width="3.5" fill="none"/>
<path d="M446 1847.4H480M446 1855.2H480M463 1847.4V1855.2" stroke="#000" stroke-width="3.5" fill="none"/>
<path d="M478 1842.6H515.5M478 1853.9H515.5M499.5 1842.6V1853.9" stroke="#000" stroke-width="3.5" fill="none"/>
<path d="M573.3 1842.6H615.9M573.3 1850.6H615.9M595.2 1842.6V1850.6" stroke="#000" stroke-width="3.5" fill="none"/>
<path d="M608.7 1172.7H654.1M608.7 1265H654.1M631.5 1172.7V1265" stroke="#000" stroke-width="3.5" fill="none"/>
<path d="M646.4 1842.6H685M646.4 1853.2H685M667 1842.6V1853.2" stroke="#000" stroke-width="3.5" fill="none"/>
<path d="M718.2 1841.9H751.5M718.2 1850H751.5M735.5 1841.9V1850" stroke="#000" stroke-width="3.5" fill="none"/>
<path d="M751.5 1841.9H792.7M751.5 1851.2H792.7M772 1841.9V1851.2" stroke="#000" stroke-width="3.5" fill="none"/>
<path d="M814.6 1838.6H853.2M814.6 1845.9H853.2M832.6 1838.6V1845.9" stroke="#000" stroke-width="3.5" fill="none"/>
<path d="M850.5 1845.9H888.4M850.5 1854.5H888.4M869.1 1845.9V1854.5" stroke="#000" stroke-width="3.5" fill="none"/>
<path d="M883 1377.4H926M883 1457.2H926M904.6 1377.4V1457.2" stroke="#000" stroke-width="3.5" fill="none"/>
<path d="M991.5 1834.6H1031.4M991.5 1842.6H1031.4M1011.5 1834.6V1842.6" stroke="#000" stroke-width="3.5" fill="none"/>
<path d="M1159 1317.4H1198.8M1159 1373.3H1198.8M1177.5 1317.4V1373.3" stroke="#000" stroke-width="3.5" fill="none"/>
<path d="M1192 1838.6H1229M1192 1846.6H1229M1211 1838.6V1846.6" stroke="#000" stroke-width="3.5" fill="none"/>
<path d="M1229 1838.6H1271M1229 1846.6H1271M1249.5 1838.6V1846.6" stroke="#000" stroke-width="3.5" fill="none"/>
<path d="M1396 1830.6H1434.5M1396 1849.9H1434.5M1418 1830.6V1849.9" stroke="#000" stroke-width="3.5" fill="none"/>
<path d="M1431.8 1413.2H1471.7M1431.8 1486H1471.7M1453.5 1413.2V1486" stroke="#000" stroke-width="3.5" fill="none"/>
<path d="M1601.8 1847.2H1637.7M1601.8 1855.2H1637.7M1618.4 1847.2V1855.2" stroke="#000" stroke-width="3.5" fill="none"/>
<path d="M1636.3 1847.2H1673.6M1636.3 1858.5H1673.6M1655 1847.2V1858.5" stroke="#000" stroke-width="3.5" fill="none"/>
<path d="M1669.6 1842.6H1710.8M1669.6 1849.9H1710.8M1689.5 1842.6V1849.9" stroke="#000" stroke-width="3.5" fill="none"/>
<path d="M1704.7 1401H1744.6M1704.7 1469.7H1744.6M1726.8 1401V1469.7" stroke="#000" stroke-width="3.5" fill="none"/>
<path d="M1764.6 1842.6H1807.2M1764.6 1858.5H1807.2M1787.2 1842.6V1858.5" stroke="#000" stroke-width="3.5" fill="none"/>
<path d="M1803.2 1847.2H1837.8M1803.2 1852.6H1837.8M1823 1847.2V1852.6" stroke="#000" stroke-width="3.5" fill="none"/>
<path d="M1909.6 1838.6H1944M1909.6 1854.5H1944M1927.5 1838.6V1854.5" stroke="#000" stroke-width="3.5" fill="none"/>
<path d="M1942.2 1838.6H1984.7M1942.2 1854.5H1984.7M1962.8 1838.6V1854.5" stroke="#000" stroke-width="3.5" fill="none"/>
<rect x="373.2" y="1849.3" width="37.2" height="6.5" fill="#000"/>
<rect x="514.2" y="1840.7" width="41.8" height="7.1" fill="#000"/>
<rect x="686" y="1848.6" width="33.5" height="5.9" fill="#000"/>
<rect x="919" y="1844.6" width="41.9" height="7.2" fill="#000"/>
<rect x="954.9" y="1837.3" width="36.6" height="7.2" fill="#000"/>
<rect x="1051" y="1849.3" width="38.5" height="7.8" fill="#000"/>
<rect x="1086.9" y="1848.6" width="38.6" height="4.6" fill="#000"/>
<rect x="1123.4" y="1840.7" width="39.3" height="7.8" fill="#000"/>
<rect x="1287.6" y="1844" width="37.9" height="3.8" fill="#000"/>
<rect x="1321.5" y="1845.3" width="41.2" height="6.5" fill="#000"/>
<rect x="1360.8" y="1840.7" width="37.9" height="7.8" fill="#000"/>
<rect x="1466.5" y="1849.3" width="40.5" height="5.8" fill="#000"/>
<rect x="1528" y="1840.7" width="39.2" height="7.1" fill="#000"/>
<rect x="1565.9" y="1845.3" width="37.1" height="5.9" fill="#000"/>
<rect x="1837.8" y="1845.3" width="35.9" height="5.9" fill="#000"/>
<rect x="1873" y="1840.7" width="36.6" height="6.5" fill="#000"/>
<path d="M326.6 1058.5L326.6 1904.5" stroke="#000" stroke-width="3.6"/>
<path d="M304.6 1882.6L1996.7 1882.6" stroke="#000" stroke-width="3.6"/>
<path d="M304.6 1060.3L326.6 1060.3" stroke="#000" stroke-width="3.4"/>
<path d="M304.6 1180.9L326.6 1180.9" stroke="#000" stroke-width="3.4"/>
<path d="M562.8 1882.6L562.8 1904.5" stroke="#000" stroke-width="3.4"/>
<path d="M304.6 1296.5L326.6 1296.5" stroke="#000" stroke-width="3.4"/>
<path d="M803.4 1882.6L803.4 1904.5" stroke="#000" stroke-width="3.4"/>
<path d="M304.6 1413.2L326.6 1413.2" stroke="#000" stroke-width="3.4"/>
<path d="M1040.6 1882.6L1040.6 1904.5" stroke="#000" stroke-width="3.4"/>
<path d="M304.6 1529.1L326.6 1529.1" stroke="#000" stroke-width="3.4"/>
<path d="M1281.3 1882.6L1281.3 1904.5" stroke="#000" stroke-width="3.4"/>
<path d="M304.6 1645.5L326.6 1645.5" stroke="#000" stroke-width="3.4"/>
<path d="M1517.2 1882.6L1517.2 1904.5" stroke="#000" stroke-width="3.4"/>
<path d="M304.6 1766.1L326.6 1766.1" stroke="#000" stroke-width="3.4"/>
<path d="M1754.5 1882.6L1754.5 1904.5" stroke="#000" stroke-width="3.4"/>
<path d="M1994.9 1882.6L1994.9 1904.5" stroke="#000" stroke-width="3.4"/>
<text transform="matrix(1.06 0 0 1 183.54 1078.19)" font-size="51.17" fill="#1a1a1a">140</text>
<text transform="matrix(1.06 0 0 1 183.54 1199.19)" font-size="51.17" fill="#1a1a1a">120</text>
<text transform="matrix(1.04 0 0 1 183.54 1315.38)" font-size="52.16" fill="#1a1a1a">100</text>
<text transform="matrix(1 0 0 1 210.53 1432.47)" font-size="53.14" fill="#1a1a1a">80</text>
<text transform="matrix(1.03 0 0 1 211.58 1547.29)" font-size="50.74" fill="#1a1a1a">60</text>
<text transform="matrix(1.03 0 0 1 211.01 1664.79)" font-size="51.31" fill="#1a1a1a">40</text>
<text transform="matrix(1.03 0 0 1 210.85 1784.09)" font-size="51.31" fill="#1a1a1a">20</text>
<text transform="matrix(1.12 0 0 1 242.55 1899.8)" font-size="50.32" fill="#1a1a1a">0</text>
<text transform="matrix(0 -0.94 1 0 152 1812.9)" font-size="64.29" fill="#1c1c1c">Fluorescent signal (a.u.)</text>
<text transform="matrix(0.93 0 0 1 387.55 1988.2)" font-size="62.11" fill="#1a1a1a">HAB</text>
<text transform="matrix(0.92 0 0 1 624.29 1988.2)" font-size="62.11" fill="#1a1a1a">HAD</text>
<text transform="matrix(0.91 0 0 1 881.75 1988.2)" font-size="62.11" fill="#1a1a1a">HB</text>
<text transform="matrix(0.82 0 0 1 1126.62 1988.2)" font-size="62.11" fill="#1a1a1a">SP</text>
<text transform="matrix(0.84 0 0 1 1331.26 1988.2)" font-size="62.11" fill="#1a1a1a">SPR1</text>
<text transform="matrix(0.83 0 0 1 1567.98 1988.2)" font-size="62.11" fill="#1a1a1a">SPR2</text>
<text transform="matrix(1.03 0 0 1 1836.1 1988.2)" font-size="62.11" fill="#1a1a1a">No</text>
<text transform="matrix(1.12 0 0 1 1794.02 2067.96)" font-size="58.24" fill="#1a1a1a">target</text>
</g>
</svg>
</body>
</html>
